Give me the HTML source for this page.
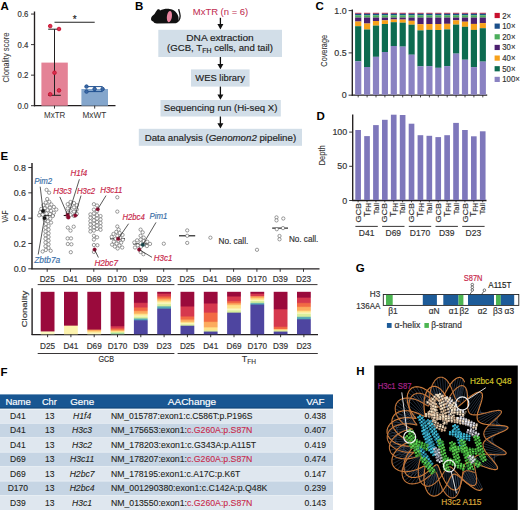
<!DOCTYPE html>
<html><head><meta charset="utf-8"><style>
html,body{margin:0;padding:0;background:#fff;}
svg{display:block;font-family:"Liberation Sans", sans-serif;}
</style></head><body>
<svg width="520" height="510" viewBox="0 0 520 510">
<defs><filter id="hblur" x="-10%" y="-10%" width="120%" height="120%"><feGaussianBlur stdDeviation="0.6"/></filter><clipPath id="hclip"><rect x="374.3" y="365.5" width="143.5" height="144.5"/></clipPath></defs>
<rect width="520" height="510" fill="#fff"/>
<text x="0.5" y="10.3" font-size="11.5" text-anchor="start" fill="#000" font-weight="bold" >A</text>
<line x1="31" y1="105.7" x2="34.5" y2="105.7" stroke="#231f20" stroke-width="0.9" />
<text x="28.4" y="108.9" font-size="8.9" text-anchor="end" fill="#333" stroke="#333" stroke-width="0.17" textLength="10.8" lengthAdjust="spacingAndGlyphs" >0.0</text>
<line x1="31" y1="75.15" x2="34.5" y2="75.15" stroke="#231f20" stroke-width="0.9" />
<text x="28.4" y="78.35" font-size="8.9" text-anchor="end" fill="#333" stroke="#333" stroke-width="0.17" textLength="10.8" lengthAdjust="spacingAndGlyphs" >0.2</text>
<line x1="31" y1="44.6" x2="34.5" y2="44.6" stroke="#231f20" stroke-width="0.9" />
<text x="28.4" y="47.8" font-size="8.9" text-anchor="end" fill="#333" stroke="#333" stroke-width="0.17" textLength="10.8" lengthAdjust="spacingAndGlyphs" >0.4</text>
<line x1="31" y1="14.05" x2="34.5" y2="14.05" stroke="#231f20" stroke-width="0.9" />
<text x="28.4" y="17.25" font-size="8.9" text-anchor="end" fill="#333" stroke="#333" stroke-width="0.17" textLength="10.8" lengthAdjust="spacingAndGlyphs" >0.6</text>
<line x1="34.5" y1="11.5" x2="34.5" y2="106.3" stroke="#231f20" stroke-width="1.35" />
<line x1="34" y1="105.7" x2="115.5" y2="105.7" stroke="#231f20" stroke-width="1.3" />
<rect x="41.4" y="62.6" width="26.4" height="43.1" fill="#e48296" />
<rect x="81.4" y="89" width="26.6" height="16.7" fill="#84a6cc" />
<line x1="54.5" y1="105.7" x2="54.5" y2="108.6" stroke="#231f20" stroke-width="0.9" />
<line x1="94.7" y1="105.7" x2="94.7" y2="108.6" stroke="#231f20" stroke-width="0.9" />
<line x1="54.5" y1="29.2" x2="54.5" y2="95.3" stroke="#231f20" stroke-width="1" />
<line x1="48.2" y1="29.2" x2="60.8" y2="29.2" stroke="#231f20" stroke-width="1" />
<line x1="48.2" y1="95.3" x2="60.8" y2="95.3" stroke="#231f20" stroke-width="1" />
<line x1="54.5" y1="22.2" x2="94.7" y2="22.2" stroke="#222" stroke-width="1.05" />
<text x="74.7" y="23.2" font-size="10" text-anchor="middle" fill="#222" stroke="#222" stroke-width="0.17" >*</text>
<line x1="86.5" y1="86.6" x2="102.6" y2="86.6" stroke="#1f4f8f" stroke-width="1" />
<line x1="86.5" y1="91.6" x2="102.6" y2="91.6" stroke="#1f4f8f" stroke-width="1" />
<line x1="94.6" y1="86.6" x2="94.6" y2="91.6" stroke="#1f4f8f" stroke-width="1" />
<circle cx="50.2" cy="26.1" r="1.8" fill="#d83050" stroke="#c8102e" stroke-width="0.9"/>
<circle cx="59" cy="29" r="1.8" fill="#d83050" stroke="#c8102e" stroke-width="0.9"/>
<circle cx="54.5" cy="72.7" r="1.8" fill="#d83050" stroke="#c8102e" stroke-width="0.9"/>
<circle cx="59" cy="90.4" r="1.8" fill="#d83050" stroke="#c8102e" stroke-width="0.9"/>
<circle cx="50.2" cy="94.3" r="1.8" fill="#d83050" stroke="#c8102e" stroke-width="0.9"/>
<circle cx="86.5" cy="86.6" r="1.75" fill="#3d69a5" stroke="#1f4f8f" stroke-width="0.9"/>
<circle cx="86.5" cy="91.6" r="1.75" fill="#3d69a5" stroke="#1f4f8f" stroke-width="0.9"/>
<circle cx="94.6" cy="89" r="1.75" fill="#3d69a5" stroke="#1f4f8f" stroke-width="0.9"/>
<circle cx="102.6" cy="89" r="1.75" fill="#3d69a5" stroke="#1f4f8f" stroke-width="0.9"/>
<text x="54.7" y="117.9" font-size="8.9" text-anchor="middle" fill="#333" stroke="#333" stroke-width="0.02" textLength="21.2" lengthAdjust="spacingAndGlyphs" >MxTR</text>
<text x="94.4" y="117.9" font-size="8.9" text-anchor="middle" fill="#333" stroke="#333" stroke-width="0.02" textLength="23.8" lengthAdjust="spacingAndGlyphs" >MxWT</text>
<text x="0" y="0" font-size="9.2" text-anchor="middle" fill="#333" stroke="#333" stroke-width="0.05" textLength="50" lengthAdjust="spacingAndGlyphs" transform="translate(8.6,57.5) rotate(-90)">Clonality score</text>
<text x="135" y="10.3" font-size="11.5" text-anchor="start" fill="#000" font-weight="bold" >B</text>
<path d="M151,19 C151,17 152.5,15.5 154.5,14 C155.5,12.5 156.5,10.8 157.5,9.6 C158.5,8.8 159.8,9.3 160,10.6 C162.5,9.2 166,8.6 169.5,8.9 C174,9.3 177.5,12.5 178.5,17 C179,20 178,22.5 176,23.3 L157,23.4 C155,23.4 153.8,22.8 153.5,21.8 C152.2,21.3 151,20.5 151,19 Z" fill="#111"/>
<path d="M177,21.8 C180,20.8 180.6,16.5 179.7,13.2 C179.2,11.5 178.9,10.4 178.7,9.2" fill="none" stroke="#111" stroke-width="1.3"/>
<ellipse cx="169.4" cy="16.6" rx="2.5" ry="5.7" fill="#e9849f" transform="rotate(8 169.4 16.6)"/>
<text x="192.8" y="14.6" font-size="9" text-anchor="start" fill="#c22e52" stroke="#c22e52" stroke-width="0.05" textLength="55.4" lengthAdjust="spacingAndGlyphs" >MxTR (n = 6)</text>
<line x1="220.4" y1="17.8" x2="220.4" y2="25.4" stroke="#111" stroke-width="1.3" />
<path d="M217.4,24.1 L223.4,24.1 L220.4,29.4 Z" fill="#111"/>
<rect x="158.3" y="29.8" width="123.7" height="27.2" fill="#d2dee8" />
<text x="220" y="40.6" font-size="9.9" text-anchor="middle" fill="#222" stroke="#222" stroke-width="0.17" textLength="67.4" lengthAdjust="spacingAndGlyphs" >DNA extraction</text>
<text x="220" y="51.2" font-size="9.9" stroke="#222" stroke-width="0.18" text-anchor="middle" fill="#222" textLength="105.8" lengthAdjust="spacingAndGlyphs">(GCB, T<tspan font-size="7.2" dy="1.9">FH</tspan><tspan dy="-1.9"> cells, and tail)</tspan></text>
<line x1="220.4" y1="57" x2="220.4" y2="65.2" stroke="#111" stroke-width="1.3" />
<path d="M217.4,63.9 L223.4,63.9 L220.4,69.2 Z" fill="#111"/>
<rect x="191" y="69.4" width="58.6" height="17.2" fill="#d2dee8" />
<text x="220.1" y="80.8" font-size="9.9" text-anchor="middle" fill="#222" stroke="#222" stroke-width="0.17" textLength="49.6" lengthAdjust="spacingAndGlyphs" >WES library</text>
<line x1="220.4" y1="86.6" x2="220.4" y2="95.8" stroke="#111" stroke-width="1.3" />
<path d="M217.4,94.5 L223.4,94.5 L220.4,99.8 Z" fill="#111"/>
<rect x="160.5" y="100" width="120.3" height="16.5" fill="#d2dee8" />
<text x="220.6" y="110.5" font-size="9.9" text-anchor="middle" fill="#222" stroke="#222" stroke-width="0.17" textLength="113.8" lengthAdjust="spacingAndGlyphs" >Sequencing run (Hi-seq X)</text>
<line x1="220.4" y1="116.5" x2="220.4" y2="124.6" stroke="#111" stroke-width="1.3" />
<path d="M217.4,123.3 L223.4,123.3 L220.4,128.6 Z" fill="#111"/>
<rect x="138.8" y="128.8" width="163.2" height="17" fill="#d2dee8" />
<text x="220.4" y="141" font-size="9.9" stroke="#222" stroke-width="0.18" text-anchor="middle" fill="#222" textLength="151.5" lengthAdjust="spacingAndGlyphs">Data analysis (<tspan font-style="italic">Genomon2</tspan> pipeline)</text>
<text x="315.5" y="10.3" font-size="11.5" text-anchor="start" fill="#000" font-weight="bold" >C</text>
<line x1="352.3" y1="9.5" x2="352.3" y2="95.7" stroke="#231f20" stroke-width="1.35" />
<line x1="351.8" y1="95.2" x2="487.2" y2="95.2" stroke="#231f20" stroke-width="1.3" />
<line x1="348.6" y1="95.2" x2="352.3" y2="95.2" stroke="#231f20" stroke-width="0.9" />
<text x="346.6" y="98.3" font-size="8.9" text-anchor="end" fill="#333" stroke="#333" stroke-width="0.17" >0</text>
<line x1="348.6" y1="52.9" x2="352.3" y2="52.9" stroke="#231f20" stroke-width="0.9" />
<text x="346.6" y="56" font-size="8.9" text-anchor="end" fill="#333" stroke="#333" stroke-width="0.17" >0.5</text>
<line x1="348.6" y1="10.6" x2="352.3" y2="10.6" stroke="#231f20" stroke-width="0.9" />
<text x="346.6" y="13.7" font-size="8.9" text-anchor="end" fill="#333" stroke="#333" stroke-width="0.17" >1.0</text>
<text x="0" y="0" font-size="9.2" text-anchor="middle" fill="#333" stroke="#333" stroke-width="0.08" textLength="31.7" lengthAdjust="spacingAndGlyphs" transform="translate(327.4,50.8) rotate(-90)">Coverage</text>
<rect x="355.1" y="12.8" width="6.2" height="0.95" fill="#c8102e" />
<rect x="355.1" y="13.7" width="6.2" height="1.65" fill="#1b4f8a" />
<rect x="355.1" y="15.3" width="6.2" height="2.35" fill="#4cae5c" />
<rect x="355.1" y="17.6" width="6.2" height="3.95" fill="#4b1f6f" />
<rect x="355.1" y="21.5" width="6.2" height="4.75" fill="#f7a11a" />
<rect x="355.1" y="26.2" width="6.2" height="35.15" fill="#0d6b50" />
<rect x="355.1" y="61.3" width="6.2" height="33.45" fill="#8a82c2" />
<line x1="358.2" y1="95.2" x2="358.2" y2="97.4" stroke="#231f20" stroke-width="0.8" />
<rect x="364" y="12.8" width="6.2" height="0.95" fill="#c8102e" />
<rect x="364" y="13.7" width="6.2" height="1.65" fill="#1b4f8a" />
<rect x="364" y="15.3" width="6.2" height="2.35" fill="#4cae5c" />
<rect x="364" y="17.6" width="6.2" height="5.95" fill="#4b1f6f" />
<rect x="364" y="23.5" width="6.2" height="6.05" fill="#f7a11a" />
<rect x="364" y="29.5" width="6.2" height="37.55" fill="#0d6b50" />
<rect x="364" y="67" width="6.2" height="27.75" fill="#8a82c2" />
<line x1="367.1" y1="95.2" x2="367.1" y2="97.4" stroke="#231f20" stroke-width="0.8" />
<rect x="372.9" y="12.8" width="6.2" height="0.95" fill="#c8102e" />
<rect x="372.9" y="13.7" width="6.2" height="1.65" fill="#1b4f8a" />
<rect x="372.9" y="15.3" width="6.2" height="2.35" fill="#4cae5c" />
<rect x="372.9" y="17.6" width="6.2" height="3.45" fill="#4b1f6f" />
<rect x="372.9" y="21" width="6.2" height="4.65" fill="#f7a11a" />
<rect x="372.9" y="25.6" width="6.2" height="31.25" fill="#0d6b50" />
<rect x="372.9" y="56.8" width="6.2" height="37.95" fill="#8a82c2" />
<line x1="376" y1="95.2" x2="376" y2="97.4" stroke="#231f20" stroke-width="0.8" />
<rect x="381.8" y="12.8" width="6.2" height="0.95" fill="#c8102e" />
<rect x="381.8" y="13.7" width="6.2" height="1.65" fill="#1b4f8a" />
<rect x="381.8" y="15.3" width="6.2" height="2.35" fill="#4cae5c" />
<rect x="381.8" y="17.6" width="6.2" height="2.75" fill="#4b1f6f" />
<rect x="381.8" y="20.3" width="6.2" height="3.75" fill="#f7a11a" />
<rect x="381.8" y="24" width="6.2" height="28.05" fill="#0d6b50" />
<rect x="381.8" y="52" width="6.2" height="42.75" fill="#8a82c2" />
<line x1="384.9" y1="95.2" x2="384.9" y2="97.4" stroke="#231f20" stroke-width="0.8" />
<rect x="390.7" y="12.8" width="6.2" height="0.95" fill="#c8102e" />
<rect x="390.7" y="13.7" width="6.2" height="1.65" fill="#1b4f8a" />
<rect x="390.7" y="15.3" width="6.2" height="2.35" fill="#4cae5c" />
<rect x="390.7" y="17.6" width="6.2" height="1.95" fill="#4b1f6f" />
<rect x="390.7" y="19.5" width="6.2" height="2.75" fill="#f7a11a" />
<rect x="390.7" y="22.2" width="6.2" height="23.85" fill="#0d6b50" />
<rect x="390.7" y="46" width="6.2" height="48.75" fill="#8a82c2" />
<line x1="393.8" y1="95.2" x2="393.8" y2="97.4" stroke="#231f20" stroke-width="0.8" />
<rect x="399.6" y="12.8" width="6.2" height="0.95" fill="#c8102e" />
<rect x="399.6" y="13.7" width="6.2" height="1.65" fill="#1b4f8a" />
<rect x="399.6" y="15.3" width="6.2" height="2.35" fill="#4cae5c" />
<rect x="399.6" y="17.6" width="6.2" height="2.05" fill="#4b1f6f" />
<rect x="399.6" y="19.6" width="6.2" height="3.15" fill="#f7a11a" />
<rect x="399.6" y="22.7" width="6.2" height="23.95" fill="#0d6b50" />
<rect x="399.6" y="46.6" width="6.2" height="48.15" fill="#8a82c2" />
<line x1="402.7" y1="95.2" x2="402.7" y2="97.4" stroke="#231f20" stroke-width="0.8" />
<rect x="408.5" y="12.8" width="6.2" height="0.95" fill="#c8102e" />
<rect x="408.5" y="13.7" width="6.2" height="1.65" fill="#1b4f8a" />
<rect x="408.5" y="15.3" width="6.2" height="2.35" fill="#4cae5c" />
<rect x="408.5" y="17.6" width="6.2" height="3.25" fill="#4b1f6f" />
<rect x="408.5" y="20.8" width="6.2" height="3.95" fill="#f7a11a" />
<rect x="408.5" y="24.7" width="6.2" height="30.05" fill="#0d6b50" />
<rect x="408.5" y="54.7" width="6.2" height="40.05" fill="#8a82c2" />
<line x1="411.6" y1="95.2" x2="411.6" y2="97.4" stroke="#231f20" stroke-width="0.8" />
<rect x="417.4" y="12.8" width="6.2" height="0.95" fill="#c8102e" />
<rect x="417.4" y="13.7" width="6.2" height="1.65" fill="#1b4f8a" />
<rect x="417.4" y="15.3" width="6.2" height="2.35" fill="#4cae5c" />
<rect x="417.4" y="17.6" width="6.2" height="6.65" fill="#4b1f6f" />
<rect x="417.4" y="24.2" width="6.2" height="6.25" fill="#f7a11a" />
<rect x="417.4" y="30.4" width="6.2" height="35.95" fill="#0d6b50" />
<rect x="417.4" y="66.3" width="6.2" height="28.45" fill="#8a82c2" />
<line x1="420.5" y1="95.2" x2="420.5" y2="97.4" stroke="#231f20" stroke-width="0.8" />
<rect x="426.3" y="12.8" width="6.2" height="0.95" fill="#c8102e" />
<rect x="426.3" y="13.7" width="6.2" height="1.65" fill="#1b4f8a" />
<rect x="426.3" y="15.3" width="6.2" height="2.35" fill="#4cae5c" />
<rect x="426.3" y="17.6" width="6.2" height="6.45" fill="#4b1f6f" />
<rect x="426.3" y="24" width="6.2" height="5.85" fill="#f7a11a" />
<rect x="426.3" y="29.8" width="6.2" height="36.35" fill="#0d6b50" />
<rect x="426.3" y="66.1" width="6.2" height="28.65" fill="#8a82c2" />
<line x1="429.4" y1="95.2" x2="429.4" y2="97.4" stroke="#231f20" stroke-width="0.8" />
<rect x="435.2" y="12.8" width="6.2" height="0.95" fill="#c8102e" />
<rect x="435.2" y="13.7" width="6.2" height="1.65" fill="#1b4f8a" />
<rect x="435.2" y="15.3" width="6.2" height="2.35" fill="#4cae5c" />
<rect x="435.2" y="17.6" width="6.2" height="6.45" fill="#4b1f6f" />
<rect x="435.2" y="24" width="6.2" height="6.05" fill="#f7a11a" />
<rect x="435.2" y="30" width="6.2" height="37.85" fill="#0d6b50" />
<rect x="435.2" y="67.8" width="6.2" height="26.95" fill="#8a82c2" />
<line x1="438.3" y1="95.2" x2="438.3" y2="97.4" stroke="#231f20" stroke-width="0.8" />
<rect x="444.1" y="12.8" width="6.2" height="0.95" fill="#c8102e" />
<rect x="444.1" y="13.7" width="6.2" height="1.65" fill="#1b4f8a" />
<rect x="444.1" y="15.3" width="6.2" height="2.35" fill="#4cae5c" />
<rect x="444.1" y="17.6" width="6.2" height="6.25" fill="#4b1f6f" />
<rect x="444.1" y="23.8" width="6.2" height="5.65" fill="#f7a11a" />
<rect x="444.1" y="29.4" width="6.2" height="36.75" fill="#0d6b50" />
<rect x="444.1" y="66.1" width="6.2" height="28.65" fill="#8a82c2" />
<line x1="447.2" y1="95.2" x2="447.2" y2="97.4" stroke="#231f20" stroke-width="0.8" />
<rect x="453" y="12.8" width="6.2" height="0.95" fill="#c8102e" />
<rect x="453" y="13.7" width="6.2" height="1.65" fill="#1b4f8a" />
<rect x="453" y="15.3" width="6.2" height="2.35" fill="#4cae5c" />
<rect x="453" y="17.6" width="6.2" height="2.75" fill="#4b1f6f" />
<rect x="453" y="20.3" width="6.2" height="4.35" fill="#f7a11a" />
<rect x="453" y="24.6" width="6.2" height="29.05" fill="#0d6b50" />
<rect x="453" y="53.6" width="6.2" height="41.15" fill="#8a82c2" />
<line x1="456.1" y1="95.2" x2="456.1" y2="97.4" stroke="#231f20" stroke-width="0.8" />
<rect x="461.9" y="12.8" width="6.2" height="0.95" fill="#c8102e" />
<rect x="461.9" y="13.7" width="6.2" height="1.65" fill="#1b4f8a" />
<rect x="461.9" y="15.3" width="6.2" height="2.35" fill="#4cae5c" />
<rect x="461.9" y="17.6" width="6.2" height="4.15" fill="#4b1f6f" />
<rect x="461.9" y="21.7" width="6.2" height="5.15" fill="#f7a11a" />
<rect x="461.9" y="26.8" width="6.2" height="32.95" fill="#0d6b50" />
<rect x="461.9" y="59.7" width="6.2" height="35.05" fill="#8a82c2" />
<line x1="465" y1="95.2" x2="465" y2="97.4" stroke="#231f20" stroke-width="0.8" />
<rect x="470.8" y="12.8" width="6.2" height="0.95" fill="#c8102e" />
<rect x="470.8" y="13.7" width="6.2" height="1.65" fill="#1b4f8a" />
<rect x="470.8" y="15.3" width="6.2" height="2.35" fill="#4cae5c" />
<rect x="470.8" y="17.6" width="6.2" height="6.35" fill="#4b1f6f" />
<rect x="470.8" y="23.9" width="6.2" height="6.05" fill="#f7a11a" />
<rect x="470.8" y="29.9" width="6.2" height="37.25" fill="#0d6b50" />
<rect x="470.8" y="67.1" width="6.2" height="27.65" fill="#8a82c2" />
<line x1="473.9" y1="95.2" x2="473.9" y2="97.4" stroke="#231f20" stroke-width="0.8" />
<rect x="479.7" y="12.8" width="6.2" height="0.95" fill="#c8102e" />
<rect x="479.7" y="13.7" width="6.2" height="1.65" fill="#1b4f8a" />
<rect x="479.7" y="15.3" width="6.2" height="2.35" fill="#4cae5c" />
<rect x="479.7" y="17.6" width="6.2" height="5.55" fill="#4b1f6f" />
<rect x="479.7" y="23.1" width="6.2" height="5.15" fill="#f7a11a" />
<rect x="479.7" y="28.2" width="6.2" height="33.45" fill="#0d6b50" />
<rect x="479.7" y="61.6" width="6.2" height="33.15" fill="#8a82c2" />
<line x1="482.8" y1="95.2" x2="482.8" y2="97.4" stroke="#231f20" stroke-width="0.8" />
<rect x="494.6" y="12.9" width="5.2" height="5.2" fill="#c8102e" />
<text x="502.3" y="18.5" font-size="8.7" text-anchor="start" fill="#333" stroke="#333" stroke-width="0.17" textLength="8.85" lengthAdjust="spacingAndGlyphs" >2&#215;</text>
<rect x="494.6" y="23.55" width="5.2" height="5.2" fill="#1b4f8a" />
<text x="502.3" y="29.15" font-size="8.7" text-anchor="start" fill="#333" stroke="#333" stroke-width="0.17" textLength="13.16" lengthAdjust="spacingAndGlyphs" >10&#215;</text>
<rect x="494.6" y="34.2" width="5.2" height="5.2" fill="#4cae5c" />
<text x="502.3" y="39.8" font-size="8.7" text-anchor="start" fill="#333" stroke="#333" stroke-width="0.17" textLength="13.16" lengthAdjust="spacingAndGlyphs" >20&#215;</text>
<rect x="494.6" y="44.85" width="5.2" height="5.2" fill="#4b1f6f" />
<text x="502.3" y="50.45" font-size="8.7" text-anchor="start" fill="#333" stroke="#333" stroke-width="0.17" textLength="13.16" lengthAdjust="spacingAndGlyphs" >30&#215;</text>
<rect x="494.6" y="55.5" width="5.2" height="5.2" fill="#f7a11a" />
<text x="502.3" y="61.1" font-size="8.7" text-anchor="start" fill="#333" stroke="#333" stroke-width="0.17" textLength="13.16" lengthAdjust="spacingAndGlyphs" >40&#215;</text>
<rect x="494.6" y="66.15" width="5.2" height="5.2" fill="#0d6b50" />
<text x="502.3" y="71.75" font-size="8.7" text-anchor="start" fill="#333" stroke="#333" stroke-width="0.17" textLength="13.16" lengthAdjust="spacingAndGlyphs" >50&#215;</text>
<rect x="494.6" y="76.8" width="5.2" height="5.2" fill="#8a82c2" />
<text x="502.3" y="82.4" font-size="8.7" text-anchor="start" fill="#333" stroke="#333" stroke-width="0.17" textLength="17.48" lengthAdjust="spacingAndGlyphs" >100&#215;</text>
<text x="316.5" y="120.3" font-size="11.5" text-anchor="start" fill="#000" font-weight="bold" >D</text>
<line x1="352.7" y1="114.5" x2="352.7" y2="201" stroke="#231f20" stroke-width="1.35" />
<line x1="352.2" y1="200.5" x2="486.5" y2="200.5" stroke="#231f20" stroke-width="1.3" />
<line x1="349.2" y1="200.5" x2="352.7" y2="200.5" stroke="#231f20" stroke-width="0.9" />
<text x="347.2" y="203.6" font-size="8.9" text-anchor="end" fill="#333" stroke="#333" stroke-width="0.17" >0</text>
<line x1="349.2" y1="166.3" x2="352.7" y2="166.3" stroke="#231f20" stroke-width="0.9" />
<text x="347.2" y="169.4" font-size="8.9" text-anchor="end" fill="#333" stroke="#333" stroke-width="0.17" >50</text>
<line x1="349.2" y1="132.1" x2="352.7" y2="132.1" stroke="#231f20" stroke-width="0.9" />
<text x="347.2" y="135.2" font-size="8.9" text-anchor="end" fill="#333" stroke="#333" stroke-width="0.17" >100</text>
<text x="0" y="0" font-size="9.2" text-anchor="middle" fill="#333" stroke="#333" stroke-width="0.08" textLength="20" lengthAdjust="spacingAndGlyphs" transform="translate(325.2,155.3) rotate(-90)">Depth</text>
<rect x="355.3" y="130" width="5.65" height="70" fill="#7e77bb" />
<line x1="358.12" y1="200.5" x2="358.12" y2="202.3" stroke="#231f20" stroke-width="0.8" />
<text x="0" y="0" font-size="7.6" text-anchor="end" fill="#333" stroke="#333" stroke-width="0.17" textLength="19.5" lengthAdjust="spacingAndGlyphs" transform="translate(360.73,203) rotate(-90)">GCB</text>
<rect x="364.2" y="136.1" width="5.65" height="63.9" fill="#7e77bb" />
<line x1="367.02" y1="200.5" x2="367.02" y2="202.3" stroke="#231f20" stroke-width="0.8" />
<text font-size="8.2" text-anchor="end" fill="#333" stroke="#333" stroke-width="0.15" transform="translate(369.62,203) rotate(-90)">T<tspan font-size="6.6" dy="1.2">FH</tspan></text>
<rect x="373.1" y="125.1" width="5.65" height="74.9" fill="#7e77bb" />
<line x1="375.93" y1="200.5" x2="375.93" y2="202.3" stroke="#231f20" stroke-width="0.8" />
<text x="0" y="0" font-size="7.6" text-anchor="end" fill="#333" stroke="#333" stroke-width="0.17" textLength="11.5" lengthAdjust="spacingAndGlyphs" transform="translate(378.53,203) rotate(-90)">Tail</text>
<rect x="382" y="119.8" width="5.65" height="80.2" fill="#7e77bb" />
<line x1="384.82" y1="200.5" x2="384.82" y2="202.3" stroke="#231f20" stroke-width="0.8" />
<text x="0" y="0" font-size="7.6" text-anchor="end" fill="#333" stroke="#333" stroke-width="0.17" textLength="19.5" lengthAdjust="spacingAndGlyphs" transform="translate(387.43,203) rotate(-90)">GCB</text>
<rect x="390.9" y="114.7" width="5.65" height="85.3" fill="#7e77bb" />
<line x1="393.73" y1="200.5" x2="393.73" y2="202.3" stroke="#231f20" stroke-width="0.8" />
<text font-size="8.2" text-anchor="end" fill="#333" stroke="#333" stroke-width="0.15" transform="translate(396.33,203) rotate(-90)">T<tspan font-size="6.6" dy="1.2">FH</tspan></text>
<rect x="399.8" y="115" width="5.65" height="85" fill="#7e77bb" />
<line x1="402.62" y1="200.5" x2="402.62" y2="202.3" stroke="#231f20" stroke-width="0.8" />
<text x="0" y="0" font-size="7.6" text-anchor="end" fill="#333" stroke="#333" stroke-width="0.17" textLength="11.5" lengthAdjust="spacingAndGlyphs" transform="translate(405.23,203) rotate(-90)">Tail</text>
<rect x="408.7" y="123.7" width="5.65" height="76.3" fill="#7e77bb" />
<line x1="411.53" y1="200.5" x2="411.53" y2="202.3" stroke="#231f20" stroke-width="0.8" />
<text x="0" y="0" font-size="7.6" text-anchor="end" fill="#333" stroke="#333" stroke-width="0.17" textLength="19.5" lengthAdjust="spacingAndGlyphs" transform="translate(414.13,203) rotate(-90)">GCB</text>
<rect x="417.6" y="135.2" width="5.65" height="64.8" fill="#7e77bb" />
<line x1="420.43" y1="200.5" x2="420.43" y2="202.3" stroke="#231f20" stroke-width="0.8" />
<text font-size="8.2" text-anchor="end" fill="#333" stroke="#333" stroke-width="0.15" transform="translate(423.03,203) rotate(-90)">T<tspan font-size="6.6" dy="1.2">FH</tspan></text>
<rect x="426.5" y="135.8" width="5.65" height="64.2" fill="#7e77bb" />
<line x1="429.32" y1="200.5" x2="429.32" y2="202.3" stroke="#231f20" stroke-width="0.8" />
<text x="0" y="0" font-size="7.6" text-anchor="end" fill="#333" stroke="#333" stroke-width="0.17" textLength="11.5" lengthAdjust="spacingAndGlyphs" transform="translate(431.93,203) rotate(-90)">Tail</text>
<rect x="435.4" y="137.1" width="5.65" height="62.9" fill="#7e77bb" />
<line x1="438.23" y1="200.5" x2="438.23" y2="202.3" stroke="#231f20" stroke-width="0.8" />
<text x="0" y="0" font-size="7.6" text-anchor="end" fill="#333" stroke="#333" stroke-width="0.17" textLength="19.5" lengthAdjust="spacingAndGlyphs" transform="translate(440.83,203) rotate(-90)">GCB</text>
<rect x="444.3" y="135.2" width="5.65" height="64.8" fill="#7e77bb" />
<line x1="447.12" y1="200.5" x2="447.12" y2="202.3" stroke="#231f20" stroke-width="0.8" />
<text font-size="8.2" text-anchor="end" fill="#333" stroke="#333" stroke-width="0.15" transform="translate(449.73,203) rotate(-90)">T<tspan font-size="6.6" dy="1.2">FH</tspan></text>
<rect x="453.2" y="122.9" width="5.65" height="77.1" fill="#7e77bb" />
<line x1="456.03" y1="200.5" x2="456.03" y2="202.3" stroke="#231f20" stroke-width="0.8" />
<text x="0" y="0" font-size="7.6" text-anchor="end" fill="#333" stroke="#333" stroke-width="0.17" textLength="11.5" lengthAdjust="spacingAndGlyphs" transform="translate(458.63,203) rotate(-90)">Tail</text>
<rect x="462.1" y="130" width="5.65" height="70" fill="#7e77bb" />
<line x1="464.93" y1="200.5" x2="464.93" y2="202.3" stroke="#231f20" stroke-width="0.8" />
<text x="0" y="0" font-size="7.6" text-anchor="end" fill="#333" stroke="#333" stroke-width="0.17" textLength="19.5" lengthAdjust="spacingAndGlyphs" transform="translate(467.53,203) rotate(-90)">GCB</text>
<rect x="471" y="136.3" width="5.65" height="63.7" fill="#7e77bb" />
<line x1="473.82" y1="200.5" x2="473.82" y2="202.3" stroke="#231f20" stroke-width="0.8" />
<text font-size="8.2" text-anchor="end" fill="#333" stroke="#333" stroke-width="0.15" transform="translate(476.43,203) rotate(-90)">T<tspan font-size="6.6" dy="1.2">FH</tspan></text>
<rect x="479.9" y="131.3" width="5.65" height="68.7" fill="#7e77bb" />
<line x1="482.73" y1="200.5" x2="482.73" y2="202.3" stroke="#231f20" stroke-width="0.8" />
<text x="0" y="0" font-size="7.6" text-anchor="end" fill="#333" stroke="#333" stroke-width="0.17" textLength="11.5" lengthAdjust="spacingAndGlyphs" transform="translate(485.33,203) rotate(-90)">Tail</text>
<line x1="355.4" y1="226.4" x2="377.8" y2="226.4" stroke="#231f20" stroke-width="0.9" />
<text x="366.6" y="235.8" font-size="8.5" text-anchor="middle" fill="#333" stroke="#333" stroke-width="0.17" >D41</text>
<line x1="382.1" y1="226.4" x2="404.5" y2="226.4" stroke="#231f20" stroke-width="0.9" />
<text x="393.3" y="235.8" font-size="8.5" text-anchor="middle" fill="#333" stroke="#333" stroke-width="0.17" >D69</text>
<line x1="408.8" y1="226.4" x2="431.2" y2="226.4" stroke="#231f20" stroke-width="0.9" />
<text x="420" y="235.8" font-size="8.5" text-anchor="middle" fill="#333" stroke="#333" stroke-width="0.17" >D170</text>
<line x1="435.5" y1="226.4" x2="457.9" y2="226.4" stroke="#231f20" stroke-width="0.9" />
<text x="446.7" y="235.8" font-size="8.5" text-anchor="middle" fill="#333" stroke="#333" stroke-width="0.17" >D39</text>
<line x1="462.2" y1="226.4" x2="484.6" y2="226.4" stroke="#231f20" stroke-width="0.9" />
<text x="473.4" y="235.8" font-size="8.5" text-anchor="middle" fill="#333" stroke="#333" stroke-width="0.17" >D23</text>
<text x="0.5" y="159.6" font-size="11.5" text-anchor="start" fill="#000" font-weight="bold" >E</text>
<line x1="32" y1="163" x2="32" y2="269.3" stroke="#231f20" stroke-width="1.45" />
<line x1="31.5" y1="268.8" x2="319.5" y2="268.8" stroke="#231f20" stroke-width="1.3" />
<line x1="28.3" y1="268.8" x2="32" y2="268.8" stroke="#231f20" stroke-width="0.9" />
<text x="26" y="271.9" font-size="8.9" text-anchor="end" fill="#333" stroke="#333" stroke-width="0.17" >0.0</text>
<line x1="28.3" y1="243.48" x2="32" y2="243.48" stroke="#231f20" stroke-width="0.9" />
<text x="26" y="246.58" font-size="8.9" text-anchor="end" fill="#333" stroke="#333" stroke-width="0.17" >0.2</text>
<line x1="28.3" y1="218.16" x2="32" y2="218.16" stroke="#231f20" stroke-width="0.9" />
<text x="26" y="221.26" font-size="8.9" text-anchor="end" fill="#333" stroke="#333" stroke-width="0.17" >0.4</text>
<line x1="28.3" y1="192.84" x2="32" y2="192.84" stroke="#231f20" stroke-width="0.9" />
<text x="26" y="195.94" font-size="8.9" text-anchor="end" fill="#333" stroke="#333" stroke-width="0.17" >0.6</text>
<line x1="28.3" y1="167.52" x2="32" y2="167.52" stroke="#231f20" stroke-width="0.9" />
<text x="26" y="170.62" font-size="8.9" text-anchor="end" fill="#333" stroke="#333" stroke-width="0.17" >0.8</text>
<text x="0" y="0" font-size="9.2" text-anchor="middle" fill="#333" stroke="#333" stroke-width="0.08" textLength="12.2" lengthAdjust="spacingAndGlyphs" transform="translate(8.4,216.5) rotate(-90)">VAF</text>
<line x1="47.2" y1="268.8" x2="47.2" y2="271.8" stroke="#231f20" stroke-width="0.9" />
<text x="47.2" y="281.8" font-size="8.2" text-anchor="middle" fill="#333" stroke="#333" stroke-width="0.17" >D25</text>
<line x1="70.5" y1="268.8" x2="70.5" y2="271.8" stroke="#231f20" stroke-width="0.9" />
<text x="70.5" y="281.8" font-size="8.2" text-anchor="middle" fill="#333" stroke="#333" stroke-width="0.17" >D41</text>
<line x1="93.8" y1="268.8" x2="93.8" y2="271.8" stroke="#231f20" stroke-width="0.9" />
<text x="93.8" y="281.8" font-size="8.2" text-anchor="middle" fill="#333" stroke="#333" stroke-width="0.17" >D69</text>
<line x1="117.1" y1="268.8" x2="117.1" y2="271.8" stroke="#231f20" stroke-width="0.9" />
<text x="117.1" y="281.8" font-size="8.2" text-anchor="middle" fill="#333" stroke="#333" stroke-width="0.17" >D170</text>
<line x1="140.4" y1="268.8" x2="140.4" y2="271.8" stroke="#231f20" stroke-width="0.9" />
<text x="140.4" y="281.8" font-size="8.2" text-anchor="middle" fill="#333" stroke="#333" stroke-width="0.17" >D39</text>
<line x1="163.7" y1="268.8" x2="163.7" y2="271.8" stroke="#231f20" stroke-width="0.9" />
<text x="163.7" y="281.8" font-size="8.2" text-anchor="middle" fill="#333" stroke="#333" stroke-width="0.17" >D23</text>
<line x1="187" y1="268.8" x2="187" y2="271.8" stroke="#231f20" stroke-width="0.9" />
<text x="187" y="281.8" font-size="8.2" text-anchor="middle" fill="#333" stroke="#333" stroke-width="0.17" >D25</text>
<line x1="210.3" y1="268.8" x2="210.3" y2="271.8" stroke="#231f20" stroke-width="0.9" />
<text x="210.3" y="281.8" font-size="8.2" text-anchor="middle" fill="#333" stroke="#333" stroke-width="0.17" >D41</text>
<line x1="233.6" y1="268.8" x2="233.6" y2="271.8" stroke="#231f20" stroke-width="0.9" />
<text x="233.6" y="281.8" font-size="8.2" text-anchor="middle" fill="#333" stroke="#333" stroke-width="0.17" >D69</text>
<line x1="256.9" y1="268.8" x2="256.9" y2="271.8" stroke="#231f20" stroke-width="0.9" />
<text x="256.9" y="281.8" font-size="8.2" text-anchor="middle" fill="#333" stroke="#333" stroke-width="0.17" >D170</text>
<line x1="280.2" y1="268.8" x2="280.2" y2="271.8" stroke="#231f20" stroke-width="0.9" />
<text x="280.2" y="281.8" font-size="8.2" text-anchor="middle" fill="#333" stroke="#333" stroke-width="0.17" >D39</text>
<line x1="303.5" y1="268.8" x2="303.5" y2="271.8" stroke="#231f20" stroke-width="0.9" />
<text x="303.5" y="281.8" font-size="8.2" text-anchor="middle" fill="#333" stroke="#333" stroke-width="0.17" >D23</text>
<line x1="37.7" y1="284.6" x2="174.4" y2="284.6" stroke="#231f20" stroke-width="0.9" />
<line x1="177.6" y1="284.6" x2="317.5" y2="284.6" stroke="#231f20" stroke-width="0.9" />
<line x1="39.9" y1="215.6" x2="54.7" y2="215.6" stroke="#111" stroke-width="1.1" />
<line x1="63.7" y1="215.5" x2="77.8" y2="215.5" stroke="#111" stroke-width="1.1" />
<line x1="110" y1="238.8" x2="125" y2="238.8" stroke="#111" stroke-width="1.1" />
<line x1="133.1" y1="243.9" x2="148" y2="243.9" stroke="#111" stroke-width="1.1" />
<line x1="179" y1="235.8" x2="195.2" y2="235.8" stroke="#111" stroke-width="1.1" />
<line x1="272.2" y1="228.1" x2="288" y2="228.1" stroke="#111" stroke-width="1.1" />
<circle cx="46.6" cy="189.9" r="1.65" fill="#fff" stroke="#5a5a5a" stroke-width="0.6"/>
<circle cx="49.1" cy="192.7" r="1.65" fill="#fff" stroke="#5a5a5a" stroke-width="0.6"/>
<circle cx="47.2" cy="199" r="1.65" fill="#fff" stroke="#5a5a5a" stroke-width="0.6"/>
<circle cx="49.3" cy="201.8" r="1.65" fill="#fff" stroke="#5a5a5a" stroke-width="0.6"/>
<circle cx="45.8" cy="202.6" r="1.65" fill="#fff" stroke="#5a5a5a" stroke-width="0.6"/>
<circle cx="51.4" cy="204.5" r="1.65" fill="#fff" stroke="#5a5a5a" stroke-width="0.6"/>
<circle cx="43.35" cy="205.2" r="1.65" fill="#fff" stroke="#5a5a5a" stroke-width="0.6"/>
<circle cx="47.2" cy="205.8" r="1.65" fill="#fff" stroke="#5a5a5a" stroke-width="0.6"/>
<circle cx="53.85" cy="207" r="1.65" fill="#fff" stroke="#5a5a5a" stroke-width="0.6"/>
<circle cx="50" cy="207.64" r="1.65" fill="#fff" stroke="#5a5a5a" stroke-width="0.6"/>
<circle cx="44.75" cy="208.29" r="1.65" fill="#fff" stroke="#5a5a5a" stroke-width="0.6"/>
<circle cx="41.25" cy="208.93" r="1.65" fill="#fff" stroke="#5a5a5a" stroke-width="0.6"/>
<circle cx="56.3" cy="209.57" r="1.65" fill="#fff" stroke="#5a5a5a" stroke-width="0.6"/>
<circle cx="47.55" cy="210.21" r="1.65" fill="#fff" stroke="#5a5a5a" stroke-width="0.6"/>
<circle cx="51.05" cy="210.86" r="1.65" fill="#fff" stroke="#5a5a5a" stroke-width="0.6"/>
<circle cx="43.7" cy="211.5" r="1.65" fill="#fff" stroke="#5a5a5a" stroke-width="0.6"/>
<circle cx="40.2" cy="212.14" r="1.65" fill="#fff" stroke="#5a5a5a" stroke-width="0.6"/>
<circle cx="53.85" cy="212.79" r="1.65" fill="#fff" stroke="#5a5a5a" stroke-width="0.6"/>
<circle cx="46.5" cy="213.43" r="1.65" fill="#fff" stroke="#5a5a5a" stroke-width="0.6"/>
<circle cx="50" cy="214.07" r="1.65" fill="#fff" stroke="#5a5a5a" stroke-width="0.6"/>
<circle cx="42.65" cy="214.71" r="1.65" fill="#fff" stroke="#5a5a5a" stroke-width="0.6"/>
<circle cx="39.15" cy="215.36" r="1.65" fill="#fff" stroke="#5a5a5a" stroke-width="0.6"/>
<circle cx="52.8" cy="216" r="1.65" fill="#fff" stroke="#5a5a5a" stroke-width="0.6"/>
<circle cx="47.2" cy="217.5" r="1.65" fill="#fff" stroke="#5a5a5a" stroke-width="0.6"/>
<circle cx="50.35" cy="218.7" r="1.65" fill="#fff" stroke="#5a5a5a" stroke-width="0.6"/>
<circle cx="44.75" cy="220" r="1.65" fill="#fff" stroke="#5a5a5a" stroke-width="0.6"/>
<circle cx="47.9" cy="221.3" r="1.65" fill="#fff" stroke="#5a5a5a" stroke-width="0.6"/>
<circle cx="51.05" cy="222.6" r="1.65" fill="#fff" stroke="#5a5a5a" stroke-width="0.6"/>
<circle cx="45.8" cy="224" r="1.65" fill="#fff" stroke="#5a5a5a" stroke-width="0.6"/>
<circle cx="48.6" cy="226" r="1.65" fill="#fff" stroke="#5a5a5a" stroke-width="0.6"/>
<circle cx="45.45" cy="227.83" r="1.65" fill="#fff" stroke="#5a5a5a" stroke-width="0.6"/>
<circle cx="48.6" cy="229.67" r="1.65" fill="#fff" stroke="#5a5a5a" stroke-width="0.6"/>
<circle cx="45.45" cy="231.5" r="1.65" fill="#fff" stroke="#5a5a5a" stroke-width="0.6"/>
<circle cx="48.6" cy="233.33" r="1.65" fill="#fff" stroke="#5a5a5a" stroke-width="0.6"/>
<circle cx="45.45" cy="235.17" r="1.65" fill="#fff" stroke="#5a5a5a" stroke-width="0.6"/>
<circle cx="48.6" cy="237" r="1.65" fill="#fff" stroke="#5a5a5a" stroke-width="0.6"/>
<circle cx="45.45" cy="238.83" r="1.65" fill="#fff" stroke="#5a5a5a" stroke-width="0.6"/>
<circle cx="48.6" cy="240.67" r="1.65" fill="#fff" stroke="#5a5a5a" stroke-width="0.6"/>
<circle cx="45.45" cy="242.5" r="1.65" fill="#fff" stroke="#5a5a5a" stroke-width="0.6"/>
<circle cx="48.6" cy="244.33" r="1.65" fill="#fff" stroke="#5a5a5a" stroke-width="0.6"/>
<circle cx="45.45" cy="246.17" r="1.65" fill="#fff" stroke="#5a5a5a" stroke-width="0.6"/>
<circle cx="48.6" cy="248" r="1.65" fill="#fff" stroke="#5a5a5a" stroke-width="0.6"/>
<circle cx="45.8" cy="250" r="1.65" fill="#fff" stroke="#5a5a5a" stroke-width="0.6"/>
<circle cx="50.7" cy="250.8" r="1.65" fill="#fff" stroke="#5a5a5a" stroke-width="0.6"/>
<circle cx="42.65" cy="251.5" r="1.65" fill="#fff" stroke="#5a5a5a" stroke-width="0.6"/>
<circle cx="70.5" cy="202" r="1.65" fill="#fff" stroke="#5a5a5a" stroke-width="0.6"/>
<circle cx="74" cy="203.07" r="1.65" fill="#fff" stroke="#5a5a5a" stroke-width="0.6"/>
<circle cx="67.7" cy="204.14" r="1.65" fill="#fff" stroke="#5a5a5a" stroke-width="0.6"/>
<circle cx="76.8" cy="205.21" r="1.65" fill="#fff" stroke="#5a5a5a" stroke-width="0.6"/>
<circle cx="70.5" cy="206.29" r="1.65" fill="#fff" stroke="#5a5a5a" stroke-width="0.6"/>
<circle cx="74" cy="207.36" r="1.65" fill="#fff" stroke="#5a5a5a" stroke-width="0.6"/>
<circle cx="67.7" cy="208.43" r="1.65" fill="#fff" stroke="#5a5a5a" stroke-width="0.6"/>
<circle cx="76.8" cy="209.5" r="1.65" fill="#fff" stroke="#5a5a5a" stroke-width="0.6"/>
<circle cx="70.5" cy="210.57" r="1.65" fill="#fff" stroke="#5a5a5a" stroke-width="0.6"/>
<circle cx="74" cy="211.64" r="1.65" fill="#fff" stroke="#5a5a5a" stroke-width="0.6"/>
<circle cx="67.7" cy="212.71" r="1.65" fill="#fff" stroke="#5a5a5a" stroke-width="0.6"/>
<circle cx="76.8" cy="213.79" r="1.65" fill="#fff" stroke="#5a5a5a" stroke-width="0.6"/>
<circle cx="70.5" cy="214.86" r="1.65" fill="#fff" stroke="#5a5a5a" stroke-width="0.6"/>
<circle cx="74" cy="215.93" r="1.65" fill="#fff" stroke="#5a5a5a" stroke-width="0.6"/>
<circle cx="67.7" cy="217" r="1.65" fill="#fff" stroke="#5a5a5a" stroke-width="0.6"/>
<circle cx="67.8" cy="227.6" r="1.65" fill="#fff" stroke="#5a5a5a" stroke-width="0.6"/>
<circle cx="73.7" cy="226.7" r="1.65" fill="#fff" stroke="#5a5a5a" stroke-width="0.6"/>
<circle cx="70.5" cy="230.6" r="1.65" fill="#fff" stroke="#5a5a5a" stroke-width="0.6"/>
<circle cx="67.6" cy="238.4" r="1.65" fill="#fff" stroke="#5a5a5a" stroke-width="0.6"/>
<circle cx="71" cy="238.4" r="1.65" fill="#fff" stroke="#5a5a5a" stroke-width="0.6"/>
<circle cx="67.8" cy="244" r="1.65" fill="#fff" stroke="#5a5a5a" stroke-width="0.6"/>
<circle cx="71.4" cy="244.3" r="1.65" fill="#fff" stroke="#5a5a5a" stroke-width="0.6"/>
<circle cx="70.8" cy="252.2" r="1.65" fill="#fff" stroke="#5a5a5a" stroke-width="0.6"/>
<circle cx="93.9" cy="204.2" r="1.65" fill="#fff" stroke="#5a5a5a" stroke-width="0.6"/>
<circle cx="97.05" cy="205.5" r="1.65" fill="#fff" stroke="#5a5a5a" stroke-width="0.6"/>
<circle cx="93.9" cy="209.6" r="1.65" fill="#fff" stroke="#5a5a5a" stroke-width="0.6"/>
<circle cx="97.05" cy="211.2" r="1.65" fill="#fff" stroke="#5a5a5a" stroke-width="0.6"/>
<circle cx="93.9" cy="213.5" r="1.65" fill="#fff" stroke="#5a5a5a" stroke-width="0.6"/>
<circle cx="90.4" cy="214.36" r="1.65" fill="#fff" stroke="#5a5a5a" stroke-width="0.6"/>
<circle cx="97.05" cy="215.21" r="1.65" fill="#fff" stroke="#5a5a5a" stroke-width="0.6"/>
<circle cx="100.55" cy="216.07" r="1.65" fill="#fff" stroke="#5a5a5a" stroke-width="0.6"/>
<circle cx="93.9" cy="216.93" r="1.65" fill="#fff" stroke="#5a5a5a" stroke-width="0.6"/>
<circle cx="90.4" cy="217.79" r="1.65" fill="#fff" stroke="#5a5a5a" stroke-width="0.6"/>
<circle cx="97.05" cy="218.64" r="1.65" fill="#fff" stroke="#5a5a5a" stroke-width="0.6"/>
<circle cx="100.55" cy="219.5" r="1.65" fill="#fff" stroke="#5a5a5a" stroke-width="0.6"/>
<circle cx="93.9" cy="220.36" r="1.65" fill="#fff" stroke="#5a5a5a" stroke-width="0.6"/>
<circle cx="90.4" cy="221.21" r="1.65" fill="#fff" stroke="#5a5a5a" stroke-width="0.6"/>
<circle cx="97.05" cy="222.07" r="1.65" fill="#fff" stroke="#5a5a5a" stroke-width="0.6"/>
<circle cx="100.55" cy="222.93" r="1.65" fill="#fff" stroke="#5a5a5a" stroke-width="0.6"/>
<circle cx="93.9" cy="223.79" r="1.65" fill="#fff" stroke="#5a5a5a" stroke-width="0.6"/>
<circle cx="90.4" cy="224.64" r="1.65" fill="#fff" stroke="#5a5a5a" stroke-width="0.6"/>
<circle cx="97.05" cy="225.5" r="1.65" fill="#fff" stroke="#5a5a5a" stroke-width="0.6"/>
<circle cx="100.55" cy="226.36" r="1.65" fill="#fff" stroke="#5a5a5a" stroke-width="0.6"/>
<circle cx="93.9" cy="227.21" r="1.65" fill="#fff" stroke="#5a5a5a" stroke-width="0.6"/>
<circle cx="90.4" cy="228.07" r="1.65" fill="#fff" stroke="#5a5a5a" stroke-width="0.6"/>
<circle cx="97.05" cy="228.93" r="1.65" fill="#fff" stroke="#5a5a5a" stroke-width="0.6"/>
<circle cx="100.55" cy="229.79" r="1.65" fill="#fff" stroke="#5a5a5a" stroke-width="0.6"/>
<circle cx="93.9" cy="230.64" r="1.65" fill="#fff" stroke="#5a5a5a" stroke-width="0.6"/>
<circle cx="90.4" cy="231.5" r="1.65" fill="#fff" stroke="#5a5a5a" stroke-width="0.6"/>
<circle cx="93.9" cy="235.8" r="1.65" fill="#fff" stroke="#5a5a5a" stroke-width="0.6"/>
<circle cx="97.05" cy="237.3" r="1.65" fill="#fff" stroke="#5a5a5a" stroke-width="0.6"/>
<circle cx="93.9" cy="239.6" r="1.65" fill="#fff" stroke="#5a5a5a" stroke-width="0.6"/>
<circle cx="93.9" cy="245" r="1.65" fill="#fff" stroke="#5a5a5a" stroke-width="0.6"/>
<circle cx="97.4" cy="245.2" r="1.65" fill="#fff" stroke="#5a5a5a" stroke-width="0.6"/>
<circle cx="93.9" cy="251.9" r="1.65" fill="#fff" stroke="#5a5a5a" stroke-width="0.6"/>
<circle cx="117.3" cy="197.3" r="1.65" fill="#fff" stroke="#5a5a5a" stroke-width="0.6"/>
<circle cx="117.3" cy="211.6" r="1.65" fill="#fff" stroke="#5a5a5a" stroke-width="0.6"/>
<circle cx="117.3" cy="226.5" r="1.65" fill="#fff" stroke="#5a5a5a" stroke-width="0.6"/>
<circle cx="118.7" cy="229.6" r="1.65" fill="#fff" stroke="#5a5a5a" stroke-width="0.6"/>
<circle cx="116.25" cy="231.9" r="1.65" fill="#fff" stroke="#5a5a5a" stroke-width="0.6"/>
<circle cx="119.75" cy="233" r="1.65" fill="#fff" stroke="#5a5a5a" stroke-width="0.6"/>
<circle cx="113.45" cy="233.97" r="1.65" fill="#fff" stroke="#5a5a5a" stroke-width="0.6"/>
<circle cx="122.55" cy="234.94" r="1.65" fill="#fff" stroke="#5a5a5a" stroke-width="0.6"/>
<circle cx="117.3" cy="235.91" r="1.65" fill="#fff" stroke="#5a5a5a" stroke-width="0.6"/>
<circle cx="111.7" cy="236.88" r="1.65" fill="#fff" stroke="#5a5a5a" stroke-width="0.6"/>
<circle cx="120.1" cy="237.84" r="1.65" fill="#fff" stroke="#5a5a5a" stroke-width="0.6"/>
<circle cx="115.55" cy="238.81" r="1.65" fill="#fff" stroke="#5a5a5a" stroke-width="0.6"/>
<circle cx="122.9" cy="239.78" r="1.65" fill="#fff" stroke="#5a5a5a" stroke-width="0.6"/>
<circle cx="118.35" cy="240.75" r="1.65" fill="#fff" stroke="#5a5a5a" stroke-width="0.6"/>
<circle cx="113.8" cy="241.72" r="1.65" fill="#fff" stroke="#5a5a5a" stroke-width="0.6"/>
<circle cx="121.15" cy="242.69" r="1.65" fill="#fff" stroke="#5a5a5a" stroke-width="0.6"/>
<circle cx="116.6" cy="243.66" r="1.65" fill="#fff" stroke="#5a5a5a" stroke-width="0.6"/>
<circle cx="112.05" cy="244.62" r="1.65" fill="#fff" stroke="#5a5a5a" stroke-width="0.6"/>
<circle cx="119.4" cy="245.59" r="1.65" fill="#fff" stroke="#5a5a5a" stroke-width="0.6"/>
<circle cx="114.85" cy="246.56" r="1.65" fill="#fff" stroke="#5a5a5a" stroke-width="0.6"/>
<circle cx="122.2" cy="247.53" r="1.65" fill="#fff" stroke="#5a5a5a" stroke-width="0.6"/>
<circle cx="117.65" cy="248.5" r="1.65" fill="#fff" stroke="#5a5a5a" stroke-width="0.6"/>
<circle cx="140.6" cy="229.6" r="1.65" fill="#fff" stroke="#5a5a5a" stroke-width="0.6"/>
<circle cx="142.7" cy="232.4" r="1.65" fill="#fff" stroke="#5a5a5a" stroke-width="0.6"/>
<circle cx="140.6" cy="235.8" r="1.65" fill="#fff" stroke="#5a5a5a" stroke-width="0.6"/>
<circle cx="143.75" cy="237.6" r="1.65" fill="#fff" stroke="#5a5a5a" stroke-width="0.6"/>
<circle cx="140.6" cy="239.6" r="1.65" fill="#fff" stroke="#5a5a5a" stroke-width="0.6"/>
<circle cx="137.1" cy="240.32" r="1.65" fill="#fff" stroke="#5a5a5a" stroke-width="0.6"/>
<circle cx="143.75" cy="241.04" r="1.65" fill="#fff" stroke="#5a5a5a" stroke-width="0.6"/>
<circle cx="147.25" cy="241.75" r="1.65" fill="#fff" stroke="#5a5a5a" stroke-width="0.6"/>
<circle cx="134.3" cy="242.47" r="1.65" fill="#fff" stroke="#5a5a5a" stroke-width="0.6"/>
<circle cx="140.6" cy="243.19" r="1.65" fill="#fff" stroke="#5a5a5a" stroke-width="0.6"/>
<circle cx="150.05" cy="243.91" r="1.65" fill="#fff" stroke="#5a5a5a" stroke-width="0.6"/>
<circle cx="143.75" cy="244.63" r="1.65" fill="#fff" stroke="#5a5a5a" stroke-width="0.6"/>
<circle cx="137.8" cy="245.35" r="1.65" fill="#fff" stroke="#5a5a5a" stroke-width="0.6"/>
<circle cx="146.9" cy="246.06" r="1.65" fill="#fff" stroke="#5a5a5a" stroke-width="0.6"/>
<circle cx="140.95" cy="246.78" r="1.65" fill="#fff" stroke="#5a5a5a" stroke-width="0.6"/>
<circle cx="135" cy="247.5" r="1.65" fill="#fff" stroke="#5a5a5a" stroke-width="0.6"/>
<circle cx="140.6" cy="252" r="1.65" fill="#fff" stroke="#5a5a5a" stroke-width="0.6"/>
<circle cx="143.4" cy="254.2" r="1.65" fill="#fff" stroke="#5a5a5a" stroke-width="0.6"/>
<circle cx="163.8" cy="243.7" r="1.65" fill="#fff" stroke="#5a5a5a" stroke-width="0.6"/>
<circle cx="187.2" cy="230.4" r="1.65" fill="#fff" stroke="#5a5a5a" stroke-width="0.6"/>
<circle cx="187.2" cy="235.8" r="1.65" fill="#fff" stroke="#5a5a5a" stroke-width="0.6"/>
<circle cx="187.2" cy="242.9" r="1.65" fill="#fff" stroke="#5a5a5a" stroke-width="0.6"/>
<circle cx="210.4" cy="237.7" r="1.65" fill="#fff" stroke="#5a5a5a" stroke-width="0.6"/>
<circle cx="257" cy="249.8" r="1.65" fill="#fff" stroke="#5a5a5a" stroke-width="0.6"/>
<circle cx="276.5" cy="217.4" r="1.65" fill="#fff" stroke="#5a5a5a" stroke-width="0.6"/>
<circle cx="276.5" cy="220.4" r="1.65" fill="#fff" stroke="#5a5a5a" stroke-width="0.6"/>
<circle cx="283.3" cy="218.5" r="1.65" fill="#fff" stroke="#5a5a5a" stroke-width="0.6"/>
<circle cx="276.8" cy="229.2" r="1.65" fill="#fff" stroke="#5a5a5a" stroke-width="0.6"/>
<circle cx="283" cy="228.1" r="1.65" fill="#fff" stroke="#5a5a5a" stroke-width="0.6"/>
<circle cx="279.5" cy="236" r="1.65" fill="#fff" stroke="#5a5a5a" stroke-width="0.6"/>
<circle cx="279.5" cy="239.3" r="1.65" fill="#fff" stroke="#5a5a5a" stroke-width="0.6"/>
<circle cx="67.6" cy="214.9" r="1.8" fill="#8c0b2e" stroke="#8c0b2e" stroke-width="0.4"/>
<circle cx="68.4" cy="217.4" r="1.8" fill="#8c0b2e" stroke="#8c0b2e" stroke-width="0.4"/>
<circle cx="75.3" cy="215.5" r="1.8" fill="#8c0b2e" stroke="#8c0b2e" stroke-width="0.4"/>
<circle cx="97.7" cy="209.2" r="1.8" fill="#8c0b2e" stroke="#8c0b2e" stroke-width="0.4"/>
<circle cx="94.6" cy="249.6" r="1.8" fill="#8c0b2e" stroke="#8c0b2e" stroke-width="0.4"/>
<circle cx="118.2" cy="238.8" r="1.8" fill="#8c0b2e" stroke="#8c0b2e" stroke-width="0.4"/>
<circle cx="139.2" cy="249.6" r="1.8" fill="#8c0b2e" stroke="#8c0b2e" stroke-width="0.4"/>
<circle cx="43.1" cy="211" r="1.8" fill="#111" stroke="#111" stroke-width="0.4"/>
<circle cx="44.5" cy="218.1" r="1.8" fill="#111" stroke="#111" stroke-width="0.4"/>
<circle cx="142.8" cy="244.7" r="1.8" fill="#17484f" stroke="#17484f" stroke-width="0.4"/>
<line x1="40.2" y1="186.7" x2="43.1" y2="211" stroke="#222" stroke-width="0.75" />
<line x1="38.2" y1="254.5" x2="44.5" y2="218.1" stroke="#222" stroke-width="0.75" />
<line x1="59.8" y1="196.9" x2="67.6" y2="214.9" stroke="#222" stroke-width="0.75" />
<line x1="79.4" y1="179.3" x2="68.6" y2="214" stroke="#222" stroke-width="0.75" />
<line x1="81" y1="195.6" x2="75.5" y2="214.1" stroke="#222" stroke-width="0.75" />
<line x1="106" y1="195.6" x2="97.7" y2="209.2" stroke="#222" stroke-width="0.75" />
<line x1="98.4" y1="257.5" x2="94.6" y2="249.6" stroke="#222" stroke-width="0.75" />
<line x1="128.6" y1="223.7" x2="118.2" y2="238.8" stroke="#222" stroke-width="0.75" />
<line x1="156" y1="222.4" x2="142.8" y2="244.7" stroke="#222" stroke-width="0.75" />
<line x1="152" y1="257.3" x2="139.2" y2="249.6" stroke="#222" stroke-width="0.75" />
<text x="34.3" y="183.8" font-size="8.2" text-anchor="start" fill="#3a6fa8" stroke="#3a6fa8" stroke-width="0.17" font-style="italic" textLength="17.9" lengthAdjust="spacingAndGlyphs" >Pim2</text>
<text x="34.2" y="263.1" font-size="8.2" text-anchor="start" fill="#3a6fa8" stroke="#3a6fa8" stroke-width="0.17" font-style="italic" textLength="26.1" lengthAdjust="spacingAndGlyphs" >Zbtb7a</text>
<text x="70.5" y="175.7" font-size="8.2" text-anchor="start" fill="#c8284a" stroke="#c8284a" stroke-width="0.17" font-style="italic" textLength="16.8" lengthAdjust="spacingAndGlyphs" >H1f4</text>
<text x="53.2" y="193.7" font-size="8.2" text-anchor="start" fill="#c8284a" stroke="#c8284a" stroke-width="0.17" font-style="italic" textLength="18.4" lengthAdjust="spacingAndGlyphs" >H3c3</text>
<text x="77" y="193.7" font-size="8.2" text-anchor="start" fill="#c8284a" stroke="#c8284a" stroke-width="0.17" font-style="italic" textLength="18.1" lengthAdjust="spacingAndGlyphs" >H3c2</text>
<text x="100.2" y="193.4" font-size="8.2" text-anchor="start" fill="#c8284a" stroke="#c8284a" stroke-width="0.17" font-style="italic" textLength="22.2" lengthAdjust="spacingAndGlyphs" >H3c11</text>
<text x="122.4" y="219.8" font-size="8.2" text-anchor="start" fill="#c8284a" stroke="#c8284a" stroke-width="0.17" font-style="italic" textLength="22.3" lengthAdjust="spacingAndGlyphs" >H2bc4</text>
<text x="149.4" y="218.6" font-size="8.2" text-anchor="start" fill="#3a6fa8" stroke="#3a6fa8" stroke-width="0.17" font-style="italic" textLength="18" lengthAdjust="spacingAndGlyphs" >Pim1</text>
<text x="94.4" y="266" font-size="8.2" text-anchor="start" fill="#c8284a" stroke="#c8284a" stroke-width="0.17" font-style="italic" textLength="23.6" lengthAdjust="spacingAndGlyphs" >H2bc7</text>
<text x="153.8" y="260.6" font-size="8.2" text-anchor="start" fill="#c8284a" stroke="#c8284a" stroke-width="0.17" font-style="italic" textLength="18.5" lengthAdjust="spacingAndGlyphs" >H3c1</text>
<text x="218.5" y="243.8" font-size="8.4" text-anchor="start" fill="#333" stroke="#333" stroke-width="0.17" textLength="29.8" lengthAdjust="spacingAndGlyphs" >No. call.</text>
<text x="288.9" y="242.2" font-size="8.4" text-anchor="start" fill="#333" stroke="#333" stroke-width="0.17" textLength="29.4" lengthAdjust="spacingAndGlyphs" >No. call.</text>
<line x1="32.1" y1="288.2" x2="32.1" y2="335.1" stroke="#231f20" stroke-width="1.4" />
<line x1="31.6" y1="334.6" x2="318" y2="334.6" stroke="#231f20" stroke-width="1.3" />
<text x="0" y="0" font-size="8" text-anchor="middle" fill="#333" stroke="#333" stroke-width="0.17" textLength="36.5" lengthAdjust="spacingAndGlyphs" transform="translate(26.6,309) rotate(-90)">Clonality</text>
<linearGradient id="cg0" gradientUnits="userSpaceOnUse" x1="0" y1="291.8" x2="0" y2="334.3"><stop offset="0.0165" stop-color="#9a0a3c"/><stop offset="0.9153" stop-color="#9a0a3c"/><stop offset="0.9482" stop-color="#fbf8c0"/><stop offset="0.9835" stop-color="#fbf8c0"/></linearGradient>
<rect x="40.7" y="291.8" width="13.8" height="42.5" fill="url(#cg0)" />
<line x1="47.6" y1="334.6" x2="47.6" y2="337.2" stroke="#231f20" stroke-width="0.9" />
<text x="47.6" y="349.1" font-size="8.2" text-anchor="middle" fill="#333" stroke="#333" stroke-width="0.17" >D25</text>
<linearGradient id="cg1" gradientUnits="userSpaceOnUse" x1="0" y1="291.8" x2="0" y2="334.3"><stop offset="0.0165" stop-color="#9a0a3c"/><stop offset="0.7812" stop-color="#9a0a3c"/><stop offset="0.8141" stop-color="#fdf3ae"/><stop offset="0.9835" stop-color="#fdf3ae"/></linearGradient>
<rect x="64" y="291.8" width="13.8" height="42.5" fill="url(#cg1)" />
<line x1="70.9" y1="334.6" x2="70.9" y2="337.2" stroke="#231f20" stroke-width="0.9" />
<text x="70.9" y="349.1" font-size="8.2" text-anchor="middle" fill="#333" stroke="#333" stroke-width="0.17" >D41</text>
<linearGradient id="cg2" gradientUnits="userSpaceOnUse" x1="0" y1="291.8" x2="0" y2="334.3"><stop offset="0.0165" stop-color="#9a0a3c"/><stop offset="0.8753" stop-color="#9a0a3c"/><stop offset="0.9082" stop-color="#fcab5e"/><stop offset="0.9106" stop-color="#fcab5e"/><stop offset="0.9424" stop-color="#fee28a"/><stop offset="0.9424" stop-color="#fee28a"/><stop offset="0.9741" stop-color="#fbf8c0"/><stop offset="0.9835" stop-color="#fbf8c0"/></linearGradient>
<rect x="87.3" y="291.8" width="13.8" height="42.5" fill="url(#cg2)" />
<line x1="94.2" y1="334.6" x2="94.2" y2="337.2" stroke="#231f20" stroke-width="0.9" />
<text x="94.2" y="349.1" font-size="8.2" text-anchor="middle" fill="#333" stroke="#333" stroke-width="0.17" >D69</text>
<linearGradient id="cg3" gradientUnits="userSpaceOnUse" x1="0" y1="291.8" x2="0" y2="334.3"><stop offset="0.0165" stop-color="#9a0a3c"/><stop offset="0.7929" stop-color="#9a0a3c"/><stop offset="0.8259" stop-color="#d6384e"/><stop offset="0.8471" stop-color="#d6384e"/><stop offset="0.8800" stop-color="#f26a44"/><stop offset="0.8824" stop-color="#f26a44"/><stop offset="0.9106" stop-color="#fcab5e"/><stop offset="0.9106" stop-color="#fcab5e"/><stop offset="0.9341" stop-color="#fee28a"/><stop offset="0.9341" stop-color="#fee28a"/><stop offset="0.9576" stop-color="#d8ef9c"/><stop offset="0.9576" stop-color="#d8ef9c"/><stop offset="0.9847" stop-color="#9fd8a4"/><stop offset="0.9847" stop-color="#9fd8a4"/></linearGradient>
<rect x="110.6" y="291.8" width="13.8" height="42.5" fill="url(#cg3)" />
<line x1="117.5" y1="334.6" x2="117.5" y2="337.2" stroke="#231f20" stroke-width="0.9" />
<text x="117.5" y="349.1" font-size="8.2" text-anchor="middle" fill="#333" stroke="#333" stroke-width="0.17" >D170</text>
<linearGradient id="cg4" gradientUnits="userSpaceOnUse" x1="0" y1="291.8" x2="0" y2="334.3"><stop offset="0.0165" stop-color="#9a0a3c"/><stop offset="0.2447" stop-color="#9a0a3c"/><stop offset="0.2776" stop-color="#d6384e"/><stop offset="0.3529" stop-color="#d6384e"/><stop offset="0.3859" stop-color="#f26a44"/><stop offset="0.4353" stop-color="#f26a44"/><stop offset="0.4682" stop-color="#fcab5e"/><stop offset="0.5012" stop-color="#fcab5e"/><stop offset="0.5341" stop-color="#fee28a"/><stop offset="0.5412" stop-color="#fee28a"/><stop offset="0.5718" stop-color="#fbf8c0"/><stop offset="0.5718" stop-color="#fbf8c0"/><stop offset="0.6024" stop-color="#d8ef9c"/><stop offset="0.6118" stop-color="#d8ef9c"/><stop offset="0.6447" stop-color="#54a9b6"/><stop offset="0.6518" stop-color="#54a9b6"/><stop offset="0.6847" stop-color="#4e45a0"/><stop offset="0.9835" stop-color="#4e45a0"/></linearGradient>
<rect x="133.9" y="291.8" width="13.8" height="42.5" fill="url(#cg4)" />
<line x1="140.8" y1="334.6" x2="140.8" y2="337.2" stroke="#231f20" stroke-width="0.9" />
<text x="140.8" y="349.1" font-size="8.2" text-anchor="middle" fill="#333" stroke="#333" stroke-width="0.17" >D39</text>
<linearGradient id="cg5" gradientUnits="userSpaceOnUse" x1="0" y1="291.8" x2="0" y2="334.3"><stop offset="0.0165" stop-color="#9a0a3c"/><stop offset="0.0282" stop-color="#9a0a3c"/><stop offset="0.0612" stop-color="#d6384e"/><stop offset="0.0941" stop-color="#d6384e"/><stop offset="0.1271" stop-color="#f26a44"/><stop offset="0.1435" stop-color="#f26a44"/><stop offset="0.1765" stop-color="#fcab5e"/><stop offset="0.1906" stop-color="#fcab5e"/><stop offset="0.2235" stop-color="#fee28a"/><stop offset="0.2306" stop-color="#fee28a"/><stop offset="0.2635" stop-color="#fbf8c0"/><stop offset="0.2706" stop-color="#fbf8c0"/><stop offset="0.3035" stop-color="#d8ef9c"/><stop offset="0.3247" stop-color="#d8ef9c"/><stop offset="0.3576" stop-color="#54a9b6"/><stop offset="0.3812" stop-color="#54a9b6"/><stop offset="0.4141" stop-color="#4e45a0"/><stop offset="0.9835" stop-color="#4e45a0"/></linearGradient>
<rect x="157.2" y="291.8" width="13.8" height="42.5" fill="url(#cg5)" />
<line x1="164.1" y1="334.6" x2="164.1" y2="337.2" stroke="#231f20" stroke-width="0.9" />
<text x="164.1" y="349.1" font-size="8.2" text-anchor="middle" fill="#333" stroke="#333" stroke-width="0.17" >D23</text>
<linearGradient id="cg6" gradientUnits="userSpaceOnUse" x1="0" y1="291.8" x2="0" y2="334.3"><stop offset="0.0165" stop-color="#9a0a3c"/><stop offset="0.3294" stop-color="#9a0a3c"/><stop offset="0.3624" stop-color="#d6384e"/><stop offset="0.5647" stop-color="#d6384e"/><stop offset="0.5976" stop-color="#f26a44"/><stop offset="0.6376" stop-color="#f26a44"/><stop offset="0.6706" stop-color="#fcab5e"/><stop offset="0.6918" stop-color="#fcab5e"/><stop offset="0.7235" stop-color="#fee28a"/><stop offset="0.7235" stop-color="#fee28a"/><stop offset="0.7506" stop-color="#fbf8c0"/><stop offset="0.7506" stop-color="#fbf8c0"/><stop offset="0.7788" stop-color="#d8ef9c"/><stop offset="0.7835" stop-color="#d8ef9c"/><stop offset="0.8165" stop-color="#4e45a0"/><stop offset="0.9835" stop-color="#4e45a0"/></linearGradient>
<rect x="180.5" y="291.8" width="13.8" height="42.5" fill="url(#cg6)" />
<line x1="187.4" y1="334.6" x2="187.4" y2="337.2" stroke="#231f20" stroke-width="0.9" />
<text x="187.4" y="349.1" font-size="8.2" text-anchor="middle" fill="#333" stroke="#333" stroke-width="0.17" >D25</text>
<linearGradient id="cg7" gradientUnits="userSpaceOnUse" x1="0" y1="291.8" x2="0" y2="334.3"><stop offset="0.0165" stop-color="#9a0a3c"/><stop offset="0.2588" stop-color="#9a0a3c"/><stop offset="0.2918" stop-color="#d6384e"/><stop offset="0.4753" stop-color="#d6384e"/><stop offset="0.5082" stop-color="#f26a44"/><stop offset="0.6918" stop-color="#f26a44"/><stop offset="0.7247" stop-color="#fcab5e"/><stop offset="0.8188" stop-color="#fcab5e"/><stop offset="0.8518" stop-color="#fee28a"/><stop offset="0.8918" stop-color="#fee28a"/><stop offset="0.9212" stop-color="#d8ef9c"/><stop offset="0.9212" stop-color="#d8ef9c"/><stop offset="0.9506" stop-color="#4e45a0"/><stop offset="0.9835" stop-color="#4e45a0"/></linearGradient>
<rect x="203.8" y="291.8" width="13.8" height="42.5" fill="url(#cg7)" />
<line x1="210.7" y1="334.6" x2="210.7" y2="337.2" stroke="#231f20" stroke-width="0.9" />
<text x="210.7" y="349.1" font-size="8.2" text-anchor="middle" fill="#333" stroke="#333" stroke-width="0.17" >D41</text>
<linearGradient id="cg8" gradientUnits="userSpaceOnUse" x1="0" y1="291.8" x2="0" y2="334.3"><stop offset="0.0165" stop-color="#9a0a3c"/><stop offset="0.0941" stop-color="#9a0a3c"/><stop offset="0.1271" stop-color="#d6384e"/><stop offset="0.2047" stop-color="#d6384e"/><stop offset="0.2376" stop-color="#f26a44"/><stop offset="0.2518" stop-color="#f26a44"/><stop offset="0.2847" stop-color="#fcab5e"/><stop offset="0.2941" stop-color="#fcab5e"/><stop offset="0.3271" stop-color="#fee28a"/><stop offset="0.3765" stop-color="#fee28a"/><stop offset="0.4094" stop-color="#fbf8c0"/><stop offset="0.4212" stop-color="#fbf8c0"/><stop offset="0.4541" stop-color="#d8ef9c"/><stop offset="0.4753" stop-color="#d8ef9c"/><stop offset="0.5082" stop-color="#4e45a0"/><stop offset="0.9835" stop-color="#4e45a0"/></linearGradient>
<rect x="227.1" y="291.8" width="13.8" height="42.5" fill="url(#cg8)" />
<line x1="234" y1="334.6" x2="234" y2="337.2" stroke="#231f20" stroke-width="0.9" />
<text x="234" y="349.1" font-size="8.2" text-anchor="middle" fill="#333" stroke="#333" stroke-width="0.17" >D69</text>
<linearGradient id="cg9" gradientUnits="userSpaceOnUse" x1="0" y1="291.8" x2="0" y2="334.3"><stop offset="0.0165" stop-color="#9a0a3c"/><stop offset="0.0306" stop-color="#9a0a3c"/><stop offset="0.0635" stop-color="#d6384e"/><stop offset="0.0871" stop-color="#d6384e"/><stop offset="0.1200" stop-color="#fcab5e"/><stop offset="0.1341" stop-color="#fcab5e"/><stop offset="0.1671" stop-color="#fee28a"/><stop offset="0.1765" stop-color="#fee28a"/><stop offset="0.2024" stop-color="#fbf8c0"/><stop offset="0.2024" stop-color="#fbf8c0"/><stop offset="0.2282" stop-color="#d8ef9c"/><stop offset="0.2471" stop-color="#d8ef9c"/><stop offset="0.2800" stop-color="#54a9b6"/><stop offset="0.2847" stop-color="#54a9b6"/><stop offset="0.3176" stop-color="#4e45a0"/><stop offset="0.9835" stop-color="#4e45a0"/></linearGradient>
<rect x="250.4" y="291.8" width="13.8" height="42.5" fill="url(#cg9)" />
<line x1="257.3" y1="334.6" x2="257.3" y2="337.2" stroke="#231f20" stroke-width="0.9" />
<text x="257.3" y="349.1" font-size="8.2" text-anchor="middle" fill="#333" stroke="#333" stroke-width="0.17" >D170</text>
<linearGradient id="cg10" gradientUnits="userSpaceOnUse" x1="0" y1="291.8" x2="0" y2="334.3"><stop offset="0.0165" stop-color="#9a0a3c"/><stop offset="0.3929" stop-color="#9a0a3c"/><stop offset="0.4259" stop-color="#d6384e"/><stop offset="0.8094" stop-color="#d6384e"/><stop offset="0.8424" stop-color="#f26a44"/><stop offset="0.8635" stop-color="#f26a44"/><stop offset="0.8953" stop-color="#fee28a"/><stop offset="0.8953" stop-color="#fee28a"/><stop offset="0.9224" stop-color="#d8ef9c"/><stop offset="0.9224" stop-color="#d8ef9c"/><stop offset="0.9506" stop-color="#4e45a0"/><stop offset="0.9835" stop-color="#4e45a0"/></linearGradient>
<rect x="273.7" y="291.8" width="13.8" height="42.5" fill="url(#cg10)" />
<line x1="280.6" y1="334.6" x2="280.6" y2="337.2" stroke="#231f20" stroke-width="0.9" />
<text x="280.6" y="349.1" font-size="8.2" text-anchor="middle" fill="#333" stroke="#333" stroke-width="0.17" >D39</text>
<linearGradient id="cg11" gradientUnits="userSpaceOnUse" x1="0" y1="291.8" x2="0" y2="334.3"><stop offset="0.0165" stop-color="#9a0a3c"/><stop offset="0.1224" stop-color="#9a0a3c"/><stop offset="0.1553" stop-color="#d6384e"/><stop offset="0.2471" stop-color="#d6384e"/><stop offset="0.2800" stop-color="#f26a44"/><stop offset="0.3388" stop-color="#f26a44"/><stop offset="0.3718" stop-color="#fcab5e"/><stop offset="0.4306" stop-color="#fcab5e"/><stop offset="0.4635" stop-color="#fee28a"/><stop offset="0.4706" stop-color="#fee28a"/><stop offset="0.5024" stop-color="#fbf8c0"/><stop offset="0.5024" stop-color="#fbf8c0"/><stop offset="0.5341" stop-color="#d8ef9c"/><stop offset="0.5741" stop-color="#d8ef9c"/><stop offset="0.6071" stop-color="#54a9b6"/><stop offset="0.6282" stop-color="#54a9b6"/><stop offset="0.6612" stop-color="#4e45a0"/><stop offset="0.9835" stop-color="#4e45a0"/></linearGradient>
<rect x="297" y="291.8" width="13.8" height="42.5" fill="url(#cg11)" />
<line x1="303.9" y1="334.6" x2="303.9" y2="337.2" stroke="#231f20" stroke-width="0.9" />
<text x="303.9" y="349.1" font-size="8.2" text-anchor="middle" fill="#333" stroke="#333" stroke-width="0.17" >D23</text>
<line x1="37.7" y1="353.5" x2="174.4" y2="353.5" stroke="#231f20" stroke-width="0.9" />
<line x1="177.6" y1="353.5" x2="317.8" y2="353.5" stroke="#231f20" stroke-width="0.9" />
<text x="106.3" y="362.4" font-size="9" text-anchor="middle" fill="#333" stroke="#333" stroke-width="0.17" textLength="15.6" lengthAdjust="spacingAndGlyphs" >GCB</text>
<text x="241.8" y="362.3" font-size="9.0" fill="#333" stroke="#333" stroke-width="0.12">T<tspan font-size="6.6" dy="2.0">FH</tspan></text>
<text x="0.5" y="375.6" font-size="11.5" text-anchor="start" fill="#000" font-weight="bold" >F</text>
<rect x="0" y="394.4" width="333" height="14.4" fill="#185692" />
<rect x="0" y="407.6" width="333" height="1" fill="#10406f" />
<rect x="0" y="408.8" width="333" height="14.51" fill="#dfe7ef" />
<rect x="0" y="423.26" width="333" height="14.51" fill="#c6d5e4" />
<rect x="0" y="437.72" width="333" height="14.51" fill="#dfe7ef" />
<rect x="0" y="452.18" width="333" height="14.51" fill="#c6d5e4" />
<rect x="0" y="466.64" width="333" height="14.51" fill="#dfe7ef" />
<rect x="0" y="481.1" width="333" height="14.51" fill="#c6d5e4" />
<rect x="0" y="495.56" width="333" height="14.51" fill="#dfe7ef" />
<rect x="0" y="422.96" width="333" height="0.6" fill="#eef3f7" />
<rect x="0" y="437.42" width="333" height="0.6" fill="#eef3f7" />
<rect x="0" y="451.88" width="333" height="0.6" fill="#eef3f7" />
<rect x="0" y="466.34" width="333" height="0.6" fill="#eef3f7" />
<rect x="0" y="480.8" width="333" height="0.6" fill="#eef3f7" />
<rect x="0" y="495.26" width="333" height="0.6" fill="#eef3f7" />
<rect x="0" y="408.8" width="333" height="1.2" fill="#edf2f6" />
<text x="18.1" y="404.6" font-size="9.2" text-anchor="middle" fill="#fff" stroke="#fff" stroke-width="0.17" textLength="25.4" lengthAdjust="spacingAndGlyphs" >Name</text>
<text x="49.3" y="404.6" font-size="9.2" text-anchor="middle" fill="#fff" stroke="#fff" stroke-width="0.17" textLength="14.8" lengthAdjust="spacingAndGlyphs" >Chr</text>
<text x="82.2" y="404.6" font-size="9.2" text-anchor="middle" fill="#fff" stroke="#fff" stroke-width="0.17" textLength="24" lengthAdjust="spacingAndGlyphs" >Gene</text>
<text x="192" y="404.6" font-size="9.2" text-anchor="middle" fill="#fff" stroke="#fff" stroke-width="0.17" textLength="48.4" lengthAdjust="spacingAndGlyphs" >AAChange</text>
<text x="315.4" y="404.6" font-size="9.2" text-anchor="middle" fill="#fff" stroke="#fff" stroke-width="0.17" textLength="18.3" lengthAdjust="spacingAndGlyphs" >VAF</text>
<text x="17.9" y="418.9" font-size="8.9" text-anchor="middle" fill="#231f20" stroke="#231f20" stroke-width="0.1" textLength="15.65" lengthAdjust="spacingAndGlyphs" >D41</text>
<text x="49.7" y="418.9" font-size="8.9" text-anchor="middle" fill="#231f20" stroke="#231f20" stroke-width="0.1" textLength="9.49" lengthAdjust="spacingAndGlyphs" >13</text>
<text x="82.1" y="418.9" font-size="8.9" text-anchor="middle" fill="#231f20" stroke="#231f20" stroke-width="0.1" font-style="italic" textLength="18.19" lengthAdjust="spacingAndGlyphs" >H1f4</text>
<text x="110.9" y="418.9" font-size="8.8" text-anchor="start" fill="#231f20" stroke="#231f20" stroke-width="0.1" textLength="74.8" lengthAdjust="spacingAndGlyphs" >NM_015787:exon1:</text>
<text x="185.7" y="418.9" font-size="8.8" text-anchor="start" fill="#231f20" stroke="#231f20" stroke-width="0.1" textLength="66.7" lengthAdjust="spacingAndGlyphs" >c.C586T:p.P196S</text>
<text x="315.3" y="418.9" font-size="8.9" text-anchor="middle" fill="#231f20" stroke="#231f20" stroke-width="0.1" textLength="21.6" lengthAdjust="spacingAndGlyphs" >0.438</text>
<text x="17.9" y="433.36" font-size="8.9" text-anchor="middle" fill="#231f20" stroke="#231f20" stroke-width="0.1" textLength="15.65" lengthAdjust="spacingAndGlyphs" >D41</text>
<text x="49.7" y="433.36" font-size="8.9" text-anchor="middle" fill="#231f20" stroke="#231f20" stroke-width="0.1" textLength="9.49" lengthAdjust="spacingAndGlyphs" >13</text>
<text x="82.1" y="433.36" font-size="8.9" text-anchor="middle" fill="#231f20" stroke="#231f20" stroke-width="0.1" font-style="italic" textLength="20.1" lengthAdjust="spacingAndGlyphs" >H3c3</text>
<text x="110.9" y="433.36" font-size="8.8" text-anchor="start" fill="#231f20" stroke="#231f20" stroke-width="0.1" textLength="76.09" lengthAdjust="spacingAndGlyphs" >NM_175653:exon1:</text>
<text x="186.99" y="433.36" font-size="8.8" text-anchor="start" fill="#c8284a" stroke="#c8284a" stroke-width="0.1" textLength="65.41" lengthAdjust="spacingAndGlyphs" >c.G260A:p.S87N</text>
<text x="315.3" y="433.36" font-size="8.9" text-anchor="middle" fill="#231f20" stroke="#231f20" stroke-width="0.1" textLength="21.6" lengthAdjust="spacingAndGlyphs" >0.407</text>
<text x="17.9" y="447.82" font-size="8.9" text-anchor="middle" fill="#231f20" stroke="#231f20" stroke-width="0.1" textLength="15.65" lengthAdjust="spacingAndGlyphs" >D41</text>
<text x="49.7" y="447.82" font-size="8.9" text-anchor="middle" fill="#231f20" stroke="#231f20" stroke-width="0.1" textLength="9.49" lengthAdjust="spacingAndGlyphs" >13</text>
<text x="82.1" y="447.82" font-size="8.9" text-anchor="middle" fill="#231f20" stroke="#231f20" stroke-width="0.1" font-style="italic" textLength="20.1" lengthAdjust="spacingAndGlyphs" >H3c2</text>
<text x="110.9" y="447.82" font-size="8.8" text-anchor="start" fill="#231f20" stroke="#231f20" stroke-width="0.1" textLength="76.33" lengthAdjust="spacingAndGlyphs" >NM_178203:exon1:</text>
<text x="187.23" y="447.82" font-size="8.8" text-anchor="start" fill="#231f20" stroke="#231f20" stroke-width="0.1" textLength="68.87" lengthAdjust="spacingAndGlyphs" >c.G343A:p.A115T</text>
<text x="315.3" y="447.82" font-size="8.9" text-anchor="middle" fill="#231f20" stroke="#231f20" stroke-width="0.1" textLength="21.6" lengthAdjust="spacingAndGlyphs" >0.419</text>
<text x="17.9" y="462.28" font-size="8.9" text-anchor="middle" fill="#231f20" stroke="#231f20" stroke-width="0.1" textLength="15.65" lengthAdjust="spacingAndGlyphs" >D69</text>
<text x="49.7" y="462.28" font-size="8.9" text-anchor="middle" fill="#231f20" stroke="#231f20" stroke-width="0.1" textLength="9.49" lengthAdjust="spacingAndGlyphs" >13</text>
<text x="82.1" y="462.28" font-size="8.9" text-anchor="middle" fill="#231f20" stroke="#231f20" stroke-width="0.1" font-style="italic" textLength="24.25" lengthAdjust="spacingAndGlyphs" >H3c11</text>
<text x="110.9" y="462.28" font-size="8.8" text-anchor="start" fill="#231f20" stroke="#231f20" stroke-width="0.1" textLength="76.09" lengthAdjust="spacingAndGlyphs" >NM_178207:exon1:</text>
<text x="186.99" y="462.28" font-size="8.8" text-anchor="start" fill="#c8284a" stroke="#c8284a" stroke-width="0.1" textLength="65.41" lengthAdjust="spacingAndGlyphs" >c.G260A:p.S87N</text>
<text x="315.3" y="462.28" font-size="8.9" text-anchor="middle" fill="#231f20" stroke="#231f20" stroke-width="0.1" textLength="21.6" lengthAdjust="spacingAndGlyphs" >0.474</text>
<text x="17.9" y="476.74" font-size="8.9" text-anchor="middle" fill="#231f20" stroke="#231f20" stroke-width="0.1" textLength="15.65" lengthAdjust="spacingAndGlyphs" >D69</text>
<text x="49.7" y="476.74" font-size="8.9" text-anchor="middle" fill="#231f20" stroke="#231f20" stroke-width="0.1" textLength="9.49" lengthAdjust="spacingAndGlyphs" >13</text>
<text x="82.1" y="476.74" font-size="8.9" text-anchor="middle" fill="#231f20" stroke="#231f20" stroke-width="0.1" font-style="italic" textLength="24.89" lengthAdjust="spacingAndGlyphs" >H2bc7</text>
<text x="110.9" y="476.74" font-size="8.8" text-anchor="start" fill="#231f20" stroke="#231f20" stroke-width="0.1" textLength="75.53" lengthAdjust="spacingAndGlyphs" >NM_178195:exon1:</text>
<text x="186.43" y="476.74" font-size="8.8" text-anchor="start" fill="#231f20" stroke="#231f20" stroke-width="0.1" textLength="53.87" lengthAdjust="spacingAndGlyphs" >c.A17C:p.K6T</text>
<text x="315.3" y="476.74" font-size="8.9" text-anchor="middle" fill="#231f20" stroke="#231f20" stroke-width="0.1" textLength="21.6" lengthAdjust="spacingAndGlyphs" >0.147</text>
<text x="17.9" y="491.2" font-size="8.9" text-anchor="middle" fill="#231f20" stroke="#231f20" stroke-width="0.1" textLength="20.39" lengthAdjust="spacingAndGlyphs" >D170</text>
<text x="49.7" y="491.2" font-size="8.9" text-anchor="middle" fill="#231f20" stroke="#231f20" stroke-width="0.1" textLength="9.49" lengthAdjust="spacingAndGlyphs" >13</text>
<text x="82.1" y="491.2" font-size="8.9" text-anchor="middle" fill="#231f20" stroke="#231f20" stroke-width="0.1" font-style="italic" textLength="24.89" lengthAdjust="spacingAndGlyphs" >H2bc4</text>
<text x="110.9" y="491.2" font-size="8.8" text-anchor="start" fill="#231f20" stroke="#231f20" stroke-width="0.1" textLength="90.89" lengthAdjust="spacingAndGlyphs" >NM_001290380:exon1:</text>
<text x="201.79" y="491.2" font-size="8.8" text-anchor="start" fill="#231f20" stroke="#231f20" stroke-width="0.1" textLength="65.61" lengthAdjust="spacingAndGlyphs" >c.C142A:p.Q48K</text>
<text x="315.3" y="491.2" font-size="8.9" text-anchor="middle" fill="#231f20" stroke="#231f20" stroke-width="0.1" textLength="21.6" lengthAdjust="spacingAndGlyphs" >0.239</text>
<text x="17.9" y="505.66" font-size="8.9" text-anchor="middle" fill="#231f20" stroke="#231f20" stroke-width="0.1" textLength="15.65" lengthAdjust="spacingAndGlyphs" >D39</text>
<text x="49.7" y="505.66" font-size="8.9" text-anchor="middle" fill="#231f20" stroke="#231f20" stroke-width="0.1" textLength="9.49" lengthAdjust="spacingAndGlyphs" >13</text>
<text x="82.1" y="505.66" font-size="8.9" text-anchor="middle" fill="#231f20" stroke="#231f20" stroke-width="0.1" font-style="italic" textLength="20.1" lengthAdjust="spacingAndGlyphs" >H3c1</text>
<text x="110.9" y="505.66" font-size="8.8" text-anchor="start" fill="#231f20" stroke="#231f20" stroke-width="0.1" textLength="76.09" lengthAdjust="spacingAndGlyphs" >NM_013550:exon1:</text>
<text x="186.99" y="505.66" font-size="8.8" text-anchor="start" fill="#c8284a" stroke="#c8284a" stroke-width="0.1" textLength="65.41" lengthAdjust="spacingAndGlyphs" >c.G260A:p.S87N</text>
<text x="315.3" y="505.66" font-size="8.9" text-anchor="middle" fill="#231f20" stroke="#231f20" stroke-width="0.1" textLength="21.6" lengthAdjust="spacingAndGlyphs" >0.143</text>
<text x="355.8" y="272.2" font-size="11.5" text-anchor="start" fill="#000" font-weight="bold" >G</text>
<text x="380.3" y="297" font-size="8.2" text-anchor="end" fill="#333" stroke="#333" stroke-width="0.17" >H3</text>
<text x="380.3" y="308.6" font-size="8.2" text-anchor="end" fill="#333" stroke="#333" stroke-width="0.17" textLength="24" lengthAdjust="spacingAndGlyphs" >136AA</text>
<rect x="383.3" y="294.5" width="135.5" height="10.9" fill="#fff" stroke="#222" stroke-width="0.9"/>
<rect x="386" y="294.9" width="6.7" height="10.1" fill="#4cb552" />
<rect x="422.8" y="294.9" width="14.1" height="10.1" fill="#1d5b98" />
<rect x="443.3" y="294.9" width="15.2" height="10.1" fill="#1d5b98" />
<rect x="458.5" y="294.9" width="4.9" height="10.1" fill="#4cb552" />
<rect x="468" y="294.9" width="26" height="10.1" fill="#1d5b98" />
<rect x="496" y="294.9" width="4.8" height="10.1" fill="#4cb552" />
<rect x="500.8" y="294.9" width="13.4" height="10.1" fill="#1d5b98" />
<text x="388.3" y="314.3" font-size="8.4" text-anchor="start" fill="#333" stroke="#333" stroke-width="0.17" >&#946;1</text>
<text x="428.7" y="314.3" font-size="8.4" text-anchor="start" fill="#333" stroke="#333" stroke-width="0.17" >&#945;N</text>
<text x="448.8" y="314.3" font-size="8.4" text-anchor="start" fill="#333" stroke="#333" stroke-width="0.17" >&#945;1</text>
<text x="459.4" y="314.3" font-size="8.4" text-anchor="start" fill="#333" stroke="#333" stroke-width="0.17" >&#946;2</text>
<text x="477.7" y="314.3" font-size="8.4" text-anchor="start" fill="#333" stroke="#333" stroke-width="0.17" >&#945;2</text>
<text x="493" y="314.3" font-size="8.4" text-anchor="start" fill="#333" stroke="#333" stroke-width="0.17" >&#946;3</text>
<text x="504.6" y="314.3" font-size="8.4" text-anchor="start" fill="#333" stroke="#333" stroke-width="0.17" >&#945;3</text>
<text x="463.8" y="280.9" font-size="8.2" text-anchor="start" fill="#c8284a" stroke="#c8284a" stroke-width="0.17" textLength="18.7" lengthAdjust="spacingAndGlyphs" >S87N</text>
<text x="488.3" y="288" font-size="8.2" text-anchor="start" fill="#231f20" stroke="#231f20" stroke-width="0.17" textLength="23" lengthAdjust="spacingAndGlyphs" >A115T</text>
<circle cx="472.3" cy="284.6" r="1.3" fill="#fff" stroke="#222" stroke-width="0.6"/>
<circle cx="472.3" cy="287.3" r="1.3" fill="#fff" stroke="#222" stroke-width="0.6"/>
<circle cx="472.3" cy="290" r="1.3" fill="#fff" stroke="#222" stroke-width="0.6"/>
<line x1="472" y1="291.3" x2="469.8" y2="294.5" stroke="#222" stroke-width="0.7" />
<circle cx="484.4" cy="290.2" r="1.3" fill="#fff" stroke="#222" stroke-width="0.6"/>
<line x1="483.7" y1="291.4" x2="481.6" y2="294.5" stroke="#222" stroke-width="0.7" />
<rect x="386.9" y="323" width="4.7" height="4.9" fill="#1d5b98" />
<text x="394.6" y="328" font-size="8.4" text-anchor="start" fill="#333" stroke="#333" stroke-width="0.17" textLength="25.8" lengthAdjust="spacingAndGlyphs" >&#945;-helix</text>
<rect x="424.4" y="323" width="4.5" height="4.9" fill="#4cb552" />
<text x="431.2" y="328" font-size="8.4" text-anchor="start" fill="#333" stroke="#333" stroke-width="0.17" textLength="30.7" lengthAdjust="spacingAndGlyphs" >&#946;-strand</text>
<text x="356.3" y="374.8" font-size="11.5" text-anchor="start" fill="#000" font-weight="bold" >H</text>
<rect x="374.3" y="365.5" width="143.5" height="144.5" fill="#000"/>
<g clip-path="url(#hclip)">
<line x1="482.3" y1="488.2" x2="474.7" y2="472.6" stroke="#4a6282" stroke-width="0.5" opacity="0.85"/>
<line x1="481.3" y1="489.8" x2="471.0" y2="471.3" stroke="#4a6282" stroke-width="0.5" opacity="0.85"/>
<line x1="479.4" y1="490.3" x2="467.9" y2="470.7" stroke="#4a6282" stroke-width="0.5" opacity="0.85"/>
<line x1="476.7" y1="489.7" x2="465.4" y2="471.1" stroke="#4a6282" stroke-width="0.5" opacity="0.85"/>
<line x1="473.5" y1="488.0" x2="463.7" y2="472.5" stroke="#4a6282" stroke-width="0.5" opacity="0.85"/>
<line x1="470.0" y1="485.6" x2="462.5" y2="474.9" stroke="#4a6282" stroke-width="0.5" opacity="0.85"/>
<line x1="466.4" y1="482.7" x2="461.7" y2="478.2" stroke="#4a6282" stroke-width="0.5" opacity="0.85"/>
<line x1="462.9" y1="479.7" x2="461.0" y2="482.1" stroke="#4a6282" stroke-width="0.5" opacity="0.85"/>
<line x1="459.8" y1="477.1" x2="460.3" y2="486.3" stroke="#4a6282" stroke-width="0.5" opacity="0.85"/>
<line x1="457.1" y1="475.1" x2="459.3" y2="490.3" stroke="#4a6282" stroke-width="0.5" opacity="0.85"/>
<line x1="454.9" y1="474.2" x2="457.8" y2="493.8" stroke="#4a6282" stroke-width="0.5" opacity="0.85"/>
<line x1="453.1" y1="474.4" x2="456.0" y2="496.4" stroke="#4a6282" stroke-width="0.5" opacity="0.85"/>
<line x1="451.5" y1="475.8" x2="453.7" y2="497.8" stroke="#4a6282" stroke-width="0.5" opacity="0.85"/>
<line x1="449.9" y1="478.3" x2="451.1" y2="497.8" stroke="#4a6282" stroke-width="0.5" opacity="0.85"/>
<line x1="448.3" y1="481.5" x2="448.4" y2="496.4" stroke="#4a6282" stroke-width="0.5" opacity="0.85"/>
<line x1="446.4" y1="485.2" x2="445.8" y2="493.9" stroke="#4a6282" stroke-width="0.5" opacity="0.85"/>
<line x1="444.1" y1="488.9" x2="443.3" y2="490.4" stroke="#4a6282" stroke-width="0.5" opacity="0.85"/>
<line x1="441.5" y1="492.2" x2="441.3" y2="486.3" stroke="#4a6282" stroke-width="0.5" opacity="0.85"/>
<line x1="438.6" y1="494.6" x2="439.6" y2="482.1" stroke="#4a6282" stroke-width="0.5" opacity="0.85"/>
<line x1="435.5" y1="495.9" x2="438.3" y2="478.3" stroke="#4a6282" stroke-width="0.5" opacity="0.85"/>
<line x1="432.5" y1="495.9" x2="437.3" y2="475.1" stroke="#4a6282" stroke-width="0.5" opacity="0.85"/>
<line x1="429.7" y1="494.5" x2="436.4" y2="473.0" stroke="#4a6282" stroke-width="0.5" opacity="0.85"/>
<line x1="427.4" y1="491.8" x2="435.5" y2="472.0" stroke="#4a6282" stroke-width="0.5" opacity="0.85"/>
<line x1="425.6" y1="488.1" x2="434.2" y2="472.2" stroke="#4a6282" stroke-width="0.5" opacity="0.85"/>
<line x1="424.5" y1="483.8" x2="432.4" y2="473.5" stroke="#4a6282" stroke-width="0.5" opacity="0.85"/>
<line x1="424.0" y1="479.3" x2="430.0" y2="475.5" stroke="#4a6282" stroke-width="0.5" opacity="0.85"/>
<line x1="424.1" y1="474.9" x2="427.0" y2="478.0" stroke="#4a6282" stroke-width="0.5" opacity="0.85"/>
<line x1="424.5" y1="471.2" x2="423.3" y2="480.4" stroke="#4a6282" stroke-width="0.5" opacity="0.85"/>
<line x1="424.9" y1="468.4" x2="419.3" y2="482.4" stroke="#4a6282" stroke-width="0.5" opacity="0.85"/>
<line x1="425.0" y1="466.7" x2="415.1" y2="483.6" stroke="#4a6282" stroke-width="0.5" opacity="0.85"/>
<line x1="424.6" y1="466.0" x2="411.0" y2="483.8" stroke="#4a6282" stroke-width="0.5" opacity="0.85"/>
<line x1="423.4" y1="466.4" x2="407.4" y2="482.8" stroke="#4a6282" stroke-width="0.5" opacity="0.85"/>
<line x1="421.3" y1="467.4" x2="404.6" y2="480.6" stroke="#4a6282" stroke-width="0.5" opacity="0.85"/>
<line x1="418.3" y1="468.8" x2="402.8" y2="477.5" stroke="#4a6282" stroke-width="0.5" opacity="0.85"/>
<line x1="414.4" y1="470.2" x2="402.1" y2="473.5" stroke="#4a6282" stroke-width="0.5" opacity="0.85"/>
<line x1="410.0" y1="471.3" x2="402.6" y2="469.2" stroke="#4a6282" stroke-width="0.5" opacity="0.85"/>
<line x1="405.4" y1="471.7" x2="404.0" y2="464.9" stroke="#4a6282" stroke-width="0.5" opacity="0.85"/>
<line x1="401.0" y1="471.1" x2="406.1" y2="460.9" stroke="#4a6282" stroke-width="0.5" opacity="0.85"/>
<line x1="397.1" y1="469.6" x2="408.6" y2="457.5" stroke="#4a6282" stroke-width="0.5" opacity="0.85"/>
<line x1="394.1" y1="467.1" x2="411.0" y2="455.0" stroke="#4a6282" stroke-width="0.5" opacity="0.85"/>
<line x1="392.3" y1="463.9" x2="412.9" y2="453.3" stroke="#4a6282" stroke-width="0.5" opacity="0.85"/>
<line x1="391.9" y1="460.0" x2="414.0" y2="452.4" stroke="#4a6282" stroke-width="0.5" opacity="0.85"/>
<line x1="392.9" y1="456.0" x2="414.0" y2="452.1" stroke="#4a6282" stroke-width="0.5" opacity="0.85"/>
<line x1="395.0" y1="452.1" x2="412.7" y2="452.2" stroke="#4a6282" stroke-width="0.5" opacity="0.85"/>
<line x1="398.0" y1="448.6" x2="410.3" y2="452.4" stroke="#4a6282" stroke-width="0.5" opacity="0.85"/>
<line x1="401.5" y1="445.7" x2="406.9" y2="452.2" stroke="#4a6282" stroke-width="0.5" opacity="0.85"/>
<line x1="405.1" y1="443.6" x2="402.8" y2="451.6" stroke="#4a6282" stroke-width="0.5" opacity="0.85"/>
<line x1="408.3" y1="442.3" x2="398.5" y2="450.2" stroke="#4a6282" stroke-width="0.5" opacity="0.85"/>
<line x1="410.6" y1="441.6" x2="394.3" y2="448.1" stroke="#4a6282" stroke-width="0.5" opacity="0.85"/>
<line x1="411.9" y1="441.3" x2="390.8" y2="445.2" stroke="#4a6282" stroke-width="0.5" opacity="0.85"/>
<line x1="411.8" y1="441.1" x2="388.4" y2="441.8" stroke="#4a6282" stroke-width="0.5" opacity="0.85"/>
<line x1="410.5" y1="440.8" x2="387.3" y2="438.0" stroke="#4a6282" stroke-width="0.5" opacity="0.85"/>
<line x1="408.1" y1="440.1" x2="387.6" y2="434.2" stroke="#4a6282" stroke-width="0.5" opacity="0.85"/>
<line x1="405.0" y1="438.7" x2="389.4" y2="430.8" stroke="#4a6282" stroke-width="0.5" opacity="0.85"/>
<line x1="401.4" y1="436.5" x2="392.4" y2="427.8" stroke="#4a6282" stroke-width="0.5" opacity="0.85"/>
<line x1="397.9" y1="433.6" x2="396.4" y2="425.7" stroke="#4a6282" stroke-width="0.5" opacity="0.85"/>
<line x1="394.9" y1="430.1" x2="400.9" y2="424.3" stroke="#4a6282" stroke-width="0.5" opacity="0.85"/>
<line x1="392.8" y1="426.2" x2="405.4" y2="423.8" stroke="#4a6282" stroke-width="0.5" opacity="0.85"/>
<line x1="391.9" y1="422.2" x2="409.6" y2="423.8" stroke="#4a6282" stroke-width="0.5" opacity="0.85"/>
<line x1="392.4" y1="418.4" x2="413.0" y2="424.3" stroke="#4a6282" stroke-width="0.5" opacity="0.85"/>
<line x1="394.2" y1="415.1" x2="415.4" y2="424.8" stroke="#4a6282" stroke-width="0.5" opacity="0.85"/>
<line x1="397.2" y1="412.7" x2="416.6" y2="425.0" stroke="#4a6282" stroke-width="0.5" opacity="0.85"/>
<line x1="401.1" y1="411.2" x2="416.7" y2="424.7" stroke="#4a6282" stroke-width="0.5" opacity="0.85"/>
<line x1="405.6" y1="410.7" x2="415.9" y2="423.5" stroke="#4a6282" stroke-width="0.5" opacity="0.85"/>
<line x1="410.2" y1="411.1" x2="414.4" y2="421.4" stroke="#4a6282" stroke-width="0.5" opacity="0.85"/>
<line x1="414.6" y1="412.2" x2="412.6" y2="418.4" stroke="#4a6282" stroke-width="0.5" opacity="0.85"/>
<line x1="418.4" y1="413.6" x2="410.9" y2="414.5" stroke="#4a6282" stroke-width="0.5" opacity="0.85"/>
<line x1="421.4" y1="415.0" x2="409.6" y2="410.2" stroke="#4a6282" stroke-width="0.5" opacity="0.85"/>
<line x1="423.4" y1="416.0" x2="409.1" y2="405.7" stroke="#4a6282" stroke-width="0.5" opacity="0.85"/>
<line x1="424.6" y1="416.3" x2="409.4" y2="401.4" stroke="#4a6282" stroke-width="0.5" opacity="0.85"/>
<line x1="425.0" y1="415.6" x2="410.7" y2="397.8" stroke="#4a6282" stroke-width="0.5" opacity="0.85"/>
<line x1="424.8" y1="413.8" x2="413.0" y2="395.1" stroke="#4a6282" stroke-width="0.5" opacity="0.85"/>
<line x1="424.4" y1="411.0" x2="416.1" y2="393.6" stroke="#4a6282" stroke-width="0.5" opacity="0.85"/>
<line x1="424.1" y1="407.3" x2="419.6" y2="393.3" stroke="#4a6282" stroke-width="0.5" opacity="0.85"/>
<line x1="424.0" y1="402.9" x2="423.5" y2="394.3" stroke="#4a6282" stroke-width="0.5" opacity="0.85"/>
<line x1="424.5" y1="398.4" x2="427.3" y2="396.3" stroke="#4a6282" stroke-width="0.5" opacity="0.85"/>
<line x1="425.7" y1="394.1" x2="430.8" y2="399.0" stroke="#4a6282" stroke-width="0.5" opacity="0.85"/>
<line x1="427.4" y1="390.5" x2="434.0" y2="402.0" stroke="#4a6282" stroke-width="0.5" opacity="0.85"/>
<line x1="429.8" y1="387.8" x2="436.6" y2="404.8" stroke="#4a6282" stroke-width="0.5" opacity="0.85"/>
<line x1="432.6" y1="386.5" x2="438.7" y2="407.1" stroke="#4a6282" stroke-width="0.5" opacity="0.85"/>
<line x1="435.7" y1="386.5" x2="440.4" y2="408.4" stroke="#4a6282" stroke-width="0.5" opacity="0.85"/>
<line x1="438.7" y1="387.8" x2="441.8" y2="408.7" stroke="#4a6282" stroke-width="0.5" opacity="0.85"/>
<line x1="441.6" y1="390.3" x2="443.1" y2="407.7" stroke="#4a6282" stroke-width="0.5" opacity="0.85"/>
<line x1="444.2" y1="393.6" x2="444.6" y2="405.5" stroke="#4a6282" stroke-width="0.5" opacity="0.85"/>
<line x1="446.4" y1="397.3" x2="446.3" y2="402.4" stroke="#4a6282" stroke-width="0.5" opacity="0.85"/>
<line x1="448.3" y1="401.0" x2="448.4" y2="398.7" stroke="#4a6282" stroke-width="0.5" opacity="0.85"/>
<line x1="450.0" y1="404.2" x2="450.9" y2="394.9" stroke="#4a6282" stroke-width="0.5" opacity="0.85"/>
<line x1="451.5" y1="406.6" x2="453.6" y2="391.2" stroke="#4a6282" stroke-width="0.5" opacity="0.85"/>
<line x1="453.1" y1="408.0" x2="456.5" y2="388.3" stroke="#4a6282" stroke-width="0.5" opacity="0.85"/>
<line x1="455.0" y1="408.2" x2="459.3" y2="386.3" stroke="#4a6282" stroke-width="0.5" opacity="0.85"/>
<line x1="457.2" y1="407.2" x2="461.9" y2="385.6" stroke="#4a6282" stroke-width="0.5" opacity="0.85"/>
<line x1="459.9" y1="405.2" x2="464.1" y2="386.2" stroke="#4a6282" stroke-width="0.5" opacity="0.85"/>
<line x1="463.0" y1="402.6" x2="465.8" y2="388.1" stroke="#4a6282" stroke-width="0.5" opacity="0.85"/>
<line x1="466.5" y1="399.6" x2="466.9" y2="391.1" stroke="#4a6282" stroke-width="0.5" opacity="0.85"/>
<line x1="470.1" y1="396.7" x2="467.4" y2="394.9" stroke="#4a6282" stroke-width="0.5" opacity="0.85"/>
<line x1="473.7" y1="394.3" x2="467.6" y2="399.1" stroke="#4a6282" stroke-width="0.5" opacity="0.85"/>
<line x1="476.9" y1="392.6" x2="467.6" y2="403.3" stroke="#4a6282" stroke-width="0.5" opacity="0.85"/>
<line x1="479.5" y1="392.0" x2="467.7" y2="407.2" stroke="#4a6282" stroke-width="0.5" opacity="0.85"/>
<line x1="481.3" y1="392.6" x2="468.2" y2="410.4" stroke="#4a6282" stroke-width="0.5" opacity="0.85"/>
<line x1="482.3" y1="394.2" x2="469.2" y2="412.9" stroke="#4a6282" stroke-width="0.5" opacity="0.85"/>
<line x1="482.4" y1="396.9" x2="471.1" y2="414.3" stroke="#4a6282" stroke-width="0.5" opacity="0.85"/>
<line x1="481.7" y1="400.3" x2="473.8" y2="414.9" stroke="#4a6282" stroke-width="0.5" opacity="0.85"/>
<line x1="480.5" y1="404.2" x2="477.2" y2="414.7" stroke="#4a6282" stroke-width="0.5" opacity="0.85"/>
<line x1="479.2" y1="408.2" x2="481.4" y2="413.9" stroke="#4a6282" stroke-width="0.5" opacity="0.85"/>
<line x1="477.9" y1="412.1" x2="485.9" y2="412.9" stroke="#4a6282" stroke-width="0.5" opacity="0.85"/>
<line x1="477.2" y1="415.7" x2="490.4" y2="411.8" stroke="#4a6282" stroke-width="0.5" opacity="0.85"/>
<line x1="477.2" y1="418.7" x2="494.5" y2="410.9" stroke="#4a6282" stroke-width="0.5" opacity="0.85"/>
<line x1="478.2" y1="421.1" x2="497.9" y2="410.4" stroke="#4a6282" stroke-width="0.5" opacity="0.85"/>
<line x1="480.4" y1="422.8" x2="500.3" y2="410.6" stroke="#4a6282" stroke-width="0.5" opacity="0.85"/>
<line x1="483.6" y1="423.9" x2="501.4" y2="411.4" stroke="#4a6282" stroke-width="0.5" opacity="0.85"/>
<line x1="487.6" y1="424.6" x2="501.2" y2="412.9" stroke="#4a6282" stroke-width="0.5" opacity="0.85"/>
<line x1="492.1" y1="425.0" x2="499.8" y2="414.9" stroke="#4a6282" stroke-width="0.5" opacity="0.85"/>
<line x1="496.7" y1="425.3" x2="497.4" y2="417.4" stroke="#4a6282" stroke-width="0.5" opacity="0.85"/>
<line x1="501.0" y1="425.5" x2="494.3" y2="420.1" stroke="#4a6282" stroke-width="0.5" opacity="0.85"/>
<line x1="504.5" y1="425.9" x2="491.0" y2="423.1" stroke="#4a6282" stroke-width="0.5" opacity="0.85"/>
<line x1="506.9" y1="426.6" x2="488.0" y2="426.1" stroke="#4a6282" stroke-width="0.5" opacity="0.85"/>
<line x1="508.0" y1="427.5" x2="485.5" y2="429.1" stroke="#4a6282" stroke-width="0.5" opacity="0.85"/>
<line x1="507.5" y1="428.6" x2="484.1" y2="431.9" stroke="#4a6282" stroke-width="0.5" opacity="0.85"/>
<line x1="505.7" y1="429.9" x2="483.9" y2="434.6" stroke="#4a6282" stroke-width="0.5" opacity="0.85"/>
<line x1="502.8" y1="431.4" x2="484.9" y2="437.3" stroke="#4a6282" stroke-width="0.5" opacity="0.85"/>
<line x1="499.0" y1="433.1" x2="487.2" y2="439.8" stroke="#4a6282" stroke-width="0.5" opacity="0.85"/>
<line x1="494.9" y1="434.9" x2="490.3" y2="442.2" stroke="#4a6282" stroke-width="0.5" opacity="0.85"/>
<line x1="490.8" y1="436.7" x2="494.1" y2="444.6" stroke="#4a6282" stroke-width="0.5" opacity="0.85"/>
<line x1="487.3" y1="438.8" x2="498.0" y2="446.8" stroke="#4a6282" stroke-width="0.5" opacity="0.85"/>
<line x1="484.7" y1="441.0" x2="501.5" y2="448.9" stroke="#4a6282" stroke-width="0.5" opacity="0.85"/>
<line x1="483.2" y1="443.4" x2="504.2" y2="450.8" stroke="#4a6282" stroke-width="0.5" opacity="0.85"/>
<line x1="483.1" y1="446.1" x2="505.9" y2="452.4" stroke="#4a6282" stroke-width="0.5" opacity="0.85"/>
<line x1="484.1" y1="449.1" x2="506.1" y2="453.6" stroke="#4a6282" stroke-width="0.5" opacity="0.85"/>
<line x1="486.1" y1="452.3" x2="505.0" y2="454.4" stroke="#4a6282" stroke-width="0.5" opacity="0.85"/>
<line x1="488.7" y1="455.6" x2="502.5" y2="454.8" stroke="#4a6282" stroke-width="0.5" opacity="0.85"/>
<line x1="491.6" y1="458.9" x2="499.0" y2="454.8" stroke="#4a6282" stroke-width="0.5" opacity="0.85"/>
<line x1="494.2" y1="462.1" x2="494.7" y2="454.6" stroke="#4a6282" stroke-width="0.5" opacity="0.85"/>
<line x1="496.3" y1="464.9" x2="490.0" y2="454.4" stroke="#4a6282" stroke-width="0.5" opacity="0.85"/>
<line x1="497.4" y1="467.2" x2="485.5" y2="454.2" stroke="#4a6282" stroke-width="0.5" opacity="0.85"/>
<line x1="497.4" y1="468.7" x2="481.4" y2="454.3" stroke="#4a6282" stroke-width="0.5" opacity="0.85"/>
<line x1="496.1" y1="469.5" x2="478.1" y2="455.0" stroke="#4a6282" stroke-width="0.5" opacity="0.85"/>
<line x1="493.7" y1="469.5" x2="475.7" y2="456.4" stroke="#4a6282" stroke-width="0.5" opacity="0.85"/>
<line x1="490.4" y1="468.8" x2="474.4" y2="458.5" stroke="#4a6282" stroke-width="0.5" opacity="0.85"/>
<line x1="486.4" y1="467.5" x2="473.9" y2="461.4" stroke="#4a6282" stroke-width="0.5" opacity="0.85"/>
<line x1="482.0" y1="465.9" x2="474.2" y2="464.9" stroke="#4a6282" stroke-width="0.5" opacity="0.85"/>
<line x1="477.7" y1="464.3" x2="475.0" y2="468.9" stroke="#4a6282" stroke-width="0.5" opacity="0.85"/>
<line x1="473.7" y1="463.0" x2="475.8" y2="473.1" stroke="#4a6282" stroke-width="0.5" opacity="0.85"/>
<line x1="470.3" y1="462.3" x2="476.5" y2="477.1" stroke="#4a6282" stroke-width="0.5" opacity="0.85"/>
<line x1="467.6" y1="462.4" x2="476.6" y2="480.7" stroke="#4a6282" stroke-width="0.5" opacity="0.85"/>
<line x1="465.6" y1="463.5" x2="476.1" y2="483.4" stroke="#4a6282" stroke-width="0.5" opacity="0.85"/>
<line x1="464.3" y1="465.7" x2="474.9" y2="485.1" stroke="#4a6282" stroke-width="0.5" opacity="0.85"/>
<line x1="463.5" y1="468.7" x2="472.9" y2="485.6" stroke="#4a6282" stroke-width="0.5" opacity="0.85"/>
<line x1="462.9" y1="472.5" x2="470.3" y2="484.9" stroke="#4a6282" stroke-width="0.5" opacity="0.85"/>
<line x1="462.4" y1="476.7" x2="467.2" y2="483.1" stroke="#4a6282" stroke-width="0.5" opacity="0.85"/>
<line x1="461.7" y1="480.8" x2="463.9" y2="480.4" stroke="#4a6282" stroke-width="0.5" opacity="0.85"/>
<line x1="460.6" y1="484.6" x2="460.6" y2="477.2" stroke="#4a6282" stroke-width="0.5" opacity="0.85"/>
<line x1="459.0" y1="487.6" x2="457.6" y2="473.8" stroke="#4a6282" stroke-width="0.5" opacity="0.85"/>
<line x1="457.0" y1="489.5" x2="454.8" y2="470.7" stroke="#4a6282" stroke-width="0.5" opacity="0.85"/>
<line x1="454.6" y1="490.0" x2="452.5" y2="468.3" stroke="#4a6282" stroke-width="0.5" opacity="0.85"/>
<line x1="452.0" y1="489.2" x2="450.5" y2="466.9" stroke="#4a6282" stroke-width="0.5" opacity="0.85"/>
<line x1="449.2" y1="487.1" x2="448.8" y2="466.7" stroke="#4a6282" stroke-width="0.5" opacity="0.85"/>
<line x1="446.6" y1="484.0" x2="447.1" y2="467.7" stroke="#4a6282" stroke-width="0.5" opacity="0.85"/>
<line x1="444.3" y1="480.2" x2="445.5" y2="469.8" stroke="#4a6282" stroke-width="0.5" opacity="0.85"/>
<line x1="442.3" y1="476.0" x2="443.6" y2="472.7" stroke="#4a6282" stroke-width="0.5" opacity="0.85"/>
<line x1="440.7" y1="472.1" x2="441.3" y2="476.1" stroke="#4a6282" stroke-width="0.5" opacity="0.85"/>
<line x1="439.4" y1="468.7" x2="438.7" y2="479.6" stroke="#4a6282" stroke-width="0.5" opacity="0.85"/>
<line x1="438.4" y1="466.2" x2="435.7" y2="482.6" stroke="#4a6282" stroke-width="0.5" opacity="0.85"/>
<line x1="437.4" y1="464.9" x2="432.4" y2="484.9" stroke="#4a6282" stroke-width="0.5" opacity="0.85"/>
<line x1="436.1" y1="464.8" x2="429.0" y2="486.1" stroke="#4a6282" stroke-width="0.5" opacity="0.85"/>
<line x1="434.5" y1="465.8" x2="425.8" y2="486.0" stroke="#4a6282" stroke-width="0.5" opacity="0.85"/>
<line x1="432.4" y1="467.7" x2="422.9" y2="484.5" stroke="#4a6282" stroke-width="0.5" opacity="0.85"/>
<line x1="429.6" y1="470.2" x2="420.6" y2="481.8" stroke="#4a6282" stroke-width="0.5" opacity="0.85"/>
<line x1="426.3" y1="472.8" x2="419.1" y2="478.1" stroke="#4a6282" stroke-width="0.5" opacity="0.85"/>
<line x1="422.4" y1="475.2" x2="418.3" y2="473.7" stroke="#4a6282" stroke-width="0.5" opacity="0.85"/>
<line x1="418.3" y1="476.8" x2="418.3" y2="469.2" stroke="#4a6282" stroke-width="0.5" opacity="0.85"/>
<line x1="414.2" y1="477.5" x2="418.9" y2="464.8" stroke="#4a6282" stroke-width="0.5" opacity="0.85"/>
<line x1="410.5" y1="477.1" x2="419.8" y2="461.0" stroke="#4a6282" stroke-width="0.5" opacity="0.85"/>
<line x1="407.4" y1="475.4" x2="420.7" y2="458.1" stroke="#4a6282" stroke-width="0.5" opacity="0.85"/>
<line x1="405.1" y1="472.6" x2="421.3" y2="456.2" stroke="#4a6282" stroke-width="0.5" opacity="0.85"/>
<line x1="404.0" y1="468.9" x2="421.3" y2="455.3" stroke="#4a6282" stroke-width="0.5" opacity="0.85"/>
<line x1="403.9" y1="464.7" x2="420.5" y2="455.4" stroke="#4a6282" stroke-width="0.5" opacity="0.85"/>
<line x1="404.9" y1="460.3" x2="418.6" y2="456.1" stroke="#4a6282" stroke-width="0.5" opacity="0.85"/>
<line x1="406.6" y1="456.1" x2="415.8" y2="457.1" stroke="#4a6282" stroke-width="0.5" opacity="0.85"/>
<line x1="408.8" y1="452.4" x2="412.0" y2="458.1" stroke="#4a6282" stroke-width="0.5" opacity="0.85"/>
<line x1="411.1" y1="449.4" x2="407.6" y2="458.8" stroke="#4a6282" stroke-width="0.5" opacity="0.85"/>
<line x1="413.1" y1="447.4" x2="403.0" y2="458.8" stroke="#4a6282" stroke-width="0.5" opacity="0.85"/>
<line x1="414.4" y1="446.2" x2="398.5" y2="457.9" stroke="#4a6282" stroke-width="0.5" opacity="0.85"/>
<line x1="414.7" y1="445.8" x2="394.5" y2="456.2" stroke="#4a6282" stroke-width="0.5" opacity="0.85"/>
<line x1="413.8" y1="445.8" x2="391.5" y2="453.5" stroke="#4a6282" stroke-width="0.5" opacity="0.85"/>
<line x1="411.7" y1="446.0" x2="389.8" y2="450.2" stroke="#4a6282" stroke-width="0.5" opacity="0.85"/>
<line x1="408.5" y1="446.2" x2="389.4" y2="446.4" stroke="#4a6282" stroke-width="0.5" opacity="0.85"/>
<line x1="404.6" y1="445.9" x2="390.5" y2="442.5" stroke="#4a6282" stroke-width="0.5" opacity="0.85"/>
<line x1="400.2" y1="444.9" x2="392.8" y2="438.7" stroke="#4a6282" stroke-width="0.5" opacity="0.85"/>
<line x1="395.8" y1="443.2" x2="396.1" y2="435.5" stroke="#4a6282" stroke-width="0.5" opacity="0.85"/>
<line x1="392.0" y1="440.7" x2="399.9" y2="432.9" stroke="#4a6282" stroke-width="0.5" opacity="0.85"/>
<line x1="389.1" y1="437.5" x2="403.8" y2="431.1" stroke="#4a6282" stroke-width="0.5" opacity="0.85"/>
<line x1="387.4" y1="433.9" x2="407.4" y2="430.0" stroke="#4a6282" stroke-width="0.5" opacity="0.85"/>
<line x1="387.1" y1="430.1" x2="410.2" y2="429.4" stroke="#4a6282" stroke-width="0.5" opacity="0.85"/>
<line x1="388.4" y1="426.5" x2="411.9" y2="429.2" stroke="#4a6282" stroke-width="0.5" opacity="0.85"/>
<line x1="390.9" y1="423.2" x2="412.3" y2="429.1" stroke="#4a6282" stroke-width="0.5" opacity="0.85"/>
<line x1="394.6" y1="420.6" x2="411.5" y2="428.8" stroke="#4a6282" stroke-width="0.5" opacity="0.85"/>
<line x1="398.9" y1="418.9" x2="409.5" y2="427.9" stroke="#4a6282" stroke-width="0.5" opacity="0.85"/>
<line x1="403.4" y1="417.9" x2="406.8" y2="426.3" stroke="#4a6282" stroke-width="0.5" opacity="0.85"/>
<line x1="407.7" y1="417.6" x2="403.6" y2="424.0" stroke="#4a6282" stroke-width="0.5" opacity="0.85"/>
<line x1="411.3" y1="417.8" x2="400.5" y2="420.8" stroke="#4a6282" stroke-width="0.5" opacity="0.85"/>
<line x1="414.0" y1="418.2" x2="397.8" y2="417.1" stroke="#4a6282" stroke-width="0.5" opacity="0.85"/>
<line x1="415.6" y1="418.5" x2="395.9" y2="413.0" stroke="#4a6282" stroke-width="0.5" opacity="0.85"/>
<line x1="416.0" y1="418.4" x2="395.2" y2="408.8" stroke="#4a6282" stroke-width="0.5" opacity="0.85"/>
<line x1="415.4" y1="417.5" x2="395.8" y2="405.0" stroke="#4a6282" stroke-width="0.5" opacity="0.85"/>
<line x1="413.9" y1="415.8" x2="397.6" y2="401.8" stroke="#4a6282" stroke-width="0.5" opacity="0.85"/>
<line x1="412.0" y1="413.1" x2="400.6" y2="399.5" stroke="#4a6282" stroke-width="0.5" opacity="0.85"/>
<line x1="410.1" y1="409.6" x2="404.4" y2="398.3" stroke="#4a6282" stroke-width="0.5" opacity="0.85"/>
<line x1="408.4" y1="405.5" x2="408.8" y2="398.1" stroke="#4a6282" stroke-width="0.5" opacity="0.85"/>
<line x1="407.4" y1="401.0" x2="413.3" y2="398.9" stroke="#4a6282" stroke-width="0.5" opacity="0.85"/>
<line x1="407.3" y1="396.6" x2="417.6" y2="400.3" stroke="#4a6282" stroke-width="0.5" opacity="0.85"/>
<line x1="408.2" y1="392.7" x2="421.4" y2="402.2" stroke="#4a6282" stroke-width="0.5" opacity="0.85"/>
<line x1="410.0" y1="389.6" x2="424.5" y2="404.0" stroke="#4a6282" stroke-width="0.5" opacity="0.85"/>
<line x1="412.8" y1="387.6" x2="426.7" y2="405.3" stroke="#4a6282" stroke-width="0.5" opacity="0.85"/>
<line x1="416.3" y1="386.8" x2="428.1" y2="405.9" stroke="#4a6282" stroke-width="0.5" opacity="0.85"/>
<line x1="420.1" y1="387.2" x2="428.9" y2="405.5" stroke="#4a6282" stroke-width="0.5" opacity="0.85"/>
<line x1="424.1" y1="388.7" x2="429.2" y2="404.0" stroke="#4a6282" stroke-width="0.5" opacity="0.85"/>
<line x1="427.9" y1="391.1" x2="429.3" y2="401.3" stroke="#4a6282" stroke-width="0.5" opacity="0.85"/>
<line x1="431.3" y1="393.9" x2="429.5" y2="397.7" stroke="#4a6282" stroke-width="0.5" opacity="0.85"/>
<line x1="434.2" y1="396.7" x2="430.0" y2="393.5" stroke="#4a6282" stroke-width="0.5" opacity="0.85"/>
<line x1="436.5" y1="399.1" x2="430.9" y2="389.1" stroke="#4a6282" stroke-width="0.5" opacity="0.85"/>
<line x1="438.3" y1="400.8" x2="432.4" y2="384.8" stroke="#4a6282" stroke-width="0.5" opacity="0.85"/>
<line x1="439.8" y1="401.3" x2="434.4" y2="381.2" stroke="#4a6282" stroke-width="0.5" opacity="0.85"/>
<line x1="441.0" y1="400.7" x2="436.9" y2="378.6" stroke="#4a6282" stroke-width="0.5" opacity="0.85"/>
<line x1="442.3" y1="398.8" x2="439.6" y2="377.3" stroke="#4a6282" stroke-width="0.5" opacity="0.85"/>
<line x1="443.8" y1="395.9" x2="442.5" y2="377.4" stroke="#4a6282" stroke-width="0.5" opacity="0.85"/>
<line x1="445.6" y1="392.3" x2="445.2" y2="378.8" stroke="#4a6282" stroke-width="0.5" opacity="0.85"/>
<line x1="447.7" y1="388.4" x2="447.7" y2="381.4" stroke="#4a6282" stroke-width="0.5" opacity="0.85"/>
<line x1="450.2" y1="384.5" x2="449.9" y2="384.8" stroke="#4a6282" stroke-width="0.5" opacity="0.85"/>
<line x1="452.9" y1="381.2" x2="451.7" y2="388.7" stroke="#4a6282" stroke-width="0.5" opacity="0.85"/>
<line x1="455.7" y1="378.8" x2="453.2" y2="392.7" stroke="#4a6282" stroke-width="0.5" opacity="0.85"/>
<line x1="458.5" y1="377.5" x2="454.5" y2="396.2" stroke="#4a6282" stroke-width="0.5" opacity="0.85"/>
<line x1="460.9" y1="377.6" x2="455.8" y2="399.0" stroke="#4a6282" stroke-width="0.5" opacity="0.85"/>
<line x1="462.9" y1="379.0" x2="457.3" y2="400.7" stroke="#4a6282" stroke-width="0.5" opacity="0.85"/>
<line x1="464.3" y1="381.6" x2="459.2" y2="401.3" stroke="#4a6282" stroke-width="0.5" opacity="0.85"/>
<path d="M482.3,488.2 L482.1,488.6 L482.0,488.9 L481.9,489.2 L481.7,489.4 L481.5,489.6 L481.3,489.8 L481.0,490.0 L480.7,490.1 L480.4,490.2 L480.1,490.3 L479.7,490.3 L479.4,490.3 L479.0,490.3 L478.6,490.2 L478.1,490.1 L477.7,490.0 L477.2,489.9 L476.7,489.7 L476.2,489.5 L475.7,489.2 L475.2,489.0 L474.6,488.7 L474.1,488.3 L473.5,488.0 L472.9,487.6 L472.4,487.3 L471.8,486.9 L471.2,486.4 L470.6,486.0 L470.0,485.6 L469.4,485.1 L468.8,484.6 L468.2,484.1 L467.6,483.7 L467.0,483.2 L466.4,482.7 L465.8,482.2 L465.2,481.7 L464.6,481.2 L464.0,480.7 L463.5,480.2 L462.9,479.7 L462.4,479.2 L461.8,478.8 L461.3,478.3 L460.8,477.9 L460.3,477.5 L459.8,477.1 L459.3,476.7 L458.9,476.3 L458.4,476.0 L458.0,475.7 L457.5,475.4 L457.1,475.1 L456.7,474.9 L456.3,474.7 L456.0,474.5 L455.6,474.4 L455.2,474.3 L454.9,474.2 L454.6,474.1 L454.2,474.1 L453.9,474.2 L453.6,474.2 L453.3,474.3 L453.1,474.4 L452.8,474.6 L452.5,474.7 L452.2,475.0 L452.0,475.2 L451.7,475.5 L451.5,475.8 L451.2,476.1 L450.9,476.5 L450.7,476.9 L450.4,477.3 L450.2,477.8 L449.9,478.3 L449.7,478.7 L449.4,479.3 L449.1,479.8 L448.8,480.4 L448.6,480.9 L448.3,481.5 L448.0,482.1 L447.7,482.7 L447.4,483.3 L447.0,484.0 L446.7,484.6 L446.4,485.2 L446.0,485.8 L445.7,486.5 L445.3,487.1 L444.9,487.7 L444.5,488.3 L444.1,488.9 L443.7,489.5 L443.3,490.1 L442.9,490.6 L442.4,491.2 L442.0,491.7 L441.5,492.2 L441.0,492.7 L440.6,493.1 L440.1,493.5 L439.6,493.9 L439.1,494.3 L438.6,494.6 L438.1,494.9 L437.6,495.2 L437.1,495.4 L436.6,495.6 L436.0,495.8 L435.5,495.9 L435.0,496.0 L434.5,496.1 L434.0,496.1 L433.5,496.1 L433.0,496.0 L432.5,495.9 L432.0,495.7 L431.5,495.6 L431.1,495.3 L430.6,495.1 L430.1,494.8 L429.7,494.5 L429.3,494.1 L428.9,493.7 L428.5,493.3 L428.1,492.8 L427.7,492.3 L427.4,491.8 L427.0,491.2 L426.7,490.6 L426.4,490.0 L426.1,489.4 L425.9,488.8 L425.6,488.1 L425.4,487.4 L425.2,486.7 L425.0,486.0 L424.8,485.3 L424.6,484.5 L424.5,483.8 L424.4,483.0 L424.3,482.3 L424.2,481.5 L424.1,480.8 L424.1,480.0 L424.0,479.3 L424.0,478.5 L424.0,477.8 L424.0,477.0 L424.0,476.3 L424.1,475.6 L424.1,474.9 L424.1,474.3 L424.2,473.6 L424.3,473.0 L424.3,472.4 L424.4,471.8 L424.5,471.2 L424.5,470.7 L424.6,470.2 L424.7,469.7 L424.7,469.3 L424.8,468.8 L424.9,468.4 L424.9,468.1 L424.9,467.7 L425.0,467.4 L425.0,467.2 L425.0,466.9 L425.0,466.7 L425.0,466.5 L424.9,466.4 L424.9,466.2 L424.8,466.1 L424.7,466.1 L424.6,466.0 L424.4,466.0 L424.3,466.1 L424.1,466.1 L423.9,466.2 L423.6,466.3 L423.4,466.4 L423.1,466.5 L422.8,466.6 L422.4,466.8 L422.1,467.0 L421.7,467.2 L421.3,467.4 L420.8,467.6 L420.4,467.9 L419.9,468.1 L419.4,468.3 L418.8,468.6 L418.3,468.8 L417.7,469.1 L417.1,469.3 L416.4,469.6 L415.8,469.8 L415.1,470.0 L414.4,470.2 L413.7,470.5 L413.0,470.7 L412.3,470.8 L411.6,471.0 L410.8,471.2 L410.0,471.3 L409.3,471.4 L408.5,471.5 L407.7,471.6 L407.0,471.6 L406.2,471.7 L405.4,471.7 L404.7,471.6 L403.9,471.6 L403.2,471.5 L402.4,471.4 L401.7,471.3 L401.0,471.1 L400.3,471.0 L399.6,470.7 L398.9,470.5 L398.3,470.2 L397.7,469.9 L397.1,469.6 L396.5,469.3 L396.0,468.9 L395.5,468.5 L395.0,468.1 L394.5,467.6 L394.1,467.1 L393.7,466.6 L393.4,466.1 L393.1,465.6 L392.8,465.0 L392.5,464.5 L392.3,463.9 L392.2,463.3 L392.0,462.6 L392.0,462.0 L391.9,461.4 L391.9,460.7 L391.9,460.0 L392.0,459.4 L392.1,458.7 L392.2,458.0 L392.4,457.4 L392.6,456.7 L392.9,456.0 L393.1,455.3 L393.4,454.7 L393.8,454.0 L394.2,453.4 L394.6,452.7 L395.0,452.1 L395.4,451.5 L395.9,450.9 L396.4,450.3 L396.9,449.7 L397.4,449.1 L398.0,448.6 L398.6,448.1 L399.1,447.6 L399.7,447.1 L400.3,446.6 L400.9,446.2 L401.5,445.7 L402.1,445.3 L402.7,444.9 L403.3,444.6 L403.9,444.2 L404.5,443.9 L405.1,443.6 L405.7,443.3 L406.2,443.1 L406.8,442.9 L407.3,442.6 L407.8,442.4 L408.3,442.3 L408.7,442.1 L409.1,442.0 L409.6,441.8 L409.9,441.7 L410.3,441.6 L410.6,441.6 L410.9,441.5 L411.2,441.4 L411.4,441.4 L411.6,441.3 L411.7,441.3 L411.9,441.3 L411.9,441.2 L412.0,441.2 L412.0,441.2 L412.0,441.2 L411.9,441.1 L411.8,441.1 L411.7,441.1 L411.5,441.0 L411.3,441.0 L411.1,440.9 L410.8,440.9 L410.5,440.8 L410.2,440.7 L409.8,440.6 L409.5,440.5 L409.0,440.4 L408.6,440.2 L408.1,440.1 L407.7,439.9 L407.1,439.7 L406.6,439.5 L406.1,439.2 L405.5,439.0 L405.0,438.7 L404.4,438.4 L403.8,438.0 L403.2,437.7 L402.6,437.3 L402.0,436.9 L401.4,436.5 L400.8,436.1 L400.2,435.6 L399.6,435.2 L399.0,434.7 L398.4,434.2 L397.9,433.6 L397.3,433.1 L396.8,432.5 L396.3,431.9 L395.8,431.3 L395.3,430.7 L394.9,430.1 L394.4,429.5 L394.1,428.8 L393.7,428.2 L393.4,427.5 L393.1,426.9 L392.8,426.2 L392.6,425.5 L392.4,424.8 L392.2,424.2 L392.1,423.5 L392.0,422.8 L391.9,422.2 L391.9,421.5 L391.9,420.8 L392.0,420.2 L392.1,419.6 L392.2,419.0 L392.4,418.4 L392.6,417.8 L392.8,417.2 L393.1,416.7 L393.5,416.1 L393.8,415.6 L394.2,415.1 L394.6,414.6 L395.1,414.2 L395.6,413.8 L396.1,413.4 L396.6,413.0 L397.2,412.7 L397.8,412.4 L398.4,412.1 L399.1,411.8 L399.8,411.6 L400.4,411.4 L401.1,411.2 L401.9,411.0 L402.6,410.9 L403.3,410.8 L404.1,410.8 L404.8,410.7 L405.6,410.7 L406.4,410.7 L407.2,410.7 L407.9,410.8 L408.7,410.9 L409.5,411.0 L410.2,411.1 L411.0,411.2 L411.7,411.4 L412.5,411.6 L413.2,411.8 L413.9,412.0 L414.6,412.2 L415.3,412.4 L415.9,412.6 L416.6,412.9 L417.2,413.1 L417.8,413.4 L418.4,413.6 L419.0,413.9 L419.5,414.1 L420.0,414.3 L420.5,414.6 L420.9,414.8 L421.4,415.0 L421.8,415.2 L422.2,415.4 L422.5,415.6 L422.9,415.8 L423.2,415.9 L423.4,416.0 L423.7,416.1 L423.9,416.2 L424.1,416.3 L424.3,416.3 L424.5,416.3 L424.6,416.3 L424.7,416.3 L424.8,416.2 L424.9,416.1 L424.9,416.0 L425.0,415.8 L425.0,415.6 L425.0,415.4 L425.0,415.2 L425.0,414.9 L424.9,414.6 L424.9,414.2 L424.8,413.8 L424.8,413.4 L424.7,413.0 L424.6,412.5 L424.6,412.1 L424.5,411.5 L424.4,411.0 L424.4,410.4 L424.3,409.8 L424.2,409.2 L424.2,408.6 L424.1,407.9 L424.1,407.3 L424.0,406.6 L424.0,405.9 L424.0,405.1 L424.0,404.4 L424.0,403.7 L424.0,402.9 L424.1,402.2 L424.1,401.4 L424.2,400.7 L424.3,399.9 L424.4,399.2 L424.5,398.4 L424.7,397.7 L424.8,396.9 L425.0,396.2 L425.2,395.5 L425.4,394.8 L425.7,394.1 L425.9,393.4 L426.2,392.8 L426.5,392.2 L426.8,391.6 L427.1,391.0 L427.4,390.5 L427.8,389.9 L428.2,389.5 L428.6,389.0 L429.0,388.6 L429.4,388.2 L429.8,387.8 L430.3,387.5 L430.7,387.2 L431.2,387.0 L431.6,386.8 L432.1,386.6 L432.6,386.5 L433.1,386.4 L433.6,386.3 L434.1,386.3 L434.6,386.3 L435.1,386.4 L435.7,386.5 L436.2,386.6 L436.7,386.8 L437.2,387.0 L437.7,387.2 L438.2,387.5 L438.7,387.8 L439.2,388.1 L439.7,388.5 L440.2,388.9 L440.7,389.4 L441.2,389.8 L441.6,390.3 L442.1,390.8 L442.5,391.3 L443.0,391.9 L443.4,392.4 L443.8,393.0 L444.2,393.6 L444.6,394.2 L445.0,394.8 L445.4,395.4 L445.7,396.1 L446.1,396.7 L446.4,397.3 L446.8,397.9 L447.1,398.6 L447.4,399.2 L447.7,399.8 L448.0,400.4 L448.3,401.0 L448.6,401.6 L448.9,402.1 L449.2,402.7 L449.5,403.2 L449.7,403.7 L450.0,404.2 L450.2,404.7 L450.5,405.1 L450.7,405.6 L451.0,406.0 L451.3,406.3 L451.5,406.6 L451.8,407.0 L452.0,407.2 L452.3,407.5 L452.6,407.7 L452.8,407.9 L453.1,408.0 L453.4,408.1 L453.7,408.2 L454.0,408.2 L454.3,408.2 L454.7,408.2 L455.0,408.2 L455.3,408.1 L455.7,407.9 L456.0,407.8 L456.4,407.6 L456.8,407.4 L457.2,407.2 L457.6,406.9 L458.1,406.6 L458.5,406.3 L459.0,405.9 L459.4,405.6 L459.9,405.2 L460.4,404.8 L460.9,404.4 L461.4,403.9 L462.0,403.5 L462.5,403.0 L463.0,402.6 L463.6,402.1 L464.2,401.6 L464.7,401.1 L465.3,400.6 L465.9,400.1 L466.5,399.6 L467.1,399.1 L467.7,398.6 L468.3,398.1 L468.9,397.6 L469.5,397.2 L470.1,396.7 L470.7,396.2 L471.3,395.8 L471.9,395.4 L472.5,395.0 L473.1,394.6 L473.7,394.3 L474.2,393.9 L474.8,393.6 L475.3,393.3 L475.8,393.1 L476.4,392.9 L476.9,392.6 L477.3,392.5 L477.8,392.3 L478.2,392.2 L478.7,392.1 L479.1,392.1 L479.5,392.0 L479.8,392.1 L480.2,392.1 L480.5,392.2 L480.8,392.3 L481.1,392.4 L481.3,392.6 L481.5,392.8 L481.7,393.0 L481.9,393.3 L482.1,393.6 L482.2,393.9 L482.3,394.2 L482.3,394.6 L482.4,395.0 L482.4,395.4 L482.4,395.9 L482.4,396.4 L482.4,396.9 L482.3,397.4 L482.2,397.9 L482.1,398.5 L482.0,399.1 L481.9,399.7 L481.7,400.3 L481.6,400.9 L481.4,401.5 L481.2,402.2 L481.0,402.8 L480.8,403.5 L480.5,404.2 L480.3,404.8 L480.1,405.5 L479.9,406.2 L479.6,406.9 L479.4,407.5 L479.2,408.2 L478.9,408.9 L478.7,409.5 L478.5,410.2 L478.3,410.9 L478.1,411.5 L477.9,412.1 L477.7,412.8 L477.6,413.4 L477.5,414.0 L477.3,414.6 L477.2,415.1 L477.2,415.7 L477.1,416.3 L477.1,416.8 L477.1,417.3 L477.1,417.8 L477.1,418.3 L477.2,418.7 L477.3,419.2 L477.4,419.6 L477.6,420.0 L477.8,420.4 L478.0,420.7 L478.2,421.1 L478.5,421.4 L478.8,421.7 L479.2,422.0 L479.6,422.3 L480.0,422.6 L480.4,422.8 L480.8,423.0 L481.3,423.2 L481.8,423.4 L482.4,423.6 L483.0,423.8 L483.6,423.9 L484.2,424.1 L484.8,424.2 L485.5,424.3 L486.1,424.4 L486.8,424.5 L487.6,424.6 L488.3,424.7 L489.0,424.8 L489.8,424.8 L490.5,424.9 L491.3,425.0 L492.1,425.0 L492.8,425.1 L493.6,425.1 L494.4,425.1 L495.2,425.2 L495.9,425.2 L496.7,425.3 L497.4,425.3 L498.2,425.3 L498.9,425.4 L499.6,425.4 L500.3,425.5 L501.0,425.5 L501.6,425.6 L502.3,425.6 L502.9,425.7 L503.4,425.8 L504.0,425.9 L504.5,425.9 L505.0,426.0 L505.5,426.1 L505.9,426.2 L506.3,426.3 L506.6,426.5 L506.9,426.6 L507.2,426.7 L507.4,426.8 L507.6,427.0 L507.8,427.1 L507.9,427.3 L508.0,427.5 L508.0,427.6 L508.0,427.8 L507.9,428.0 L507.8,428.2 L507.7,428.4 L507.5,428.6 L507.3,428.8 L507.1,429.0 L506.8,429.2 L506.5,429.4 L506.1,429.7 L505.7,429.9 L505.3,430.2 L504.9,430.4 L504.4,430.7 L503.9,430.9 L503.3,431.2 L502.8,431.4 L502.2,431.7 L501.6,432.0 L501.0,432.2 L500.3,432.5 L499.7,432.8 L499.0,433.1 L498.3,433.4 L497.6,433.7 L497.0,434.0 L496.3,434.2 L495.6,434.5 L494.9,434.9 L494.2,435.2 L493.5,435.5 L492.8,435.8 L492.1,436.1 L491.4,436.4 L490.8,436.7 L490.2,437.1 L489.5,437.4 L488.9,437.7 L488.4,438.1 L487.8,438.4 L487.3,438.8 L486.8,439.1 L486.3,439.5 L485.9,439.9 L485.4,440.2 L485.0,440.6 L484.7,441.0 L484.4,441.4 L484.1,441.8 L483.8,442.2 L483.6,442.6 L483.4,443.0 L483.2,443.4 L483.1,443.9 L483.0,444.3 L483.0,444.8 L483.0,445.2 L483.0,445.7 L483.1,446.1 L483.1,446.6 L483.3,447.1 L483.4,447.6 L483.6,448.1 L483.8,448.6 L484.1,449.1 L484.3,449.6 L484.6,450.2 L485.0,450.7 L485.3,451.2 L485.7,451.8 L486.1,452.3 L486.5,452.8 L486.9,453.4 L487.3,454.0 L487.8,454.5 L488.2,455.1 L488.7,455.6 L489.2,456.2 L489.6,456.7 L490.1,457.3 L490.6,457.8 L491.1,458.4 L491.6,458.9 L492.0,459.5 L492.5,460.0 L492.9,460.6 L493.4,461.1 L493.8,461.6 L494.2,462.1 L494.6,462.6 L495.0,463.1 L495.4,463.6 L495.7,464.0 L496.0,464.5 L496.3,464.9 L496.5,465.3 L496.8,465.7 L497.0,466.1 L497.2,466.5 L497.3,466.8 L497.4,467.2 L497.5,467.5 L497.5,467.8 L497.5,468.0 L497.5,468.3 L497.5,468.5 L497.4,468.7 L497.3,468.9 L497.1,469.1 L496.9,469.2 L496.7,469.3 L496.4,469.4 L496.1,469.5 L495.8,469.6 L495.5,469.6 L495.1,469.6 L494.7,469.6 L494.2,469.6 L493.7,469.5 L493.2,469.4 L492.7,469.3 L492.2,469.2 L491.6,469.1 L491.0,468.9 L490.4,468.8 L489.8,468.6 L489.1,468.4 L488.4,468.2 L487.8,468.0 L487.1,467.7 L486.4,467.5 L485.7,467.3 L484.9,467.0 L484.2,466.7 L483.5,466.5 L482.7,466.2 L482.0,465.9 L481.3,465.6 L480.5,465.4 L479.8,465.1 L479.1,464.8 L478.4,464.6 L477.7,464.3 L477.0,464.1 L476.3,463.8 L475.6,463.6 L475.0,463.4 L474.3,463.2 L473.7,463.0 L473.1,462.8 L472.5,462.7 L471.9,462.5 L471.3,462.4 L470.8,462.3 L470.3,462.3 L469.8,462.2 L469.3,462.2 L468.8,462.2 L468.4,462.3 L468.0,462.3 L467.6,462.4 L467.2,462.5 L466.8,462.7 L466.5,462.8 L466.2,463.0 L465.9,463.3 L465.6,463.5 L465.3,463.8 L465.1,464.1 L464.9,464.5 L464.7,464.8 L464.5,465.2 L464.3,465.7 L464.1,466.1 L464.0,466.6 L463.8,467.1 L463.7,467.6 L463.6,468.2 L463.5,468.7 L463.4,469.3 L463.3,469.9 L463.2,470.5 L463.1,471.2 L463.0,471.8 L462.9,472.5 L462.8,473.2 L462.8,473.9 L462.7,474.6 L462.6,475.3 L462.5,476.0 L462.4,476.7 L462.3,477.4 L462.2,478.1 L462.1,478.8 L462.0,479.5 L461.8,480.2 L461.7,480.8 L461.5,481.5 L461.4,482.2 L461.2,482.8 L461.0,483.4 L460.8,484.0 L460.6,484.6 L460.4,485.2 L460.1,485.7 L459.9,486.2 L459.6,486.7 L459.3,487.2 L459.0,487.6 L458.7,488.0 L458.4,488.3 L458.1,488.7 L457.7,489.0 L457.4,489.2 L457.0,489.5 L456.6,489.6 L456.3,489.8 L455.9,489.9 L455.5,490.0 L455.0,490.0 L454.6,490.0 L454.2,490.0 L453.8,489.9 L453.3,489.8 L452.9,489.6 L452.4,489.4 L452.0,489.2 L451.5,489.0 L451.1,488.7 L450.6,488.3 L450.1,488.0 L449.7,487.6 L449.2,487.1 L448.8,486.7 L448.3,486.2 L447.9,485.7 L447.5,485.1 L447.0,484.6 L446.6,484.0 L446.2,483.4 L445.8,482.8 L445.4,482.1 L445.0,481.5 L444.6,480.8 L444.3,480.2 L443.9,479.5 L443.6,478.8 L443.2,478.1 L442.9,477.4 L442.6,476.7 L442.3,476.0 L442.0,475.4 L441.7,474.7 L441.4,474.0 L441.2,473.3 L440.9,472.7 L440.7,472.1 L440.5,471.5 L440.2,470.9 L440.0,470.3 L439.8,469.7 L439.6,469.2 L439.4,468.7 L439.3,468.2 L439.1,467.8 L438.9,467.3 L438.7,466.9 L438.6,466.6 L438.4,466.2 L438.2,465.9 L438.1,465.7 L437.9,465.4 L437.7,465.2 L437.5,465.1 L437.4,464.9 L437.2,464.8 L437.0,464.7 L436.8,464.7 L436.6,464.7 L436.4,464.7 L436.1,464.8 L435.9,464.9 L435.7,465.0 L435.4,465.2 L435.1,465.4 L434.8,465.6 L434.5,465.8 L434.2,466.1 L433.9,466.4 L433.5,466.7 L433.2,467.0 L432.8,467.4 L432.4,467.7 L432.0,468.1 L431.5,468.5 L431.1,468.9 L430.6,469.3 L430.1,469.8 L429.6,470.2 L429.1,470.6 L428.6,471.1 L428.0,471.5 L427.4,472.0 L426.9,472.4 L426.3,472.8 L425.6,473.2 L425.0,473.7 L424.4,474.1 L423.7,474.4 L423.1,474.8 L422.4,475.2 L421.7,475.5 L421.1,475.8 L420.4,476.1 L419.7,476.4 L419.0,476.6 L418.3,476.8 L417.6,477.0 L416.9,477.2 L416.2,477.3 L415.6,477.4 L414.9,477.5 L414.2,477.5 L413.6,477.5 L412.9,477.5 L412.3,477.5 L411.7,477.4 L411.1,477.2 L410.5,477.1 L409.9,476.9 L409.3,476.6 L408.8,476.4 L408.3,476.1 L407.8,475.8 L407.4,475.4 L406.9,475.0 L406.5,474.6 L406.1,474.1 L405.8,473.6 L405.4,473.1 L405.1,472.6 L404.9,472.0 L404.6,471.5 L404.4,470.9 L404.2,470.2 L404.1,469.6 L404.0,468.9 L403.9,468.3 L403.8,467.6 L403.8,466.9 L403.8,466.1 L403.8,465.4 L403.9,464.7 L404.0,464.0 L404.1,463.2 L404.3,462.5 L404.4,461.8 L404.6,461.0 L404.9,460.3 L405.1,459.6 L405.4,458.8 L405.6,458.1 L406.0,457.4 L406.3,456.7 L406.6,456.1 L406.9,455.4 L407.3,454.8 L407.7,454.1 L408.1,453.5 L408.4,452.9 L408.8,452.4 L409.2,451.8 L409.6,451.3 L410.0,450.8 L410.4,450.3 L410.8,449.9 L411.1,449.4 L411.5,449.0 L411.8,448.7 L412.2,448.3 L412.5,448.0 L412.8,447.7 L413.1,447.4 L413.4,447.1 L413.6,446.9 L413.9,446.7 L414.1,446.5 L414.2,446.4 L414.4,446.2 L414.5,446.1 L414.6,446.0 L414.7,445.9 L414.7,445.8 L414.7,445.8 L414.7,445.8 L414.6,445.7 L414.5,445.7 L414.4,445.7 L414.2,445.8 L414.0,445.8 L413.8,445.8 L413.5,445.8 L413.2,445.9 L412.9,445.9 L412.5,446.0 L412.1,446.0 L411.7,446.0 L411.2,446.1 L410.7,446.1 L410.2,446.1 L409.7,446.2 L409.1,446.2 L408.5,446.2 L407.9,446.1 L407.3,446.1 L406.6,446.1 L406.0,446.0 L405.3,445.9 L404.6,445.9 L403.9,445.7 L403.1,445.6 L402.4,445.5 L401.7,445.3 L400.9,445.1 L400.2,444.9 L399.4,444.7 L398.7,444.4 L398.0,444.1 L397.3,443.8 L396.5,443.5 L395.8,443.2 L395.1,442.8 L394.5,442.4 L393.8,442.0 L393.2,441.6 L392.6,441.1 L392.0,440.7 L391.4,440.2 L390.9,439.7 L390.4,439.2 L389.9,438.6 L389.5,438.1 L389.1,437.5 L388.7,436.9 L388.3,436.4 L388.0,435.7 L387.8,435.1 L387.6,434.5 L387.4,433.9 L387.2,433.3 L387.1,432.6 L387.1,432.0 L387.0,431.4 L387.1,430.7 L387.1,430.1 L387.2,429.5 L387.4,428.9 L387.6,428.2 L387.8,427.6 L388.1,427.0 L388.4,426.5 L388.7,425.9 L389.1,425.3 L389.5,424.8 L389.9,424.2 L390.4,423.7 L390.9,423.2 L391.5,422.7 L392.0,422.3 L392.6,421.8 L393.2,421.4 L393.9,421.0 L394.6,420.6 L395.2,420.3 L395.9,420.0 L396.6,419.7 L397.4,419.4 L398.1,419.1 L398.9,418.9 L399.6,418.6 L400.4,418.4 L401.1,418.3 L401.9,418.1 L402.6,418.0 L403.4,417.9 L404.1,417.8 L404.9,417.7 L405.6,417.7 L406.3,417.6 L407.0,417.6 L407.7,417.6 L408.3,417.6 L409.0,417.6 L409.6,417.7 L410.2,417.7 L410.8,417.8 L411.3,417.8 L411.9,417.9 L412.4,418.0 L412.8,418.0 L413.3,418.1 L413.7,418.2 L414.0,418.2 L414.4,418.3 L414.7,418.4 L415.0,418.4 L415.2,418.5 L415.4,418.5 L415.6,418.5 L415.8,418.5 L415.9,418.5 L416.0,418.5 L416.0,418.5 L416.0,418.5 L416.0,418.4 L416.0,418.3 L415.9,418.2 L415.8,418.1 L415.7,417.9 L415.5,417.7 L415.4,417.5 L415.2,417.3 L415.0,417.0 L414.7,416.8 L414.5,416.5 L414.2,416.1 L413.9,415.8 L413.6,415.4 L413.3,415.0 L413.0,414.6 L412.7,414.1 L412.4,413.6 L412.0,413.1 L411.7,412.6 L411.4,412.0 L411.0,411.5 L410.7,410.9 L410.4,410.2 L410.1,409.6 L409.8,409.0 L409.5,408.3 L409.2,407.6 L408.9,406.9 L408.6,406.2 L408.4,405.5 L408.2,404.7 L408.0,404.0 L407.8,403.3 L407.6,402.5 L407.5,401.8 L407.4,401.0 L407.3,400.3 L407.2,399.5 L407.2,398.8 L407.2,398.1 L407.2,397.3 L407.3,396.6 L407.3,395.9 L407.4,395.3 L407.6,394.6 L407.7,393.9 L407.9,393.3 L408.2,392.7 L408.4,392.1 L408.7,391.6 L409.0,391.0 L409.3,390.5 L409.7,390.0 L410.0,389.6 L410.5,389.2 L410.9,388.8 L411.3,388.4 L411.8,388.1 L412.3,387.8 L412.8,387.6 L413.4,387.3 L413.9,387.2 L414.5,387.0 L415.1,386.9 L415.7,386.8 L416.3,386.8 L416.9,386.7 L417.5,386.8 L418.2,386.8 L418.8,386.9 L419.5,387.0 L420.1,387.2 L420.8,387.4 L421.5,387.6 L422.1,387.8 L422.8,388.1 L423.4,388.4 L424.1,388.7 L424.7,389.1 L425.4,389.4 L426.0,389.8 L426.7,390.2 L427.3,390.7 L427.9,391.1 L428.5,391.5 L429.1,392.0 L429.6,392.5 L430.2,392.9 L430.8,393.4 L431.3,393.9 L431.8,394.4 L432.3,394.9 L432.8,395.3 L433.3,395.8 L433.7,396.3 L434.2,396.7 L434.6,397.2 L435.0,397.6 L435.4,398.0 L435.8,398.4 L436.1,398.8 L436.5,399.1 L436.8,399.5 L437.1,399.8 L437.5,400.1 L437.8,400.3 L438.0,400.5 L438.3,400.8 L438.6,400.9 L438.8,401.1 L439.1,401.2 L439.3,401.3 L439.5,401.3 L439.8,401.3 L440.0,401.3 L440.2,401.2 L440.4,401.1 L440.6,401.0 L440.8,400.9 L441.0,400.7 L441.3,400.4 L441.5,400.2 L441.7,399.9 L441.9,399.6 L442.1,399.2 L442.3,398.8 L442.6,398.4 L442.8,398.0 L443.0,397.5 L443.3,397.0 L443.5,396.5 L443.8,395.9 L444.1,395.4 L444.3,394.8 L444.6,394.2 L444.9,393.6 L445.2,393.0 L445.6,392.3 L445.9,391.7 L446.2,391.0 L446.6,390.4 L447.0,389.7 L447.3,389.0 L447.7,388.4 L448.1,387.7 L448.5,387.1 L448.9,386.4 L449.3,385.8 L449.8,385.1 L450.2,384.5 L450.6,383.9 L451.1,383.3 L451.5,382.8 L452.0,382.2 L452.5,381.7 L452.9,381.2 L453.4,380.7 L453.9,380.3 L454.3,379.9 L454.8,379.5 L455.3,379.1 L455.7,378.8 L456.2,378.5 L456.7,378.2 L457.1,378.0 L457.6,377.8 L458.0,377.7 L458.5,377.5 L458.9,377.5 L459.3,377.4 L459.7,377.4 L460.1,377.5 L460.5,377.5 L460.9,377.6 L461.2,377.8 L461.6,378.0 L461.9,378.2 L462.3,378.4 L462.6,378.7 L462.9,379.0 L463.1,379.4 L463.4,379.8 L463.6,380.2 L463.9,380.7 L464.1,381.1 L464.3,381.6 L464.5,382.2" fill="none" stroke="#cc7b3a" stroke-width="1.15"/>
<path d="M474.7,472.6 L474.1,472.4 L473.4,472.1 L472.8,471.9 L472.2,471.7 L471.6,471.5 L471.0,471.3 L470.4,471.2 L469.9,471.0 L469.4,470.9 L468.8,470.8 L468.3,470.8 L467.9,470.7 L467.4,470.7 L467.0,470.7 L466.6,470.8 L466.2,470.8 L465.8,470.9 L465.4,471.1 L465.1,471.2 L464.8,471.4 L464.5,471.6 L464.2,471.9 L464.0,472.1 L463.7,472.5 L463.5,472.8 L463.3,473.1 L463.1,473.5 L462.9,474.0 L462.7,474.4 L462.5,474.9 L462.4,475.4 L462.2,475.9 L462.1,476.4 L461.9,477.0 L461.8,477.6 L461.7,478.2 L461.6,478.8 L461.5,479.4 L461.4,480.1 L461.3,480.7 L461.1,481.4 L461.0,482.1 L460.9,482.8 L460.8,483.5 L460.7,484.2 L460.6,484.9 L460.4,485.6 L460.3,486.3 L460.1,487.0 L460.0,487.6 L459.8,488.3 L459.6,489.0 L459.5,489.7 L459.3,490.3 L459.1,490.9 L458.8,491.6 L458.6,492.2 L458.4,492.7 L458.1,493.3 L457.8,493.8 L457.6,494.3 L457.3,494.8 L457.0,495.2 L456.6,495.6 L456.3,496.0 L456.0,496.4 L455.6,496.7 L455.2,497.0 L454.9,497.2 L454.5,497.4 L454.1,497.6 L453.7,497.8 L453.3,497.9 L452.9,497.9 L452.4,497.9 L452.0,497.9 L451.6,497.9 L451.1,497.8 L450.7,497.7 L450.2,497.5 L449.8,497.3 L449.3,497.0 L448.9,496.8 L448.4,496.4 L448.0,496.1 L447.5,495.7 L447.1,495.3 L446.6,494.9 L446.2,494.4 L445.8,493.9 L445.3,493.4 L444.9,492.8 L444.5,492.2 L444.1,491.6 L443.7,491.0 L443.3,490.4 L443.0,489.7 L442.6,489.1 L442.2,488.4 L441.9,487.7 L441.6,487.0 L441.3,486.3 L440.9,485.6 L440.6,484.9 L440.4,484.2 L440.1,483.5 L439.8,482.8 L439.6,482.1 L439.3,481.4 L439.1,480.8 L438.9,480.1 L438.7,479.5 L438.5,478.9 L438.3,478.3 L438.1,477.7 L438.0,477.1 L437.8,476.6 L437.6,476.1 L437.5,475.6 L437.3,475.1 L437.2,474.7 L437.0,474.3 L436.9,473.9 L436.7,473.5 L436.6,473.2 L436.4,473.0 L436.3,472.7 L436.1,472.5 L436.0,472.3 L435.8,472.2 L435.7,472.1 L435.5,472.0 L435.3,471.9 L435.1,471.9 L434.9,472.0 L434.7,472.0 L434.4,472.1 L434.2,472.2 L433.9,472.4 L433.7,472.5 L433.4,472.7 L433.1,473.0 L432.8,473.2 L432.4,473.5 L432.1,473.8 L431.7,474.1 L431.3,474.4 L430.9,474.8 L430.5,475.1 L430.0,475.5 L429.6,475.9 L429.1,476.3 L428.6,476.7 L428.1,477.1 L427.5,477.6 L427.0,478.0 L426.4,478.4 L425.8,478.8 L425.2,479.2 L424.6,479.6 L424.0,480.0 L423.3,480.4 L422.7,480.8 L422.0,481.1 L421.4,481.5 L420.7,481.8 L420.0,482.1 L419.3,482.4 L418.6,482.7 L417.9,482.9 L417.2,483.2 L416.5,483.3 L415.8,483.5 L415.1,483.6 L414.4,483.8 L413.7,483.8 L413.0,483.9 L412.3,483.9 L411.7,483.9 L411.0,483.8 L410.4,483.7 L409.7,483.6 L409.1,483.5 L408.5,483.3 L408.0,483.1 L407.4,482.8 L406.9,482.5 L406.4,482.2 L405.9,481.9 L405.4,481.5 L405.0,481.1 L404.6,480.6 L404.2,480.2 L403.9,479.7 L403.6,479.2 L403.3,478.6 L403.0,478.1 L402.8,477.5 L402.6,476.9 L402.5,476.2 L402.3,475.6 L402.2,474.9 L402.2,474.2 L402.1,473.5 L402.1,472.8 L402.2,472.1 L402.2,471.4 L402.3,470.7 L402.4,470.0 L402.6,469.2 L402.7,468.5 L402.9,467.8 L403.2,467.0 L403.4,466.3 L403.7,465.6 L404.0,464.9 L404.3,464.2 L404.6,463.5 L405.0,462.8 L405.3,462.2 L405.7,461.5 L406.1,460.9 L406.5,460.3 L406.9,459.7 L407.3,459.1 L407.7,458.6 L408.2,458.0 L408.6,457.5 L409.0,457.0 L409.4,456.6 L409.8,456.1 L410.2,455.7 L410.6,455.3 L411.0,455.0 L411.3,454.6 L411.7,454.3 L412.0,454.0 L412.3,453.7 L412.6,453.5 L412.9,453.3 L413.1,453.1 L413.4,452.9 L413.6,452.7 L413.7,452.6 L413.9,452.5 L414.0,452.4 L414.1,452.3 L414.1,452.2 L414.1,452.2 L414.1,452.2 L414.1,452.1 L414.0,452.1 L413.9,452.1 L413.7,452.1 L413.5,452.1 L413.3,452.2 L413.0,452.2 L412.7,452.2 L412.4,452.2 L412.1,452.3 L411.7,452.3 L411.3,452.3 L410.8,452.3 L410.3,452.4 L409.8,452.4 L409.3,452.4 L408.7,452.3 L408.1,452.3 L407.5,452.3 L406.9,452.2 L406.3,452.2 L405.6,452.1 L404.9,452.0 L404.2,451.9 L403.5,451.7 L402.8,451.6 L402.1,451.4 L401.4,451.2 L400.6,451.0 L399.9,450.7 L399.2,450.5 L398.5,450.2 L397.7,449.9 L397.0,449.6 L396.3,449.2 L395.6,448.9 L395.0,448.5 L394.3,448.1 L393.7,447.6 L393.0,447.2 L392.4,446.7 L391.9,446.2 L391.3,445.7 L390.8,445.2 L390.3,444.7 L389.9,444.1 L389.4,443.5 L389.0,443.0 L388.7,442.4 L388.4,441.8 L388.1,441.1 L387.8,440.5 L387.6,439.9 L387.5,439.3 L387.3,438.6 L387.3,438.0 L387.2,437.4 L387.2,436.7 L387.3,436.1 L387.3,435.5 L387.5,434.9 L387.6,434.2 L387.8,433.6 L388.1,433.0 L388.3,432.4 L388.7,431.9 L389.0,431.3 L389.4,430.8 L389.8,430.2 L390.3,429.7 L390.8,429.2 L391.3,428.7 L391.9,428.3 L392.4,427.8 L393.1,427.4 L393.7,427.0 L394.3,426.6 L395.0,426.3 L395.7,426.0 L396.4,425.7 L397.1,425.4 L397.9,425.1 L398.6,424.9 L399.4,424.7 L400.1,424.5 L400.9,424.3 L401.7,424.2 L402.4,424.0 L403.2,423.9 L403.9,423.9 L404.7,423.8 L405.4,423.8 L406.2,423.7 L406.9,423.7 L407.6,423.7 L408.3,423.7 L408.9,423.8 L409.6,423.8 L410.2,423.9 L410.8,424.0 L411.4,424.0 L412.0,424.1 L412.5,424.2 L413.0,424.3 L413.5,424.4 L413.9,424.5 L414.3,424.5 L414.7,424.6 L415.1,424.7 L415.4,424.8 L415.7,424.8 L415.9,424.9 L416.1,425.0 L416.3,425.0 L416.5,425.0 L416.6,425.0 L416.7,425.0 L416.8,425.0 L416.8,424.9 L416.8,424.9 L416.8,424.8 L416.7,424.7 L416.7,424.5 L416.6,424.4 L416.4,424.2 L416.3,424.0 L416.1,423.7 L415.9,423.5 L415.7,423.2 L415.5,422.9 L415.2,422.6 L415.0,422.2 L414.7,421.8 L414.4,421.4 L414.1,420.9 L413.8,420.5 L413.5,420.0 L413.2,419.5 L412.9,418.9 L412.6,418.4 L412.3,417.8 L412.0,417.2 L411.7,416.5 L411.5,415.9 L411.2,415.2 L410.9,414.5 L410.7,413.8 L410.4,413.1 L410.2,412.4 L410.0,411.7 L409.8,411.0 L409.6,410.2 L409.5,409.5 L409.3,408.7 L409.2,408.0 L409.1,407.2 L409.1,406.5 L409.1,405.7 L409.0,405.0 L409.1,404.2 L409.1,403.5 L409.2,402.8 L409.3,402.1 L409.4,401.4 L409.6,400.8 L409.7,400.1 L409.9,399.5 L410.2,398.9 L410.4,398.3 L410.7,397.8 L411.1,397.3 L411.4,396.8 L411.8,396.3 L412.2,395.9 L412.6,395.5 L413.0,395.1 L413.5,394.8 L413.9,394.4 L414.4,394.2 L415.0,393.9 L415.5,393.7 L416.1,393.6 L416.6,393.4 L417.2,393.3 L417.8,393.3 L418.4,393.3 L419.0,393.3 L419.6,393.3 L420.3,393.4 L420.9,393.5 L421.5,393.7 L422.2,393.8 L422.8,394.1 L423.5,394.3 L424.1,394.6 L424.8,394.9 L425.4,395.2 L426.0,395.5 L426.7,395.9 L427.3,396.3 L427.9,396.7 L428.5,397.1 L429.1,397.6 L429.7,398.0 L430.3,398.5 L430.8,399.0 L431.4,399.5 L431.9,400.0 L432.5,400.5 L433.0,401.0 L433.5,401.5 L434.0,402.0 L434.4,402.5 L434.9,402.9 L435.3,403.4 L435.8,403.9 L436.2,404.3 L436.6,404.8 L437.0,405.2 L437.3,405.6 L437.7,406.0 L438.0,406.4 L438.4,406.7 L438.7,407.1 L439.0,407.4 L439.3,407.6 L439.6,407.9 L439.8,408.1 L440.1,408.3 L440.4,408.4 L440.6,408.6 L440.9,408.6 L441.1,408.7 L441.3,408.7 L441.6,408.7 L441.8,408.7 L442.0,408.6 L442.2,408.5 L442.5,408.3 L442.7,408.1 L442.9,407.9 L443.1,407.7 L443.4,407.4 L443.6,407.1 L443.9,406.7 L444.1,406.4 L444.4,406.0 L444.6,405.5 L444.9,405.1 L445.2,404.6 L445.4,404.1 L445.7,403.5 L446.0,403.0 L446.3,402.4 L446.7,401.9 L447.0,401.3 L447.3,400.6 L447.7,400.0 L448.1,399.4 L448.4,398.7 L448.8,398.1 L449.2,397.5 L449.6,396.8 L450.0,396.2 L450.4,395.5 L450.9,394.9 L451.3,394.2 L451.7,393.6 L452.2,393.0 L452.7,392.4 L453.1,391.8 L453.6,391.2 L454.1,390.7 L454.5,390.2 L455.0,389.7 L455.5,389.2 L456.0,388.7 L456.5,388.3 L456.9,387.9 L457.4,387.5 L457.9,387.2 L458.4,386.9 L458.8,386.6 L459.3,386.3 L459.7,386.1 L460.2,385.9 L460.6,385.8 L461.1,385.7 L461.5,385.6 L461.9,385.6 L462.3,385.6 L462.7,385.7 L463.1,385.8 L463.4,385.9 L463.8,386.0 L464.1,386.2 L464.4,386.5 L464.7,386.7 L465.0,387.0 L465.3,387.4 L465.5,387.7 L465.8,388.1 L466.0,388.5 L466.2,389.0 L466.4,389.5 L466.6,390.0 L466.7,390.5 L466.9,391.1 L467.0,391.7 L467.1,392.3 L467.2,392.9 L467.3,393.5 L467.4,394.2 L467.4,394.9 L467.5,395.5 L467.5,396.2 L467.6,396.9 L467.6,397.6 L467.6,398.3 L467.6,399.1 L467.6,399.8 L467.6,400.5 L467.6,401.2 L467.6,401.9 L467.6,402.6 L467.6,403.3 L467.6,404.0 L467.6,404.6 L467.7,405.3 L467.7,405.9 L467.7,406.6 L467.7,407.2 L467.8,407.8 L467.8,408.3 L467.9,408.9 L468.0,409.4 L468.1,409.9 L468.2,410.4 L468.3,410.9 L468.5,411.3 L468.6,411.8 L468.8,412.2 L469.0,412.5 L469.2,412.9 L469.5,413.2 L469.8,413.5 L470.1,413.7 L470.4,414.0 L470.7,414.2 L471.1,414.3 L471.5,414.5 L471.9,414.6 L472.3,414.7 L472.8,414.8 L473.3,414.9 L473.8,414.9 L474.3,414.9 L474.8,414.9 L475.4,414.9 L476.0,414.9 L476.6,414.8 L477.2,414.7 L477.9,414.6 L478.6,414.5 L479.2,414.4 L479.9,414.2 L480.6,414.1 L481.4,413.9 L482.1,413.8 L482.8,413.6 L483.6,413.4 L484.3,413.2 L485.1,413.1 L485.9,412.9 L486.6,412.7 L487.4,412.5 L488.1,412.3 L488.9,412.1 L489.6,411.9 L490.4,411.8 L491.1,411.6 L491.8,411.4 L492.5,411.3 L493.2,411.1 L493.8,411.0 L494.5,410.9 L495.1,410.8 L495.7,410.7 L496.3,410.6 L496.9,410.5 L497.4,410.5 L497.9,410.4 L498.4,410.4 L498.8,410.4 L499.2,410.4 L499.6,410.5 L500.0,410.5 L500.3,410.6 L500.5,410.7 L500.8,410.8 L501.0,410.9 L501.2,411.1 L501.3,411.2 L501.4,411.4 L501.5,411.6 L501.5,411.8 L501.5,412.1 L501.4,412.3 L501.3,412.6 L501.2,412.9 L501.1,413.2 L500.9,413.5 L500.7,413.8 L500.4,414.2 L500.1,414.5 L499.8,414.9 L499.5,415.3 L499.1,415.7 L498.7,416.1 L498.3,416.5 L497.9,416.9 L497.4,417.4 L496.9,417.8 L496.4,418.3 L495.9,418.7 L495.4,419.2 L494.9,419.7 L494.3,420.1 L493.8,420.6 L493.2,421.1 L492.7,421.6 L492.1,422.1 L491.6,422.6 L491.0,423.1 L490.5,423.6 L490.0,424.1 L489.4,424.6 L488.9,425.1 L488.4,425.6 L488.0,426.1 L487.5,426.6 L487.1,427.1 L486.6,427.6 L486.2,428.1 L485.9,428.6 L485.5,429.1 L485.2,429.5 L484.9,430.0 L484.7,430.5 L484.4,431.0 L484.2,431.4 L484.1,431.9 L484.0,432.4 L483.9,432.8 L483.8,433.3 L483.8,433.8 L483.8,434.2 L483.9,434.6 L484.0,435.1 L484.1,435.5 L484.2,436.0 L484.4,436.4 L484.7,436.8 L484.9,437.3 L485.2,437.7 L485.5,438.1 L485.9,438.5 L486.3,439.0 L486.7,439.4 L487.2,439.8 L487.6,440.2 L488.1,440.6 L488.7,441.0 L489.2,441.4 L489.8,441.8 L490.3,442.2 L490.9,442.6 L491.5,443.0 L492.2,443.4 L492.8,443.8 L493.4,444.2 L494.1,444.6 L494.7,445.0 L495.4,445.3 L496.0,445.7 L496.7,446.1 L497.3,446.5 L498.0,446.8 L498.6,447.2 L499.2,447.5 L499.8,447.9 L500.4,448.2 L500.9,448.6 L501.5,448.9 L502.0,449.2 L502.5,449.6 L503.0,449.9 L503.4,450.2 L503.8,450.5 L504.2,450.8 L504.6,451.1 L504.9,451.3 L505.2,451.6 L505.5,451.9 L505.7,452.1 L505.9,452.4 L506.0,452.6 L506.1,452.8 L506.2,453.0 L506.2,453.2 L506.2,453.4 L506.1,453.6 L506.0,453.7 L505.9,453.9 L505.7,454.0 L505.5,454.2 L505.3,454.3 L505.0,454.4 L504.7,454.5 L504.3,454.6 L503.9,454.6 L503.5,454.7 L503.0,454.7 L502.5,454.8 L502.0,454.8 L501.4,454.8 L500.9,454.8 L500.3,454.8 L499.6,454.8 L499.0,454.8 L498.3,454.8 L497.6,454.8 L496.9,454.8 L496.2,454.7 L495.4,454.7 L494.7,454.6 L493.9,454.6 L493.1,454.5 L492.4,454.5 L491.6,454.4 L490.8,454.4 L490.0,454.4 L489.2,454.3 L488.5,454.3 L487.7,454.2 L486.9,454.2 L486.2,454.2 L485.5,454.2 L484.7,454.2 L484.0,454.2 L483.3,454.2 L482.7,454.2 L482.0,454.3 L481.4,454.3 L480.8,454.4 L480.2,454.5 L479.6,454.6 L479.1,454.7 L478.6,454.9 L478.1,455.0 L477.6,455.2 L477.2,455.4 L476.8,455.6 L476.4,455.8 L476.0,456.1 L475.7,456.4 L475.4,456.7 L475.2,457.0 L474.9,457.3 L474.7,457.7 L474.5,458.1 L474.4,458.5 L474.2,458.9 L474.1,459.4 L474.1,459.8 L474.0,460.3 L474.0,460.8 L473.9,461.4 L473.9,461.9 L474.0,462.5 L474.0,463.1 L474.1,463.7 L474.1,464.3 L474.2,464.9 L474.3,465.6 L474.4,466.2 L474.6,466.9 L474.7,467.5 L474.8,468.2 L475.0,468.9 L475.1,469.6 L475.3,470.3 L475.4,471.0 L475.5,471.7 L475.7,472.4 L475.8,473.1 L475.9,473.8 L476.1,474.5 L476.2,475.2 L476.3,475.8 L476.4,476.5 L476.5,477.1 L476.5,477.8 L476.6,478.4 L476.6,479.0 L476.6,479.6 L476.6,480.1 L476.6,480.7 L476.6,481.2 L476.5,481.7 L476.5,482.2 L476.4,482.6 L476.3,483.0 L476.1,483.4 L476.0,483.8 L475.8,484.1 L475.6,484.4 L475.4,484.7 L475.2,484.9 L474.9,485.1 L474.6,485.3 L474.3,485.4 L474.0,485.5 L473.6,485.6 L473.3,485.6 L472.9,485.6 L472.5,485.6 L472.1,485.5 L471.7,485.4 L471.2,485.3 L470.8,485.1 L470.3,484.9 L469.8,484.7 L469.3,484.4 L468.8,484.1 L468.3,483.8 L467.7,483.5 L467.2,483.1 L466.7,482.7 L466.1,482.3 L465.6,481.8 L465.0,481.4 L464.5,480.9 L463.9,480.4 L463.4,479.9 L462.8,479.3 L462.3,478.8 L461.7,478.3 L461.2,477.7 L460.6,477.2 L460.1,476.6 L459.6,476.0 L459.1,475.5 L458.6,474.9 L458.1,474.3 L457.6,473.8 L457.1,473.2 L456.6,472.7 L456.1,472.2 L455.7,471.7 L455.2,471.2 L454.8,470.7 L454.4,470.3 L454.0,469.8 L453.6,469.4 L453.2,469.0 L452.8,468.7 L452.5,468.3 L452.1,468.0 L451.8,467.7 L451.4,467.5 L451.1,467.3 L450.8,467.1 L450.5,466.9 L450.2,466.8 L449.9,466.7 L449.6,466.7 L449.3,466.6 L449.0,466.7 L448.8,466.7 L448.5,466.8 L448.2,466.9 L447.9,467.0 L447.7,467.2 L447.4,467.4 L447.1,467.7 L446.9,468.0 L446.6,468.3 L446.3,468.6 L446.0,469.0 L445.8,469.3 L445.5,469.8 L445.2,470.2 L444.9,470.7 L444.6,471.1 L444.2,471.6 L443.9,472.2 L443.6,472.7 L443.2,473.2 L442.9,473.8 L442.5,474.4 L442.1,474.9 L441.7,475.5 L441.3,476.1 L440.9,476.7 L440.5,477.3 L440.1,477.9 L439.6,478.4 L439.2,479.0 L438.7,479.6 L438.2,480.1 L437.7,480.7 L437.2,481.2 L436.7,481.7 L436.2,482.2 L435.7,482.6 L435.1,483.1 L434.6,483.5 L434.0,483.9 L433.5,484.3 L432.9,484.6 L432.4,484.9 L431.8,485.2 L431.3,485.5 L430.7,485.7 L430.1,485.9 L429.6,486.0 L429.0,486.1 L428.5,486.2 L427.9,486.2 L427.4,486.2 L426.8,486.2 L426.3,486.1 L425.8,486.0 L425.3,485.8 L424.8,485.6 L424.3,485.4 L423.8,485.1 L423.4,484.8 L422.9,484.5 L422.5,484.1 L422.1,483.7 L421.7,483.3 L421.3,482.8 L421.0,482.3 L420.6,481.8 L420.3,481.2 L420.0,480.6 L419.8,480.0 L419.5,479.4 L419.3,478.7 L419.1,478.1 L418.9,477.4 L418.8,476.7 L418.6,476.0 L418.5,475.2 L418.4,474.5 L418.3,473.7 L418.3,473.0 L418.3,472.2 L418.2,471.5 L418.2,470.7 L418.3,469.9 L418.3,469.2 L418.4,468.4 L418.4,467.7 L418.5,466.9 L418.6,466.2 L418.7,465.5 L418.9,464.8 L419.0,464.1 L419.1,463.5 L419.3,462.8 L419.5,462.2 L419.6,461.6 L419.8,461.0 L419.9,460.5 L420.1,460.0 L420.3,459.5 L420.4,459.0 L420.6,458.5 L420.7,458.1 L420.8,457.7 L421.0,457.4 L421.1,457.0 L421.2,456.7 L421.2,456.4 L421.3,456.2 L421.4,456.0 L421.4,455.8 L421.4,455.6 L421.4,455.5 L421.4,455.4 L421.3,455.3 L421.2,455.3 L421.1,455.2 L421.0,455.2 L420.9,455.3 L420.7,455.3 L420.5,455.4 L420.2,455.4 L420.0,455.5 L419.7,455.6 L419.4,455.8 L419.0,455.9 L418.6,456.1 L418.2,456.2 L417.8,456.4 L417.3,456.6 L416.8,456.7 L416.3,456.9 L415.8,457.1 L415.2,457.3 L414.6,457.5 L414.0,457.7 L413.3,457.8 L412.7,458.0 L412.0,458.1 L411.3,458.3 L410.6,458.4 L409.9,458.5 L409.1,458.6 L408.4,458.7 L407.6,458.8 L406.9,458.9 L406.1,458.9 L405.3,458.9 L404.5,458.9 L403.8,458.9 L403.0,458.8 L402.2,458.7 L401.4,458.6 L400.7,458.5 L399.9,458.3 L399.2,458.2 L398.5,457.9 L397.8,457.7 L397.1,457.5 L396.4,457.2 L395.7,456.9 L395.1,456.5 L394.5,456.2 L393.9,455.8 L393.4,455.4 L392.9,454.9 L392.4,454.5 L392.0,454.0 L391.5,453.5 L391.1,453.0 L390.8,452.5 L390.5,451.9 L390.2,451.3 L390.0,450.8 L389.8,450.2 L389.6,449.6 L389.5,448.9 L389.4,448.3 L389.4,447.7 L389.4,447.0 L389.4,446.4 L389.5,445.7 L389.6,445.1 L389.8,444.4 L390.0,443.8 L390.2,443.1 L390.5,442.5 L390.8,441.8 L391.1,441.2 L391.5,440.6 L391.9,439.9 L392.4,439.3 L392.8,438.7 L393.3,438.2 L393.8,437.6 L394.4,437.0 L394.9,436.5 L395.5,436.0 L396.1,435.5 L396.7,435.0 L397.3,434.5 L398.0,434.1 L398.6,433.7 L399.3,433.3 L399.9,432.9 L400.6,432.5 L401.2,432.2 L401.9,431.9 L402.6,431.6 L403.2,431.3 L403.8,431.1 L404.5,430.8 L405.1,430.6 L405.7,430.4 L406.3,430.2 L406.8,430.1 L407.4,430.0 L407.9,429.8 L408.4,429.7 L408.9,429.6 L409.4,429.5 L409.8,429.5 L410.2,429.4 L410.5,429.4 L410.9,429.3 L411.2,429.3 L411.4,429.3 L411.7,429.3 L411.9,429.2 L412.0,429.2 L412.1,429.2 L412.2,429.2 L412.3,429.2 L412.3,429.2 L412.3,429.1 L412.2,429.1 L412.2,429.0 L412.0,429.0 L411.9,428.9 L411.7,428.9 L411.5,428.8 L411.2,428.7 L410.9,428.5 L410.6,428.4 L410.3,428.3 L409.9,428.1 L409.5,427.9 L409.1,427.7 L408.7,427.5 L408.2,427.2 L407.8,426.9 L407.3,426.6 L406.8,426.3 L406.3,426.0 L405.8,425.6 L405.2,425.2 L404.7,424.8 L404.2,424.4 L403.6,424.0 L403.1,423.5 L402.5,423.0 L402.0,422.5 L401.5,421.9 L401.0,421.4 L400.5,420.8 L400.0,420.2 L399.5,419.6 L399.0,419.0 L398.6,418.4 L398.2,417.7 L397.8,417.1 L397.4,416.4 L397.1,415.7 L396.7,415.0 L396.4,414.4 L396.2,413.7 L395.9,413.0 L395.7,412.3 L395.6,411.6 L395.4,410.9 L395.3,410.2 L395.3,409.5 L395.2,408.8 L395.2,408.2 L395.3,407.5 L395.3,406.9 L395.5,406.2 L395.6,405.6 L395.8,405.0 L396.0,404.4 L396.3,403.9 L396.5,403.3 L396.9,402.8 L397.2,402.3 L397.6,401.8 L398.0,401.4 L398.5,400.9 L399.0,400.5 L399.5,400.2 L400.0,399.8 L400.6,399.5 L401.2,399.2 L401.8,399.0 L402.4,398.8 L403.1,398.6 L403.7,398.4 L404.4,398.3 L405.1,398.2 L405.8,398.1 L406.6,398.1 L407.3,398.0 L408.0,398.1 L408.8,398.1 L409.5,398.2 L410.3,398.3 L411.0,398.4 L411.8,398.5 L412.6,398.7 L413.3,398.9 L414.0,399.1 L414.8,399.3 L415.5,399.5 L416.2,399.8 L416.9,400.0 L417.6,400.3 L418.3,400.6 L418.9,400.9 L419.6,401.2 L420.2,401.5 L420.8,401.8 L421.4,402.2 L422.0,402.5 L422.5,402.8 L423.0,403.1 L423.5,403.4 L424.0,403.7 L424.5,404.0 L424.9,404.2 L425.3,404.5 L425.7,404.7 L426.0,404.9 L426.4,405.1 L426.7,405.3 L427.0,405.5 L427.2,405.6 L427.5,405.7 L427.7,405.8 L427.9,405.9 L428.1,405.9 L428.3,405.9 L428.4,405.9 L428.6,405.9 L428.7,405.8 L428.8,405.7 L428.9,405.5 L429.0,405.3 L429.0,405.1 L429.1,404.9 L429.1,404.6 L429.2,404.3 L429.2,404.0 L429.2,403.6 L429.2,403.2 L429.3,402.8 L429.3,402.3 L429.3,401.8 L429.3,401.3 L429.3,400.8 L429.4,400.2 L429.4,399.6 L429.4,399.0 L429.5,398.4 L429.5,397.7 L429.6,397.1 L429.6,396.4 L429.7,395.7 L429.8,395.0 L429.9,394.2 L430.0,393.5 L430.1,392.8 L430.2,392.0 L430.4,391.3 L430.5,390.5 L430.7,389.8 L430.9,389.1 L431.1,388.3 L431.4,387.6 L431.6,386.9 L431.8,386.2 L432.1,385.5 L432.4,384.8 L432.7,384.2 L433.0,383.5 L433.4,382.9 L433.7,382.3 L434.1,381.8 L434.4,381.2 L434.8,380.7 L435.2,380.2 L435.6,379.8 L436.0,379.4 L436.5,379.0 L436.9,378.6 L437.3,378.3 L437.8,378.0 L438.2,377.8 L438.7,377.6 L439.2,377.4 L439.6,377.3 L440.1,377.2 L440.6,377.2 L441.1,377.2 L441.5,377.2 L442.0,377.3 L442.5,377.4 L442.9,377.5 L443.4,377.7 L443.9,377.9 L444.3,378.2 L444.8,378.5 L445.2,378.8 L445.7,379.2 L446.1,379.5 L446.5,380.0 L446.9,380.4 L447.3,380.9 L447.7,381.4 L448.1,381.9 L448.5,382.5 L448.8,383.0 L449.2,383.6 L449.5,384.2 L449.9,384.8 L450.2,385.5 L450.5,386.1 L450.8,386.8 L451.1,387.4 L451.4,388.1 L451.7,388.7 L451.9,389.4 L452.2,390.1 L452.4,390.7 L452.7,391.4 L452.9,392.0 L453.2,392.7 L453.4,393.3 L453.6,393.9 L453.8,394.5 L454.0,395.1 L454.3,395.7 L454.5,396.2 L454.7,396.7 L454.9,397.2 L455.1,397.7 L455.3,398.1 L455.6,398.6 L455.8,399.0 L456.0,399.3 L456.3,399.7 L456.5,400.0 L456.8,400.2 L457.1,400.5 L457.3,400.7 L457.6,400.9 L457.9,401.0 L458.2,401.2 L458.5,401.2 L458.9,401.3 L459.2,401.3 L459.6,401.3" fill="none" stroke="#c0743a" stroke-width="1.1"/>
<g filter="url(#hblur)">
<circle cx="437.9" cy="395.3" r="1.05" fill="#6e5c4b"/>
<circle cx="439.8" cy="395.4" r="1.05" fill="#817465"/>
<circle cx="442.1" cy="395.4" r="1.05" fill="#817465"/>
<circle cx="438.3" cy="398.1" r="1.05" fill="#817465"/>
<circle cx="439.6" cy="398.3" r="1.05" fill="#6e5c4b"/>
<circle cx="442.0" cy="398.3" r="1.05" fill="#817465"/>
<circle cx="443.4" cy="398.4" r="1.05" fill="#817465"/>
<circle cx="439.5" cy="401.1" r="1.05" fill="#817465"/>
<circle cx="441.7" cy="401.1" r="1.05" fill="#6e5c4b"/>
<circle cx="443.7" cy="401.2" r="1.05" fill="#6e5c4b"/>
<circle cx="439.6" cy="403.9" r="1.05" fill="#817465"/>
<circle cx="441.4" cy="404.0" r="1.05" fill="#817465"/>
<circle cx="443.8" cy="404.0" r="1.05" fill="#817465"/>
<circle cx="440.0" cy="406.6" r="1.05" fill="#817465"/>
<circle cx="441.2" cy="406.8" r="1.05" fill="#817465"/>
<circle cx="443.6" cy="406.8" r="1.05" fill="#6e5c4b"/>
<circle cx="445.1" cy="406.9" r="1.05" fill="#817465"/>
<circle cx="441.1" cy="409.6" r="1.05" fill="#817465"/>
<circle cx="443.3" cy="409.6" r="1.05" fill="#817465"/>
<circle cx="445.4" cy="409.7" r="1.05" fill="#6e5c4b"/>
<circle cx="441.2" cy="412.4" r="1.05" fill="#817465"/>
<circle cx="443.0" cy="412.5" r="1.05" fill="#817465"/>
<circle cx="445.4" cy="412.5" r="1.05" fill="#817465"/>
<circle cx="442.8" cy="415.3" r="1.05" fill="#817465"/>
<circle cx="445.2" cy="415.3" r="1.05" fill="#6e5c4b"/>
<circle cx="446.8" cy="415.5" r="1.05" fill="#6e5c4b"/>
<circle cx="442.7" cy="418.1" r="1.05" fill="#817465"/>
<circle cx="444.9" cy="418.2" r="1.05" fill="#6e5c4b"/>
<circle cx="447.0" cy="418.2" r="1.05" fill="#817465"/>
<circle cx="442.9" cy="420.9" r="1.05" fill="#817465"/>
<circle cx="444.6" cy="421.0" r="1.05" fill="#817465"/>
<circle cx="447.0" cy="421.0" r="1.05" fill="#817465"/>
<circle cx="444.4" cy="423.9" r="1.05" fill="#817465"/>
<circle cx="446.8" cy="423.8" r="1.05" fill="#817465"/>
<circle cx="440.0" cy="394.0" r="1.05" fill="#fff2d3"/>
<circle cx="438.0" cy="394.9" r="1.05" fill="#efd6ba"/>
<circle cx="442.8" cy="395.8" r="1.05" fill="#d9c2a9"/>
<circle cx="441.4" cy="396.5" r="1.05" fill="#ffeed0"/>
<circle cx="439.2" cy="397.4" r="1.05" fill="#ffe6c8"/>
<circle cx="442.6" cy="399.1" r="1.05" fill="#ffe3c6"/>
<circle cx="440.5" cy="400.0" r="1.05" fill="#e4c09c"/>
<circle cx="438.9" cy="400.7" r="1.05" fill="#dcc5ab"/>
<circle cx="443.7" cy="401.6" r="1.05" fill="#ecd3b8"/>
<circle cx="441.8" cy="402.5" r="1.05" fill="#fff2d3"/>
<circle cx="439.8" cy="403.4" r="1.05" fill="#f2d8bd"/>
<circle cx="444.6" cy="404.3" r="1.05" fill="#d5bea6"/>
<circle cx="443.2" cy="405.0" r="1.05" fill="#ffedcf"/>
<circle cx="441.0" cy="405.9" r="1.05" fill="#ffe7ca"/>
<circle cx="444.4" cy="407.5" r="1.05" fill="#fce1c4"/>
<circle cx="442.3" cy="408.4" r="1.05" fill="#fff0d1"/>
<circle cx="440.6" cy="409.2" r="1.05" fill="#e0c8ae"/>
<circle cx="445.5" cy="410.1" r="1.05" fill="#c6a688"/>
<circle cx="443.7" cy="411.0" r="1.05" fill="#e6c29e"/>
<circle cx="441.6" cy="411.8" r="1.05" fill="#d1af8f"/>
<circle cx="446.3" cy="412.8" r="1.05" fill="#d1bba3"/>
<circle cx="445.0" cy="413.5" r="1.05" fill="#e1bd9a"/>
<circle cx="442.8" cy="414.4" r="1.05" fill="#ffe9cb"/>
<circle cx="441.7" cy="415.1" r="1.05" fill="#ad9177"/>
<circle cx="446.2" cy="416.0" r="1.05" fill="#fadfc2"/>
<circle cx="444.1" cy="416.9" r="1.05" fill="#fff1d2"/>
<circle cx="442.4" cy="417.7" r="1.05" fill="#c1a285"/>
<circle cx="447.2" cy="418.6" r="1.05" fill="#e5cdb3"/>
<circle cx="445.5" cy="419.4" r="1.05" fill="#fff1d2"/>
<circle cx="443.4" cy="420.3" r="1.05" fill="#d3b191"/>
<circle cx="448.0" cy="421.3" r="1.05" fill="#af9378"/>
<circle cx="446.8" cy="422.0" r="1.05" fill="#dfbc99"/>
<circle cx="444.6" cy="422.9" r="1.05" fill="#ffebcd"/>
<circle cx="443.4" cy="423.6" r="1.05" fill="#cfb9a1"/>
<circle cx="430.0" cy="401.4" r="1.05" fill="#817465"/>
<circle cx="431.9" cy="401.4" r="1.05" fill="#817465"/>
<circle cx="434.2" cy="401.4" r="1.05" fill="#817465"/>
<circle cx="430.4" cy="404.2" r="1.05" fill="#817465"/>
<circle cx="431.9" cy="404.3" r="1.05" fill="#817465"/>
<circle cx="434.3" cy="404.2" r="1.05" fill="#817465"/>
<circle cx="435.6" cy="404.3" r="1.05" fill="#817465"/>
<circle cx="431.9" cy="407.1" r="1.05" fill="#6e5c4b"/>
<circle cx="434.2" cy="407.0" r="1.05" fill="#817465"/>
<circle cx="436.1" cy="407.1" r="1.05" fill="#817465"/>
<circle cx="432.1" cy="409.9" r="1.05" fill="#6e5c4b"/>
<circle cx="434.1" cy="409.9" r="1.05" fill="#817465"/>
<circle cx="436.3" cy="409.8" r="1.05" fill="#817465"/>
<circle cx="432.5" cy="412.6" r="1.05" fill="#817465"/>
<circle cx="434.0" cy="412.7" r="1.05" fill="#817465"/>
<circle cx="436.4" cy="412.6" r="1.05" fill="#817465"/>
<circle cx="434.0" cy="415.6" r="1.05" fill="#6e5c4b"/>
<circle cx="436.4" cy="415.5" r="1.05" fill="#817465"/>
<circle cx="438.2" cy="415.5" r="1.05" fill="#817465"/>
<circle cx="434.2" cy="418.4" r="1.05" fill="#6e5c4b"/>
<circle cx="436.3" cy="418.3" r="1.05" fill="#6e5c4b"/>
<circle cx="438.5" cy="418.3" r="1.05" fill="#817465"/>
<circle cx="434.5" cy="421.1" r="1.05" fill="#817465"/>
<circle cx="436.2" cy="421.2" r="1.05" fill="#6e5c4b"/>
<circle cx="432.0" cy="400.0" r="1.05" fill="#e7c29e"/>
<circle cx="430.1" cy="400.9" r="1.05" fill="#efd5ba"/>
<circle cx="434.9" cy="401.7" r="1.05" fill="#ba9c80"/>
<circle cx="433.4" cy="402.5" r="1.05" fill="#ffefd0"/>
<circle cx="431.2" cy="403.5" r="1.05" fill="#ffe4c7"/>
<circle cx="434.7" cy="405.0" r="1.05" fill="#dbb896"/>
<circle cx="432.5" cy="406.0" r="1.05" fill="#e3be9b"/>
<circle cx="431.1" cy="406.8" r="1.05" fill="#d7c0a7"/>
<circle cx="435.9" cy="407.6" r="1.05" fill="#cead8d"/>
<circle cx="433.9" cy="408.5" r="1.05" fill="#fff2d3"/>
<circle cx="432.0" cy="409.4" r="1.05" fill="#ebd2b7"/>
<circle cx="436.9" cy="410.2" r="1.05" fill="#bd9f82"/>
<circle cx="435.3" cy="411.0" r="1.05" fill="#fff0d1"/>
<circle cx="433.1" cy="412.0" r="1.05" fill="#fce2c5"/>
<circle cx="437.6" cy="412.8" r="1.05" fill="#c9b39c"/>
<circle cx="436.6" cy="413.5" r="1.05" fill="#ffe8ca"/>
<circle cx="434.4" cy="414.5" r="1.05" fill="#ffecce"/>
<circle cx="433.1" cy="415.3" r="1.05" fill="#d3bca4"/>
<circle cx="437.8" cy="416.1" r="1.05" fill="#d1af8f"/>
<circle cx="435.8" cy="417.0" r="1.05" fill="#fff2d3"/>
<circle cx="434.0" cy="417.9" r="1.05" fill="#e8cfb4"/>
<circle cx="438.8" cy="418.7" r="1.05" fill="#e2cab0"/>
<circle cx="437.2" cy="419.5" r="1.05" fill="#e5c19d"/>
<circle cx="435.0" cy="420.5" r="1.05" fill="#d4b392"/>
<circle cx="445.0" cy="398.4" r="1.05" fill="#817465"/>
<circle cx="446.9" cy="398.4" r="1.05" fill="#817465"/>
<circle cx="449.2" cy="398.4" r="1.05" fill="#817465"/>
<circle cx="445.4" cy="401.2" r="1.05" fill="#817465"/>
<circle cx="446.9" cy="401.3" r="1.05" fill="#54545c"/>
<circle cx="449.3" cy="401.2" r="1.05" fill="#817465"/>
<circle cx="450.6" cy="401.3" r="1.05" fill="#817465"/>
<circle cx="446.9" cy="404.1" r="1.05" fill="#817465"/>
<circle cx="449.2" cy="404.0" r="1.05" fill="#817465"/>
<circle cx="451.1" cy="404.1" r="1.05" fill="#54545c"/>
<circle cx="447.1" cy="406.9" r="1.05" fill="#817465"/>
<circle cx="449.1" cy="406.9" r="1.05" fill="#817465"/>
<circle cx="451.3" cy="406.8" r="1.05" fill="#817465"/>
<circle cx="447.5" cy="409.6" r="1.05" fill="#817465"/>
<circle cx="449.0" cy="409.7" r="1.05" fill="#817465"/>
<circle cx="451.4" cy="409.6" r="1.05" fill="#817465"/>
<circle cx="449.0" cy="412.6" r="1.05" fill="#817465"/>
<circle cx="451.4" cy="412.5" r="1.05" fill="#817465"/>
<circle cx="453.2" cy="412.5" r="1.05" fill="#817465"/>
<circle cx="449.2" cy="415.4" r="1.05" fill="#54545c"/>
<circle cx="451.3" cy="415.3" r="1.05" fill="#54545c"/>
<circle cx="453.5" cy="415.3" r="1.05" fill="#817465"/>
<circle cx="449.5" cy="418.1" r="1.05" fill="#817465"/>
<circle cx="451.2" cy="418.2" r="1.05" fill="#54545c"/>
<circle cx="447.0" cy="397.0" r="1.05" fill="#b1b1c1"/>
<circle cx="445.1" cy="397.9" r="1.05" fill="#efd5ba"/>
<circle cx="449.9" cy="398.7" r="1.05" fill="#8e8e9b"/>
<circle cx="448.4" cy="399.5" r="1.05" fill="#ffefd0"/>
<circle cx="446.2" cy="400.5" r="1.05" fill="#a6a6b5"/>
<circle cx="449.7" cy="402.0" r="1.05" fill="#ffe6c9"/>
<circle cx="447.5" cy="403.0" r="1.05" fill="#adadbd"/>
<circle cx="446.1" cy="403.8" r="1.05" fill="#d7c0a7"/>
<circle cx="450.9" cy="404.6" r="1.05" fill="#f2d8bd"/>
<circle cx="448.9" cy="405.5" r="1.05" fill="#fff2d3"/>
<circle cx="447.0" cy="406.4" r="1.05" fill="#9999a7"/>
<circle cx="451.9" cy="407.2" r="1.05" fill="#dec7ad"/>
<circle cx="450.3" cy="408.0" r="1.05" fill="#fff0d1"/>
<circle cx="448.1" cy="409.0" r="1.05" fill="#fce2c5"/>
<circle cx="452.6" cy="409.8" r="1.05" fill="#c9b39c"/>
<circle cx="451.6" cy="410.5" r="1.05" fill="#a9a9b9"/>
<circle cx="449.4" cy="411.5" r="1.05" fill="#acacbc"/>
<circle cx="448.1" cy="412.3" r="1.05" fill="#d3bca4"/>
<circle cx="452.8" cy="413.1" r="1.05" fill="#f5dbbf"/>
<circle cx="450.8" cy="414.0" r="1.05" fill="#fff2d3"/>
<circle cx="449.0" cy="414.9" r="1.05" fill="#9797a5"/>
<circle cx="453.8" cy="415.7" r="1.05" fill="#e2cab0"/>
<circle cx="452.2" cy="416.5" r="1.05" fill="#fff1d2"/>
<circle cx="450.0" cy="417.5" r="1.05" fill="#a3a3b1"/>
<circle cx="426.4" cy="416.4" r="1.05" fill="#6e5c4b"/>
<circle cx="427.2" cy="414.7" r="1.05" fill="#6e5c4b"/>
<circle cx="428.1" cy="412.6" r="1.05" fill="#6e5c4b"/>
<circle cx="429.1" cy="417.2" r="1.05" fill="#817465"/>
<circle cx="429.7" cy="416.2" r="1.05" fill="#817465"/>
<circle cx="430.6" cy="413.9" r="1.05" fill="#6e5c4b"/>
<circle cx="431.4" cy="412.6" r="1.05" fill="#6e5c4b"/>
<circle cx="432.3" cy="417.4" r="1.05" fill="#817465"/>
<circle cx="433.1" cy="415.4" r="1.05" fill="#817465"/>
<circle cx="434.0" cy="413.5" r="1.05" fill="#817465"/>
<circle cx="434.8" cy="418.3" r="1.05" fill="#817465"/>
<circle cx="435.6" cy="416.9" r="1.05" fill="#6e5c4b"/>
<circle cx="436.5" cy="414.7" r="1.05" fill="#6e5c4b"/>
<circle cx="438.1" cy="418.2" r="1.05" fill="#817465"/>
<circle cx="439.0" cy="416.1" r="1.05" fill="#6e5c4b"/>
<circle cx="439.8" cy="414.4" r="1.05" fill="#817465"/>
<circle cx="440.7" cy="419.3" r="1.05" fill="#817465"/>
<circle cx="441.5" cy="417.6" r="1.05" fill="#817465"/>
<circle cx="442.4" cy="415.5" r="1.05" fill="#817465"/>
<circle cx="443.3" cy="420.1" r="1.05" fill="#817465"/>
<circle cx="444.0" cy="419.0" r="1.05" fill="#817465"/>
<circle cx="444.9" cy="416.8" r="1.05" fill="#817465"/>
<circle cx="445.6" cy="415.5" r="1.05" fill="#817465"/>
<circle cx="446.5" cy="420.2" r="1.05" fill="#817465"/>
<circle cx="447.4" cy="418.2" r="1.05" fill="#817465"/>
<circle cx="448.2" cy="416.3" r="1.05" fill="#6e5c4b"/>
<circle cx="449.1" cy="421.2" r="1.05" fill="#817465"/>
<circle cx="449.8" cy="419.7" r="1.05" fill="#6e5c4b"/>
<circle cx="450.7" cy="417.5" r="1.05" fill="#6e5c4b"/>
<circle cx="452.3" cy="421.1" r="1.05" fill="#817465"/>
<circle cx="453.2" cy="418.9" r="1.05" fill="#817465"/>
<circle cx="454.0" cy="417.3" r="1.05" fill="#6e5c4b"/>
<circle cx="454.9" cy="422.2" r="1.05" fill="#817465"/>
<circle cx="455.7" cy="420.4" r="1.05" fill="#817465"/>
<circle cx="456.6" cy="418.3" r="1.05" fill="#817465"/>
<circle cx="457.5" cy="423.0" r="1.05" fill="#817465"/>
<circle cx="458.2" cy="421.8" r="1.05" fill="#817465"/>
<circle cx="459.1" cy="419.6" r="1.05" fill="#817465"/>
<circle cx="459.8" cy="418.4" r="1.05" fill="#6e5c4b"/>
<circle cx="460.7" cy="423.1" r="1.05" fill="#817465"/>
<circle cx="461.6" cy="421.1" r="1.05" fill="#6e5c4b"/>
<circle cx="462.4" cy="419.2" r="1.05" fill="#817465"/>
<circle cx="463.3" cy="424.1" r="1.05" fill="#6e5c4b"/>
<circle cx="464.1" cy="422.5" r="1.05" fill="#817465"/>
<circle cx="465.0" cy="420.4" r="1.05" fill="#817465"/>
<circle cx="466.6" cy="423.9" r="1.05" fill="#817465"/>
<circle cx="467.5" cy="421.7" r="1.05" fill="#817465"/>
<circle cx="468.3" cy="420.2" r="1.05" fill="#817465"/>
<circle cx="469.1" cy="425.1" r="1.05" fill="#6e5c4b"/>
<circle cx="470.0" cy="423.2" r="1.05" fill="#6e5c4b"/>
<circle cx="426.0" cy="414.0" r="1.05" fill="#fff2d3"/>
<circle cx="426.0" cy="416.1" r="1.05" fill="#efd6bb"/>
<circle cx="428.7" cy="412.1" r="1.05" fill="#b6997d"/>
<circle cx="428.9" cy="413.6" r="1.05" fill="#e2be9b"/>
<circle cx="428.8" cy="416.0" r="1.05" fill="#dcb997"/>
<circle cx="431.7" cy="413.4" r="1.05" fill="#fbe0c3"/>
<circle cx="431.7" cy="415.7" r="1.05" fill="#e5c19d"/>
<circle cx="431.8" cy="417.6" r="1.05" fill="#c1a284"/>
<circle cx="434.5" cy="413.4" r="1.05" fill="#e5ccb2"/>
<circle cx="434.5" cy="415.3" r="1.05" fill="#fff1d2"/>
<circle cx="434.5" cy="417.6" r="1.05" fill="#f9dfc2"/>
<circle cx="437.2" cy="413.7" r="1.05" fill="#ac9176"/>
<circle cx="437.4" cy="415.0" r="1.05" fill="#ffe8cb"/>
<circle cx="437.4" cy="417.4" r="1.05" fill="#e1bd9b"/>
<circle cx="437.5" cy="418.9" r="1.05" fill="#d4bda5"/>
<circle cx="440.2" cy="414.8" r="1.05" fill="#cead8d"/>
<circle cx="440.2" cy="417.0" r="1.05" fill="#fff2d3"/>
<circle cx="440.2" cy="419.1" r="1.05" fill="#edd4b9"/>
<circle cx="442.9" cy="415.0" r="1.05" fill="#d9c2a9"/>
<circle cx="443.1" cy="416.6" r="1.05" fill="#ffeed0"/>
<circle cx="443.0" cy="419.0" r="1.05" fill="#dbb896"/>
<circle cx="445.9" cy="416.4" r="1.05" fill="#fde2c5"/>
<circle cx="445.9" cy="418.7" r="1.05" fill="#fff0d1"/>
<circle cx="446.0" cy="420.5" r="1.05" fill="#bea083"/>
<circle cx="448.7" cy="416.3" r="1.05" fill="#e7ceb4"/>
<circle cx="448.7" cy="418.3" r="1.05" fill="#fff2d3"/>
<circle cx="448.7" cy="420.6" r="1.05" fill="#f7ddc1"/>
<circle cx="451.4" cy="416.6" r="1.05" fill="#ae9277"/>
<circle cx="451.6" cy="418.0" r="1.05" fill="#ffeacc"/>
<circle cx="451.6" cy="420.4" r="1.05" fill="#ffeccd"/>
<circle cx="451.7" cy="421.8" r="1.05" fill="#d1bba3"/>
<circle cx="454.4" cy="417.8" r="1.05" fill="#cfae8e"/>
<circle cx="454.4" cy="420.0" r="1.05" fill="#e6c29e"/>
<circle cx="454.5" cy="422.0" r="1.05" fill="#c8a889"/>
<circle cx="457.1" cy="417.9" r="1.05" fill="#dbc4ab"/>
<circle cx="457.3" cy="419.6" r="1.05" fill="#ffefd0"/>
<circle cx="457.2" cy="422.0" r="1.05" fill="#ffe4c7"/>
<circle cx="460.1" cy="419.3" r="1.05" fill="#d8b694"/>
<circle cx="460.1" cy="421.7" r="1.05" fill="#fff0d1"/>
<circle cx="460.2" cy="423.4" r="1.05" fill="#ddc6ac"/>
<circle cx="462.9" cy="419.3" r="1.05" fill="#c6a788"/>
<circle cx="462.9" cy="421.3" r="1.05" fill="#fff2d3"/>
<circle cx="462.9" cy="423.5" r="1.05" fill="#f5dbbf"/>
<circle cx="465.6" cy="419.6" r="1.05" fill="#cfb9a1"/>
<circle cx="465.8" cy="420.9" r="1.05" fill="#ffebcd"/>
<circle cx="465.8" cy="423.3" r="1.05" fill="#dfbc99"/>
<circle cx="465.9" cy="424.7" r="1.05" fill="#cfb9a1"/>
<circle cx="468.6" cy="420.8" r="1.05" fill="#f6dbbf"/>
<circle cx="468.6" cy="423.0" r="1.05" fill="#fff2d3"/>
<circle cx="468.7" cy="425.0" r="1.05" fill="#e9d0b5"/>
<circle cx="429.6" cy="423.4" r="1.05" fill="#817465"/>
<circle cx="431.0" cy="422.0" r="1.05" fill="#817465"/>
<circle cx="432.5" cy="420.3" r="1.05" fill="#817465"/>
<circle cx="431.9" cy="425.0" r="1.05" fill="#817465"/>
<circle cx="433.0" cy="424.1" r="1.05" fill="#817465"/>
<circle cx="434.6" cy="422.2" r="1.05" fill="#817465"/>
<circle cx="435.6" cy="421.5" r="1.05" fill="#817465"/>
<circle cx="435.0" cy="426.0" r="1.05" fill="#6e5c4b"/>
<circle cx="436.6" cy="424.3" r="1.05" fill="#6e5c4b"/>
<circle cx="437.9" cy="423.0" r="1.05" fill="#817465"/>
<circle cx="437.2" cy="427.8" r="1.05" fill="#817465"/>
<circle cx="438.6" cy="426.3" r="1.05" fill="#817465"/>
<circle cx="440.1" cy="424.7" r="1.05" fill="#6e5c4b"/>
<circle cx="439.4" cy="429.5" r="1.05" fill="#6e5c4b"/>
<circle cx="440.6" cy="428.4" r="1.05" fill="#6e5c4b"/>
<circle cx="442.2" cy="426.6" r="1.05" fill="#817465"/>
<circle cx="442.6" cy="430.3" r="1.05" fill="#817465"/>
<circle cx="444.3" cy="428.6" r="1.05" fill="#6e5c4b"/>
<circle cx="445.5" cy="427.4" r="1.05" fill="#817465"/>
<circle cx="430.0" cy="421.0" r="1.05" fill="#fff2d3"/>
<circle cx="429.3" cy="423.0" r="1.05" fill="#efd5ba"/>
<circle cx="433.2" cy="420.1" r="1.05" fill="#dbc4ab"/>
<circle cx="432.7" cy="421.8" r="1.05" fill="#e4c09c"/>
<circle cx="431.9" cy="424.0" r="1.05" fill="#fee3c6"/>
<circle cx="435.5" cy="422.6" r="1.05" fill="#ffe7ca"/>
<circle cx="434.6" cy="424.9" r="1.05" fill="#e2be9b"/>
<circle cx="434.3" cy="426.4" r="1.05" fill="#d4bea5"/>
<circle cx="438.1" cy="423.6" r="1.05" fill="#d0af8f"/>
<circle cx="437.4" cy="425.7" r="1.05" fill="#e6c29e"/>
<circle cx="436.7" cy="427.6" r="1.05" fill="#e8d0b5"/>
<circle cx="440.7" cy="424.7" r="1.05" fill="#e2cab0"/>
<circle cx="440.1" cy="426.5" r="1.05" fill="#fff1d2"/>
<circle cx="439.3" cy="428.7" r="1.05" fill="#d4b392"/>
<circle cx="443.1" cy="426.0" r="1.05" fill="#cdb8a0"/>
<circle cx="442.9" cy="427.3" r="1.05" fill="#ffeacc"/>
<circle cx="442.0" cy="429.6" r="1.05" fill="#dfbc99"/>
<circle cx="441.7" cy="431.0" r="1.05" fill="#af9378"/>
<circle cx="445.5" cy="428.2" r="1.05" fill="#d5b392"/>
<circle cx="444.7" cy="430.4" r="1.05" fill="#e5c19d"/>
<circle cx="433.6" cy="403.8" r="1.05" fill="#6e5c4b"/>
<circle cx="435.1" cy="405.1" r="1.05" fill="#817465"/>
<circle cx="436.9" cy="406.5" r="1.05" fill="#6e5c4b"/>
<circle cx="432.1" cy="406.2" r="1.05" fill="#817465"/>
<circle cx="433.3" cy="407.3" r="1.05" fill="#817465"/>
<circle cx="435.2" cy="408.8" r="1.05" fill="#6e5c4b"/>
<circle cx="431.5" cy="409.5" r="1.05" fill="#6e5c4b"/>
<circle cx="433.4" cy="411.0" r="1.05" fill="#817465"/>
<circle cx="434.7" cy="412.1" r="1.05" fill="#817465"/>
<circle cx="429.8" cy="411.8" r="1.05" fill="#817465"/>
<circle cx="431.6" cy="413.2" r="1.05" fill="#6e5c4b"/>
<circle cx="433.2" cy="414.5" r="1.05" fill="#6e5c4b"/>
<circle cx="428.3" cy="414.1" r="1.05" fill="#6e5c4b"/>
<circle cx="429.7" cy="415.4" r="1.05" fill="#817465"/>
<circle cx="431.6" cy="416.8" r="1.05" fill="#817465"/>
<circle cx="436.0" cy="404.0" r="1.05" fill="#e7c29e"/>
<circle cx="433.9" cy="403.5" r="1.05" fill="#eed5ba"/>
<circle cx="437.1" cy="407.1" r="1.05" fill="#bc9e81"/>
<circle cx="435.4" cy="406.8" r="1.05" fill="#fff0d1"/>
<circle cx="433.1" cy="406.1" r="1.05" fill="#fde2c5"/>
<circle cx="436.0" cy="409.7" r="1.05" fill="#cab59e"/>
<circle cx="434.7" cy="409.5" r="1.05" fill="#ffe9cb"/>
<circle cx="432.3" cy="408.9" r="1.05" fill="#e0bc9a"/>
<circle cx="430.9" cy="408.7" r="1.05" fill="#cfb9a2"/>
<circle cx="433.9" cy="412.3" r="1.05" fill="#d4b291"/>
<circle cx="431.6" cy="411.6" r="1.05" fill="#fff1d2"/>
<circle cx="429.8" cy="411.2" r="1.05" fill="#e2cab0"/>
<circle cx="433.0" cy="414.9" r="1.05" fill="#ead1b6"/>
<circle cx="431.0" cy="414.4" r="1.05" fill="#e6c29e"/>
<circle cx="428.8" cy="413.9" r="1.05" fill="#f3d9bd"/>
<circle cx="445.9" cy="400.2" r="1.05" fill="#747479"/>
<circle cx="447.7" cy="399.2" r="1.05" fill="#817465"/>
<circle cx="449.7" cy="398.1" r="1.05" fill="#817465"/>
<circle cx="447.7" cy="402.4" r="1.05" fill="#817465"/>
<circle cx="449.1" cy="401.7" r="1.05" fill="#747479"/>
<circle cx="451.2" cy="400.5" r="1.05" fill="#747479"/>
<circle cx="450.6" cy="404.2" r="1.05" fill="#817465"/>
<circle cx="452.6" cy="402.9" r="1.05" fill="#817465"/>
<circle cx="454.1" cy="402.2" r="1.05" fill="#817465"/>
<circle cx="452.1" cy="406.5" r="1.05" fill="#747479"/>
<circle cx="454.1" cy="405.4" r="1.05" fill="#817465"/>
<circle cx="455.8" cy="404.4" r="1.05" fill="#817465"/>
<circle cx="453.7" cy="408.8" r="1.05" fill="#817465"/>
<circle cx="455.4" cy="407.9" r="1.05" fill="#817465"/>
<circle cx="457.4" cy="406.7" r="1.05" fill="#817465"/>
<circle cx="447.0" cy="398.0" r="1.05" fill="#fff2d3"/>
<circle cx="445.7" cy="399.8" r="1.05" fill="#eed5b9"/>
<circle cx="450.3" cy="398.1" r="1.05" fill="#c7c7cf"/>
<circle cx="449.3" cy="399.7" r="1.05" fill="#fff0d1"/>
<circle cx="447.9" cy="401.6" r="1.05" fill="#fce1c4"/>
<circle cx="452.3" cy="400.1" r="1.05" fill="#ccb79f"/>
<circle cx="451.6" cy="401.3" r="1.05" fill="#ebebf4"/>
<circle cx="450.1" cy="403.3" r="1.05" fill="#ececf4"/>
<circle cx="449.5" cy="404.5" r="1.05" fill="#cdb7a0"/>
<circle cx="453.9" cy="403.1" r="1.05" fill="#fce1c4"/>
<circle cx="452.4" cy="405.0" r="1.05" fill="#fff0d1"/>
<circle cx="451.4" cy="406.5" r="1.05" fill="#dec7ad"/>
<circle cx="456.0" cy="404.9" r="1.05" fill="#d6d6de"/>
<circle cx="454.8" cy="406.6" r="1.05" fill="#fff2d3"/>
<circle cx="453.5" cy="408.4" r="1.05" fill="#eed5ba"/>
<circle cx="457.8" cy="420.5" r="1.05" fill="#817465"/>
<circle cx="459.1" cy="419.0" r="1.05" fill="#747479"/>
<circle cx="460.4" cy="417.1" r="1.05" fill="#747479"/>
<circle cx="460.2" cy="421.8" r="1.05" fill="#817465"/>
<circle cx="461.2" cy="420.9" r="1.05" fill="#747479"/>
<circle cx="462.6" cy="418.9" r="1.05" fill="#747479"/>
<circle cx="463.6" cy="417.9" r="1.05" fill="#747479"/>
<circle cx="463.4" cy="422.6" r="1.05" fill="#817465"/>
<circle cx="464.8" cy="420.8" r="1.05" fill="#747479"/>
<circle cx="466.0" cy="419.3" r="1.05" fill="#747479"/>
<circle cx="465.7" cy="424.2" r="1.05" fill="#747479"/>
<circle cx="466.9" cy="422.8" r="1.05" fill="#747479"/>
<circle cx="468.3" cy="420.9" r="1.05" fill="#747479"/>
<circle cx="468.1" cy="425.5" r="1.05" fill="#747479"/>
<circle cx="469.0" cy="424.7" r="1.05" fill="#747479"/>
<circle cx="470.4" cy="422.7" r="1.05" fill="#747479"/>
<circle cx="471.5" cy="421.6" r="1.05" fill="#747479"/>
<circle cx="471.2" cy="426.4" r="1.05" fill="#747479"/>
<circle cx="472.6" cy="424.6" r="1.05" fill="#747479"/>
<circle cx="473.8" cy="423.0" r="1.05" fill="#747479"/>
<circle cx="473.5" cy="428.0" r="1.05" fill="#747479"/>
<circle cx="474.7" cy="426.6" r="1.05" fill="#817465"/>
<circle cx="476.1" cy="424.7" r="1.05" fill="#747479"/>
<circle cx="458.0" cy="418.0" r="1.05" fill="#f3f3fc"/>
<circle cx="457.5" cy="420.1" r="1.05" fill="#efd6ba"/>
<circle cx="461.1" cy="416.8" r="1.05" fill="#c3c3ca"/>
<circle cx="460.8" cy="418.4" r="1.05" fill="#f0f0f9"/>
<circle cx="460.2" cy="420.7" r="1.05" fill="#ffe5c8"/>
<circle cx="463.6" cy="418.9" r="1.05" fill="#e5e5ee"/>
<circle cx="463.0" cy="421.2" r="1.05" fill="#ffefd1"/>
<circle cx="462.8" cy="422.9" r="1.05" fill="#c5c5cc"/>
<circle cx="466.3" cy="419.6" r="1.05" fill="#d5d5dd"/>
<circle cx="465.9" cy="421.6" r="1.05" fill="#f3f3fc"/>
<circle cx="465.4" cy="423.8" r="1.05" fill="#d8d8e1"/>
<circle cx="469.0" cy="420.5" r="1.05" fill="#d6c0a7"/>
<circle cx="468.7" cy="422.1" r="1.05" fill="#efeff8"/>
<circle cx="468.1" cy="424.4" r="1.05" fill="#e8e8f0"/>
<circle cx="471.5" cy="422.6" r="1.05" fill="#e4e4ec"/>
<circle cx="470.9" cy="424.9" r="1.05" fill="#f1f1fa"/>
<circle cx="470.6" cy="426.6" r="1.05" fill="#c7c7cf"/>
<circle cx="474.2" cy="423.3" r="1.05" fill="#d3d3db"/>
<circle cx="473.8" cy="425.3" r="1.05" fill="#f3f3fc"/>
<circle cx="473.3" cy="427.4" r="1.05" fill="#f3d9bd"/>
<circle cx="476.8" cy="424.2" r="1.05" fill="#d4bda5"/>
<circle cx="476.6" cy="425.7" r="1.05" fill="#ffedce"/>
<circle cx="476.0" cy="428.0" r="1.05" fill="#ffe8ca"/>
<circle cx="475.9" cy="429.3" r="1.05" fill="#b4b4bb"/>
<circle cx="467.6" cy="432.4" r="1.05" fill="#747479"/>
<circle cx="469.1" cy="431.0" r="1.05" fill="#54545c"/>
<circle cx="470.6" cy="429.3" r="1.05" fill="#54545c"/>
<circle cx="469.9" cy="434.0" r="1.05" fill="#747479"/>
<circle cx="471.2" cy="432.9" r="1.05" fill="#747479"/>
<circle cx="472.8" cy="431.0" r="1.05" fill="#54545c"/>
<circle cx="472.3" cy="435.5" r="1.05" fill="#747479"/>
<circle cx="473.3" cy="434.7" r="1.05" fill="#747479"/>
<circle cx="475.0" cy="432.9" r="1.05" fill="#747479"/>
<circle cx="476.1" cy="431.9" r="1.05" fill="#747479"/>
<circle cx="475.5" cy="436.5" r="1.05" fill="#747479"/>
<circle cx="477.1" cy="434.8" r="1.05" fill="#747479"/>
<circle cx="478.4" cy="433.5" r="1.05" fill="#54545c"/>
<circle cx="468.0" cy="430.0" r="1.05" fill="#f3f3fc"/>
<circle cx="467.3" cy="432.1" r="1.05" fill="#9b9ba9"/>
<circle cx="471.2" cy="429.2" r="1.05" fill="#c9c9d1"/>
<circle cx="470.7" cy="431.0" r="1.05" fill="#f2f2fb"/>
<circle cx="469.9" cy="433.2" r="1.05" fill="#a3a3b2"/>
<circle cx="473.7" cy="430.5" r="1.05" fill="#bbbbc3"/>
<circle cx="473.3" cy="432.0" r="1.05" fill="#acacbc"/>
<circle cx="472.5" cy="434.3" r="1.05" fill="#e9e9f2"/>
<circle cx="476.0" cy="433.0" r="1.05" fill="#e6e6ef"/>
<circle cx="475.2" cy="435.3" r="1.05" fill="#aeaebe"/>
<circle cx="474.7" cy="436.9" r="1.05" fill="#8c8c99"/>
<circle cx="478.6" cy="434.1" r="1.05" fill="#dcdce5"/>
<circle cx="477.8" cy="436.3" r="1.05" fill="#f3f3fc"/>
<circle cx="452.2" cy="412.5" r="1.05" fill="#817465"/>
<circle cx="453.2" cy="410.9" r="1.05" fill="#817465"/>
<circle cx="454.3" cy="408.8" r="1.05" fill="#817465"/>
<circle cx="454.7" cy="413.5" r="1.05" fill="#817465"/>
<circle cx="455.5" cy="412.5" r="1.05" fill="#817465"/>
<circle cx="456.6" cy="410.4" r="1.05" fill="#747479"/>
<circle cx="457.5" cy="409.1" r="1.05" fill="#747479"/>
<circle cx="457.9" cy="414.0" r="1.05" fill="#747479"/>
<circle cx="458.9" cy="412.1" r="1.05" fill="#817465"/>
<circle cx="460.0" cy="410.3" r="1.05" fill="#747479"/>
<circle cx="460.4" cy="415.1" r="1.05" fill="#817465"/>
<circle cx="461.3" cy="413.8" r="1.05" fill="#817465"/>
<circle cx="462.4" cy="411.7" r="1.05" fill="#817465"/>
<circle cx="463.6" cy="415.4" r="1.05" fill="#747479"/>
<circle cx="464.7" cy="413.4" r="1.05" fill="#817465"/>
<circle cx="465.7" cy="411.8" r="1.05" fill="#817465"/>
<circle cx="452.0" cy="410.0" r="1.05" fill="#fff2d3"/>
<circle cx="451.8" cy="412.1" r="1.05" fill="#efd6bb"/>
<circle cx="454.9" cy="408.3" r="1.05" fill="#d6bfa7"/>
<circle cx="454.9" cy="409.9" r="1.05" fill="#ffedcf"/>
<circle cx="454.6" cy="412.3" r="1.05" fill="#ffe7ca"/>
<circle cx="457.7" cy="409.9" r="1.05" fill="#e1e1e9"/>
<circle cx="457.5" cy="412.2" r="1.05" fill="#fff1d2"/>
<circle cx="457.4" cy="414.1" r="1.05" fill="#e3cbb1"/>
<circle cx="460.5" cy="410.2" r="1.05" fill="#e4ccb2"/>
<circle cx="460.4" cy="412.1" r="1.05" fill="#fff1d2"/>
<circle cx="460.1" cy="414.4" r="1.05" fill="#fadfc2"/>
<circle cx="463.1" cy="410.8" r="1.05" fill="#b5b5bb"/>
<circle cx="463.2" cy="412.0" r="1.05" fill="#e9e9f2"/>
<circle cx="463.0" cy="414.4" r="1.05" fill="#ffedcf"/>
<circle cx="463.0" cy="416.0" r="1.05" fill="#d5bea6"/>
<circle cx="435.9" cy="394.8" r="1.05" fill="#817465"/>
<circle cx="436.7" cy="396.5" r="1.05" fill="#6e5c4b"/>
<circle cx="437.7" cy="398.6" r="1.05" fill="#6e5c4b"/>
<circle cx="433.6" cy="396.3" r="1.05" fill="#817465"/>
<circle cx="434.0" cy="397.6" r="1.05" fill="#817465"/>
<circle cx="435.2" cy="399.8" r="1.05" fill="#817465"/>
<circle cx="435.6" cy="401.1" r="1.05" fill="#6e5c4b"/>
<circle cx="431.5" cy="398.8" r="1.05" fill="#6e5c4b"/>
<circle cx="432.5" cy="400.9" r="1.05" fill="#6e5c4b"/>
<circle cx="433.3" cy="402.6" r="1.05" fill="#6e5c4b"/>
<circle cx="429.1" cy="400.2" r="1.05" fill="#817465"/>
<circle cx="429.8" cy="401.9" r="1.05" fill="#6e5c4b"/>
<circle cx="430.9" cy="404.0" r="1.05" fill="#6e5c4b"/>
<circle cx="426.8" cy="401.8" r="1.05" fill="#817465"/>
<circle cx="427.2" cy="403.0" r="1.05" fill="#817465"/>
<circle cx="438.0" cy="396.0" r="1.05" fill="#fff2d3"/>
<circle cx="436.3" cy="394.7" r="1.05" fill="#efd6ba"/>
<circle cx="437.7" cy="399.3" r="1.05" fill="#b99b7f"/>
<circle cx="436.4" cy="398.4" r="1.05" fill="#e3bf9c"/>
<circle cx="434.6" cy="396.8" r="1.05" fill="#ffe5c8"/>
<circle cx="434.7" cy="400.6" r="1.05" fill="#d9b795"/>
<circle cx="432.9" cy="399.1" r="1.05" fill="#ffefd0"/>
<circle cx="431.5" cy="398.1" r="1.05" fill="#ba9c80"/>
<circle cx="432.9" cy="402.8" r="1.05" fill="#eed4b9"/>
<circle cx="431.2" cy="401.5" r="1.05" fill="#e7c29e"/>
<circle cx="429.6" cy="400.1" r="1.05" fill="#ccac8c"/>
<circle cx="431.0" cy="404.8" r="1.05" fill="#d8c1a8"/>
<circle cx="429.6" cy="403.8" r="1.05" fill="#e3bf9c"/>
<circle cx="427.8" cy="402.3" r="1.05" fill="#ffe6c8"/>
<circle cx="418.2" cy="417.7" r="1.05" fill="#226472"/>
<circle cx="420.1" cy="417.4" r="1.05" fill="#226472"/>
<circle cx="422.3" cy="417.0" r="1.05" fill="#226472"/>
<circle cx="419.0" cy="420.3" r="1.05" fill="#226472"/>
<circle cx="420.2" cy="420.3" r="1.05" fill="#226472"/>
<circle cx="422.6" cy="419.8" r="1.05" fill="#226472"/>
<circle cx="424.1" cy="419.7" r="1.05" fill="#226472"/>
<circle cx="420.6" cy="423.1" r="1.05" fill="#174b5c"/>
<circle cx="422.7" cy="422.7" r="1.05" fill="#174b5c"/>
<circle cx="424.8" cy="422.4" r="1.05" fill="#226472"/>
<circle cx="421.3" cy="425.7" r="1.05" fill="#226472"/>
<circle cx="422.9" cy="425.6" r="1.05" fill="#226472"/>
<circle cx="425.2" cy="425.2" r="1.05" fill="#226472"/>
<circle cx="423.1" cy="428.4" r="1.05" fill="#226472"/>
<circle cx="425.4" cy="428.0" r="1.05" fill="#226472"/>
<circle cx="427.2" cy="427.8" r="1.05" fill="#174b5c"/>
<circle cx="423.6" cy="431.2" r="1.05" fill="#174b5c"/>
<circle cx="425.5" cy="430.9" r="1.05" fill="#226472"/>
<circle cx="427.8" cy="430.5" r="1.05" fill="#226472"/>
<circle cx="424.4" cy="433.8" r="1.05" fill="#226472"/>
<circle cx="425.7" cy="433.8" r="1.05" fill="#226472"/>
<circle cx="428.0" cy="433.3" r="1.05" fill="#226472"/>
<circle cx="429.5" cy="433.2" r="1.05" fill="#226472"/>
<circle cx="426.0" cy="436.5" r="1.05" fill="#226472"/>
<circle cx="428.2" cy="436.2" r="1.05" fill="#226472"/>
<circle cx="430.2" cy="435.8" r="1.05" fill="#226472"/>
<circle cx="426.7" cy="439.2" r="1.05" fill="#226472"/>
<circle cx="428.3" cy="439.1" r="1.05" fill="#226472"/>
<circle cx="430.6" cy="438.6" r="1.05" fill="#174b5c"/>
<circle cx="428.5" cy="441.9" r="1.05" fill="#226472"/>
<circle cx="430.8" cy="441.5" r="1.05" fill="#174b5c"/>
<circle cx="432.6" cy="441.2" r="1.05" fill="#226472"/>
<circle cx="429.0" cy="444.6" r="1.05" fill="#174b5c"/>
<circle cx="431.0" cy="444.3" r="1.05" fill="#174b5c"/>
<circle cx="433.2" cy="443.9" r="1.05" fill="#226472"/>
<circle cx="429.8" cy="447.2" r="1.05" fill="#174b5c"/>
<circle cx="431.1" cy="447.2" r="1.05" fill="#226472"/>
<circle cx="433.5" cy="446.8" r="1.05" fill="#226472"/>
<circle cx="434.9" cy="446.7" r="1.05" fill="#174b5c"/>
<circle cx="431.5" cy="450.0" r="1.05" fill="#174b5c"/>
<circle cx="433.6" cy="449.6" r="1.05" fill="#226472"/>
<circle cx="435.7" cy="449.3" r="1.05" fill="#226472"/>
<circle cx="432.1" cy="452.7" r="1.05" fill="#226472"/>
<circle cx="433.7" cy="452.5" r="1.05" fill="#226472"/>
<circle cx="436.1" cy="452.1" r="1.05" fill="#226472"/>
<circle cx="434.0" cy="455.3" r="1.05" fill="#226472"/>
<circle cx="436.3" cy="454.9" r="1.05" fill="#226472"/>
<circle cx="438.0" cy="454.7" r="1.05" fill="#174b5c"/>
<circle cx="420.0" cy="416.0" r="1.05" fill="#47d1ef"/>
<circle cx="418.2" cy="417.2" r="1.05" fill="#3fb8d3"/>
<circle cx="423.1" cy="417.2" r="1.05" fill="#277d98"/>
<circle cx="421.9" cy="418.2" r="1.05" fill="#45cdea"/>
<circle cx="419.9" cy="419.5" r="1.05" fill="#44c7e4"/>
<circle cx="423.6" cy="420.4" r="1.05" fill="#2d92b2"/>
<circle cx="421.7" cy="421.7" r="1.05" fill="#46d0ed"/>
<circle cx="420.2" cy="422.8" r="1.05" fill="#2984a1"/>
<circle cx="425.2" cy="422.7" r="1.05" fill="#3cb0c9"/>
<circle cx="423.6" cy="423.8" r="1.05" fill="#319ec0"/>
<circle cx="421.7" cy="425.1" r="1.05" fill="#41c0dc"/>
<circle cx="426.4" cy="425.2" r="1.05" fill="#359bb1"/>
<circle cx="425.5" cy="426.0" r="1.05" fill="#44c8e5"/>
<circle cx="423.4" cy="427.3" r="1.05" fill="#45cce9"/>
<circle cx="422.3" cy="428.3" r="1.05" fill="#267c97"/>
<circle cx="427.1" cy="428.3" r="1.05" fill="#3fbad4"/>
<circle cx="425.3" cy="429.5" r="1.05" fill="#319ec1"/>
<circle cx="423.6" cy="430.7" r="1.05" fill="#3eb7d2"/>
<circle cx="428.5" cy="430.7" r="1.05" fill="#277e9a"/>
<circle cx="427.2" cy="431.7" r="1.05" fill="#46cdeb"/>
<circle cx="425.2" cy="433.0" r="1.05" fill="#2f97b7"/>
<circle cx="429.0" cy="433.9" r="1.05" fill="#42c2de"/>
<circle cx="427.0" cy="435.2" r="1.05" fill="#46cfed"/>
<circle cx="425.6" cy="436.2" r="1.05" fill="#2983a0"/>
<circle cx="430.5" cy="436.2" r="1.05" fill="#3cb1ca"/>
<circle cx="429.0" cy="437.3" r="1.05" fill="#47d0ee"/>
<circle cx="427.1" cy="438.6" r="1.05" fill="#41bfdb"/>
<circle cx="431.8" cy="438.7" r="1.05" fill="#359db3"/>
<circle cx="430.8" cy="439.5" r="1.05" fill="#44c9e6"/>
<circle cx="428.8" cy="440.8" r="1.05" fill="#45cce9"/>
<circle cx="427.6" cy="441.8" r="1.05" fill="#37a2ba"/>
<circle cx="432.5" cy="441.8" r="1.05" fill="#2c8dac"/>
<circle cx="430.7" cy="443.0" r="1.05" fill="#319ec1"/>
<circle cx="429.0" cy="444.2" r="1.05" fill="#3eb6d0"/>
<circle cx="433.9" cy="444.2" r="1.05" fill="#277f9b"/>
<circle cx="432.6" cy="445.2" r="1.05" fill="#46ceeb"/>
<circle cx="430.6" cy="446.5" r="1.05" fill="#43c6e2"/>
<circle cx="434.3" cy="447.4" r="1.05" fill="#2e94b4"/>
<circle cx="432.4" cy="448.7" r="1.05" fill="#46cfed"/>
<circle cx="430.9" cy="449.7" r="1.05" fill="#28829f"/>
<circle cx="435.9" cy="449.7" r="1.05" fill="#3cb2cc"/>
<circle cx="434.3" cy="450.8" r="1.05" fill="#47d0ee"/>
<circle cx="432.4" cy="452.1" r="1.05" fill="#40bed9"/>
<circle cx="437.1" cy="452.1" r="1.05" fill="#359eb5"/>
<circle cx="436.1" cy="453.0" r="1.05" fill="#44cae6"/>
<circle cx="434.1" cy="454.3" r="1.05" fill="#45cbe8"/>
<circle cx="433.0" cy="455.2" r="1.05" fill="#37a1b8"/>
<circle cx="437.8" cy="455.3" r="1.05" fill="#40bcd7"/>
<circle cx="426.3" cy="421.8" r="1.05" fill="#174b5c"/>
<circle cx="428.2" cy="421.4" r="1.05" fill="#226472"/>
<circle cx="430.4" cy="420.8" r="1.05" fill="#226472"/>
<circle cx="427.4" cy="424.4" r="1.05" fill="#226472"/>
<circle cx="428.6" cy="424.3" r="1.05" fill="#226472"/>
<circle cx="430.9" cy="423.6" r="1.05" fill="#226472"/>
<circle cx="432.4" cy="423.4" r="1.05" fill="#226472"/>
<circle cx="429.2" cy="427.0" r="1.05" fill="#226472"/>
<circle cx="431.3" cy="426.5" r="1.05" fill="#226472"/>
<circle cx="433.4" cy="426.0" r="1.05" fill="#174b5c"/>
<circle cx="430.1" cy="429.6" r="1.05" fill="#226472"/>
<circle cx="431.7" cy="429.3" r="1.05" fill="#226472"/>
<circle cx="434.0" cy="428.7" r="1.05" fill="#226472"/>
<circle cx="432.2" cy="432.1" r="1.05" fill="#226472"/>
<circle cx="434.5" cy="431.5" r="1.05" fill="#226472"/>
<circle cx="436.2" cy="431.1" r="1.05" fill="#226472"/>
<circle cx="432.9" cy="434.8" r="1.05" fill="#226472"/>
<circle cx="434.9" cy="434.3" r="1.05" fill="#226472"/>
<circle cx="437.0" cy="433.8" r="1.05" fill="#174b5c"/>
<circle cx="433.9" cy="437.4" r="1.05" fill="#174b5c"/>
<circle cx="435.3" cy="437.2" r="1.05" fill="#226472"/>
<circle cx="437.6" cy="436.5" r="1.05" fill="#174b5c"/>
<circle cx="439.0" cy="436.4" r="1.05" fill="#226472"/>
<circle cx="435.8" cy="439.9" r="1.05" fill="#226472"/>
<circle cx="438.0" cy="439.4" r="1.05" fill="#226472"/>
<circle cx="439.9" cy="438.9" r="1.05" fill="#174b5c"/>
<circle cx="436.6" cy="442.6" r="1.05" fill="#174b5c"/>
<circle cx="438.4" cy="442.2" r="1.05" fill="#226472"/>
<circle cx="440.6" cy="441.6" r="1.05" fill="#226472"/>
<circle cx="438.8" cy="445.0" r="1.05" fill="#226472"/>
<circle cx="441.1" cy="444.4" r="1.05" fill="#226472"/>
<circle cx="442.8" cy="444.1" r="1.05" fill="#226472"/>
<circle cx="428.0" cy="420.0" r="1.05" fill="#319ec1"/>
<circle cx="426.3" cy="421.3" r="1.05" fill="#2b8caa"/>
<circle cx="431.2" cy="420.9" r="1.05" fill="#277d99"/>
<circle cx="430.0" cy="422.0" r="1.05" fill="#309bbd"/>
<circle cx="428.1" cy="423.5" r="1.05" fill="#43c7e4"/>
<circle cx="432.0" cy="424.1" r="1.05" fill="#42c2de"/>
<circle cx="430.1" cy="425.5" r="1.05" fill="#46cfed"/>
<circle cx="428.8" cy="426.7" r="1.05" fill="#2983a0"/>
<circle cx="433.7" cy="426.3" r="1.05" fill="#2986a4"/>
<circle cx="432.2" cy="427.5" r="1.05" fill="#319ec0"/>
<circle cx="430.4" cy="429.0" r="1.05" fill="#41bfda"/>
<circle cx="435.1" cy="428.6" r="1.05" fill="#359db4"/>
<circle cx="434.2" cy="429.6" r="1.05" fill="#44c9e6"/>
<circle cx="432.3" cy="431.1" r="1.05" fill="#45cbe8"/>
<circle cx="431.3" cy="432.1" r="1.05" fill="#37a1b9"/>
<circle cx="436.1" cy="431.7" r="1.05" fill="#40bcd7"/>
<circle cx="434.3" cy="433.1" r="1.05" fill="#47d1ef"/>
<circle cx="432.8" cy="434.4" r="1.05" fill="#3db5cf"/>
<circle cx="437.7" cy="434.0" r="1.05" fill="#28809c"/>
<circle cx="436.4" cy="435.1" r="1.05" fill="#46ceec"/>
<circle cx="434.5" cy="436.5" r="1.05" fill="#43c5e1"/>
<circle cx="438.3" cy="437.2" r="1.05" fill="#43c5e1"/>
<circle cx="436.5" cy="438.6" r="1.05" fill="#46ceec"/>
<circle cx="435.2" cy="439.8" r="1.05" fill="#28809c"/>
<circle cx="440.1" cy="439.3" r="1.05" fill="#3db5cf"/>
<circle cx="438.5" cy="440.6" r="1.05" fill="#47d1ef"/>
<circle cx="436.8" cy="442.0" r="1.05" fill="#2c8ead"/>
<circle cx="441.6" cy="441.6" r="1.05" fill="#37a1b8"/>
<circle cx="440.6" cy="442.7" r="1.05" fill="#309abc"/>
<circle cx="438.7" cy="444.1" r="1.05" fill="#44c9e6"/>
<circle cx="437.8" cy="445.1" r="1.05" fill="#359db4"/>
<circle cx="442.5" cy="444.8" r="1.05" fill="#41bfda"/>
<circle cx="440.7" cy="446.2" r="1.05" fill="#319ec0"/>
<circle cx="453.1" cy="426.6" r="1.05" fill="#226472"/>
<circle cx="455.0" cy="426.4" r="1.05" fill="#226472"/>
<circle cx="457.2" cy="426.1" r="1.05" fill="#226472"/>
<circle cx="454.9" cy="429.3" r="1.05" fill="#226472"/>
<circle cx="457.3" cy="429.0" r="1.05" fill="#174b5c"/>
<circle cx="458.9" cy="428.9" r="1.05" fill="#226472"/>
<circle cx="455.2" cy="432.1" r="1.05" fill="#174b5c"/>
<circle cx="457.2" cy="431.9" r="1.05" fill="#174b5c"/>
<circle cx="459.4" cy="431.6" r="1.05" fill="#174b5c"/>
<circle cx="455.8" cy="434.8" r="1.05" fill="#226472"/>
<circle cx="457.1" cy="434.8" r="1.05" fill="#226472"/>
<circle cx="459.5" cy="434.4" r="1.05" fill="#174b5c"/>
<circle cx="460.9" cy="434.4" r="1.05" fill="#174b5c"/>
<circle cx="457.3" cy="437.6" r="1.05" fill="#226472"/>
<circle cx="459.4" cy="437.3" r="1.05" fill="#226472"/>
<circle cx="461.5" cy="437.1" r="1.05" fill="#226472"/>
<circle cx="457.7" cy="440.3" r="1.05" fill="#226472"/>
<circle cx="459.4" cy="440.2" r="1.05" fill="#174b5c"/>
<circle cx="461.7" cy="439.9" r="1.05" fill="#226472"/>
<circle cx="459.4" cy="443.0" r="1.05" fill="#226472"/>
<circle cx="461.7" cy="442.7" r="1.05" fill="#226472"/>
<circle cx="463.5" cy="442.6" r="1.05" fill="#226472"/>
<circle cx="459.8" cy="445.8" r="1.05" fill="#174b5c"/>
<circle cx="461.6" cy="445.6" r="1.05" fill="#226472"/>
<circle cx="463.9" cy="445.3" r="1.05" fill="#226472"/>
<circle cx="461.6" cy="448.5" r="1.05" fill="#174b5c"/>
<circle cx="455.0" cy="425.0" r="1.05" fill="#47d1ef"/>
<circle cx="453.2" cy="426.1" r="1.05" fill="#3fb9d3"/>
<circle cx="458.1" cy="426.3" r="1.05" fill="#267c97"/>
<circle cx="456.9" cy="427.2" r="1.05" fill="#45cce9"/>
<circle cx="454.8" cy="428.4" r="1.05" fill="#44c9e5"/>
<circle cx="453.8" cy="429.2" r="1.05" fill="#359cb3"/>
<circle cx="458.5" cy="429.5" r="1.05" fill="#41bfda"/>
<circle cx="456.6" cy="430.6" r="1.05" fill="#319ec0"/>
<circle cx="455.0" cy="431.7" r="1.05" fill="#3cb2cc"/>
<circle cx="459.9" cy="431.9" r="1.05" fill="#3aabc3"/>
<circle cx="458.5" cy="432.9" r="1.05" fill="#309dbf"/>
<circle cx="456.5" cy="434.0" r="1.05" fill="#43c4e0"/>
<circle cx="460.2" cy="435.1" r="1.05" fill="#42c4e0"/>
<circle cx="458.2" cy="436.3" r="1.05" fill="#46cfec"/>
<circle cx="456.8" cy="437.3" r="1.05" fill="#3aacc4"/>
<circle cx="461.7" cy="437.5" r="1.05" fill="#3cb2cb"/>
<circle cx="460.1" cy="438.5" r="1.05" fill="#47d0ee"/>
<circle cx="458.2" cy="439.7" r="1.05" fill="#2d91b0"/>
<circle cx="462.8" cy="439.9" r="1.05" fill="#359bb2"/>
<circle cx="461.9" cy="440.7" r="1.05" fill="#2f98b9"/>
<circle cx="459.8" cy="441.9" r="1.05" fill="#309bbd"/>
<circle cx="458.6" cy="442.8" r="1.05" fill="#38a4bc"/>
<circle cx="463.5" cy="443.1" r="1.05" fill="#3eb8d2"/>
<circle cx="461.7" cy="444.2" r="1.05" fill="#319ec1"/>
<circle cx="459.9" cy="445.3" r="1.05" fill="#3fb9d4"/>
<circle cx="464.7" cy="445.5" r="1.05" fill="#267b96"/>
<circle cx="463.6" cy="446.4" r="1.05" fill="#45cce9"/>
<circle cx="461.5" cy="447.6" r="1.05" fill="#44c9e6"/>
<circle cx="460.5" cy="448.4" r="1.05" fill="#257791"/>
<circle cx="416.5" cy="448.0" r="1.05" fill="#226472"/>
<circle cx="418.3" cy="447.4" r="1.05" fill="#174b5c"/>
<circle cx="420.4" cy="446.6" r="1.05" fill="#226472"/>
<circle cx="418.9" cy="450.2" r="1.05" fill="#174b5c"/>
<circle cx="421.1" cy="449.3" r="1.05" fill="#226472"/>
<circle cx="422.7" cy="448.8" r="1.05" fill="#226472"/>
<circle cx="419.8" cy="452.9" r="1.05" fill="#226472"/>
<circle cx="421.7" cy="452.2" r="1.05" fill="#174b5c"/>
<circle cx="423.8" cy="451.4" r="1.05" fill="#174b5c"/>
<circle cx="421.1" cy="455.3" r="1.05" fill="#226472"/>
<circle cx="422.3" cy="455.0" r="1.05" fill="#174b5c"/>
<circle cx="424.5" cy="454.1" r="1.05" fill="#174b5c"/>
<circle cx="426.0" cy="453.7" r="1.05" fill="#174b5c"/>
<circle cx="423.1" cy="457.7" r="1.05" fill="#226472"/>
<circle cx="425.1" cy="456.9" r="1.05" fill="#174b5c"/>
<circle cx="427.1" cy="456.2" r="1.05" fill="#174b5c"/>
<circle cx="424.3" cy="460.2" r="1.05" fill="#174b5c"/>
<circle cx="425.7" cy="459.8" r="1.05" fill="#174b5c"/>
<circle cx="427.9" cy="458.9" r="1.05" fill="#226472"/>
<circle cx="429.2" cy="458.6" r="1.05" fill="#226472"/>
<circle cx="426.5" cy="462.5" r="1.05" fill="#174b5c"/>
<circle cx="428.5" cy="461.7" r="1.05" fill="#226472"/>
<circle cx="430.4" cy="461.0" r="1.05" fill="#226472"/>
<circle cx="427.5" cy="465.0" r="1.05" fill="#226472"/>
<circle cx="429.1" cy="464.5" r="1.05" fill="#226472"/>
<circle cx="431.3" cy="463.7" r="1.05" fill="#226472"/>
<circle cx="418.0" cy="446.0" r="1.05" fill="#47d1ef"/>
<circle cx="416.5" cy="447.5" r="1.05" fill="#3fb9d3"/>
<circle cx="421.3" cy="446.5" r="1.05" fill="#37a3ba"/>
<circle cx="420.4" cy="447.7" r="1.05" fill="#45cce9"/>
<circle cx="418.6" cy="449.3" r="1.05" fill="#2f98b9"/>
<circle cx="417.9" cy="450.4" r="1.05" fill="#359db4"/>
<circle cx="422.5" cy="449.5" r="1.05" fill="#2c90af"/>
<circle cx="421.0" cy="451.1" r="1.05" fill="#47d0ee"/>
<circle cx="419.6" cy="452.5" r="1.05" fill="#3db4cd"/>
<circle cx="424.4" cy="451.5" r="1.05" fill="#28809c"/>
<circle cx="423.3" cy="452.7" r="1.05" fill="#46ceeb"/>
<circle cx="421.6" cy="454.4" r="1.05" fill="#2e96b6"/>
<circle cx="425.6" cy="454.5" r="1.05" fill="#2d93b3"/>
<circle cx="423.9" cy="456.1" r="1.05" fill="#319dbf"/>
<circle cx="422.7" cy="457.5" r="1.05" fill="#3baec7"/>
<circle cx="427.5" cy="456.4" r="1.05" fill="#3bafc8"/>
<circle cx="426.3" cy="457.8" r="1.05" fill="#46d0ed"/>
<circle cx="424.6" cy="459.4" r="1.05" fill="#42c2dd"/>
<circle cx="428.6" cy="459.5" r="1.05" fill="#43c6e2"/>
<circle cx="426.9" cy="461.2" r="1.05" fill="#46ceeb"/>
<circle cx="425.8" cy="462.4" r="1.05" fill="#39a8c1"/>
<circle cx="430.6" cy="461.4" r="1.05" fill="#3db4ce"/>
<circle cx="429.3" cy="462.8" r="1.05" fill="#47d1ee"/>
<circle cx="427.7" cy="464.4" r="1.05" fill="#2c8faf"/>
<circle cx="432.4" cy="463.5" r="1.05" fill="#359eb4"/>
<circle cx="431.6" cy="464.6" r="1.05" fill="#2f98ba"/>
<circle cx="429.9" cy="466.2" r="1.05" fill="#45cce9"/>
<circle cx="428.9" cy="467.3" r="1.05" fill="#37a3ba"/>
<circle cx="450.2" cy="434.5" r="1.05" fill="#226472"/>
<circle cx="451.2" cy="432.8" r="1.05" fill="#174b5c"/>
<circle cx="452.3" cy="430.8" r="1.05" fill="#226472"/>
<circle cx="452.8" cy="435.4" r="1.05" fill="#226472"/>
<circle cx="453.5" cy="434.5" r="1.05" fill="#174b5c"/>
<circle cx="454.6" cy="432.3" r="1.05" fill="#226472"/>
<circle cx="455.5" cy="431.1" r="1.05" fill="#226472"/>
<circle cx="455.9" cy="435.9" r="1.05" fill="#174b5c"/>
<circle cx="457.0" cy="434.0" r="1.05" fill="#174b5c"/>
<circle cx="458.0" cy="432.2" r="1.05" fill="#226472"/>
<circle cx="458.4" cy="437.1" r="1.05" fill="#226472"/>
<circle cx="459.3" cy="435.7" r="1.05" fill="#226472"/>
<circle cx="460.4" cy="433.6" r="1.05" fill="#174b5c"/>
<circle cx="461.7" cy="437.3" r="1.05" fill="#226472"/>
<circle cx="462.8" cy="435.2" r="1.05" fill="#174b5c"/>
<circle cx="463.7" cy="433.7" r="1.05" fill="#226472"/>
<circle cx="464.1" cy="438.6" r="1.05" fill="#226472"/>
<circle cx="465.1" cy="436.9" r="1.05" fill="#174b5c"/>
<circle cx="466.2" cy="434.9" r="1.05" fill="#174b5c"/>
<circle cx="466.7" cy="439.6" r="1.05" fill="#226472"/>
<circle cx="467.5" cy="438.5" r="1.05" fill="#226472"/>
<circle cx="468.6" cy="436.4" r="1.05" fill="#174b5c"/>
<circle cx="469.4" cy="435.2" r="1.05" fill="#226472"/>
<circle cx="450.0" cy="432.0" r="1.05" fill="#47d1ef"/>
<circle cx="449.8" cy="434.1" r="1.05" fill="#3fb8d3"/>
<circle cx="452.9" cy="430.3" r="1.05" fill="#38a5bd"/>
<circle cx="452.9" cy="431.9" r="1.05" fill="#45cdea"/>
<circle cx="452.6" cy="434.3" r="1.05" fill="#44c7e4"/>
<circle cx="455.7" cy="431.9" r="1.05" fill="#2d93b3"/>
<circle cx="455.5" cy="434.2" r="1.05" fill="#46cfed"/>
<circle cx="455.4" cy="436.1" r="1.05" fill="#3baec7"/>
<circle cx="458.5" cy="432.2" r="1.05" fill="#3cb1ca"/>
<circle cx="458.4" cy="434.1" r="1.05" fill="#319ec0"/>
<circle cx="458.2" cy="436.4" r="1.05" fill="#41bfdb"/>
<circle cx="461.2" cy="432.7" r="1.05" fill="#257790"/>
<circle cx="461.2" cy="434.0" r="1.05" fill="#44c9e6"/>
<circle cx="461.0" cy="436.4" r="1.05" fill="#45cce9"/>
<circle cx="461.0" cy="437.9" r="1.05" fill="#37a2ba"/>
<circle cx="464.1" cy="434.1" r="1.05" fill="#3fbbd6"/>
<circle cx="463.9" cy="436.3" r="1.05" fill="#47d1ef"/>
<circle cx="463.7" cy="438.4" r="1.05" fill="#3eb6d0"/>
<circle cx="466.8" cy="434.5" r="1.05" fill="#39a8c0"/>
<circle cx="466.8" cy="436.2" r="1.05" fill="#46ceeb"/>
<circle cx="466.5" cy="438.5" r="1.05" fill="#43c5e2"/>
<circle cx="469.6" cy="436.2" r="1.05" fill="#42c4e0"/>
<circle cx="469.4" cy="438.5" r="1.05" fill="#309dbf"/>
<circle cx="469.3" cy="440.3" r="1.05" fill="#3aabc4"/>
<circle cx="422.1" cy="431.6" r="1.05" fill="#174b5c"/>
<circle cx="424.0" cy="431.5" r="1.05" fill="#226472"/>
<circle cx="426.2" cy="431.1" r="1.05" fill="#174b5c"/>
<circle cx="424.0" cy="434.3" r="1.05" fill="#174b5c"/>
<circle cx="426.3" cy="434.0" r="1.05" fill="#226472"/>
<circle cx="428.0" cy="433.8" r="1.05" fill="#226472"/>
<circle cx="424.2" cy="437.1" r="1.05" fill="#174b5c"/>
<circle cx="426.2" cy="436.9" r="1.05" fill="#226472"/>
<circle cx="428.4" cy="436.5" r="1.05" fill="#174b5c"/>
<circle cx="424.9" cy="439.7" r="1.05" fill="#174b5c"/>
<circle cx="426.2" cy="439.7" r="1.05" fill="#226472"/>
<circle cx="428.5" cy="439.4" r="1.05" fill="#226472"/>
<circle cx="430.0" cy="439.3" r="1.05" fill="#226472"/>
<circle cx="426.4" cy="442.5" r="1.05" fill="#226472"/>
<circle cx="428.5" cy="442.3" r="1.05" fill="#226472"/>
<circle cx="430.6" cy="442.0" r="1.05" fill="#226472"/>
<circle cx="426.9" cy="445.2" r="1.05" fill="#226472"/>
<circle cx="428.4" cy="445.2" r="1.05" fill="#226472"/>
<circle cx="430.8" cy="444.8" r="1.05" fill="#226472"/>
<circle cx="432.0" cy="444.8" r="1.05" fill="#226472"/>
<circle cx="428.5" cy="448.0" r="1.05" fill="#226472"/>
<circle cx="430.8" cy="447.7" r="1.05" fill="#226472"/>
<circle cx="432.7" cy="447.4" r="1.05" fill="#174b5c"/>
<circle cx="429.0" cy="450.7" r="1.05" fill="#226472"/>
<circle cx="430.7" cy="450.6" r="1.05" fill="#174b5c"/>
<circle cx="433.0" cy="450.2" r="1.05" fill="#174b5c"/>
<circle cx="424.0" cy="430.0" r="1.05" fill="#47d1ef"/>
<circle cx="422.2" cy="431.1" r="1.05" fill="#3fb9d3"/>
<circle cx="427.1" cy="431.3" r="1.05" fill="#267c97"/>
<circle cx="425.9" cy="432.2" r="1.05" fill="#309abc"/>
<circle cx="423.9" cy="433.4" r="1.05" fill="#44c9e6"/>
<circle cx="422.9" cy="434.2" r="1.05" fill="#359db3"/>
<circle cx="427.6" cy="434.4" r="1.05" fill="#40bed9"/>
<circle cx="425.7" cy="435.6" r="1.05" fill="#319ec0"/>
<circle cx="424.1" cy="436.7" r="1.05" fill="#3db4cd"/>
<circle cx="429.0" cy="436.8" r="1.05" fill="#39a9c1"/>
<circle cx="427.7" cy="437.8" r="1.05" fill="#309cbe"/>
<circle cx="425.6" cy="439.0" r="1.05" fill="#43c5e2"/>
<circle cx="429.4" cy="440.0" r="1.05" fill="#42c2de"/>
<circle cx="427.5" cy="441.2" r="1.05" fill="#319dbf"/>
<circle cx="426.0" cy="442.2" r="1.05" fill="#3baec7"/>
<circle cx="430.9" cy="442.3" r="1.05" fill="#3bafc8"/>
<circle cx="429.4" cy="443.4" r="1.05" fill="#319dc0"/>
<circle cx="427.4" cy="444.6" r="1.05" fill="#42c1dd"/>
<circle cx="431.2" cy="445.6" r="1.05" fill="#2e96b7"/>
<circle cx="429.2" cy="446.8" r="1.05" fill="#309cbe"/>
<circle cx="427.9" cy="447.7" r="1.05" fill="#39a8c0"/>
<circle cx="432.8" cy="447.9" r="1.05" fill="#3db5ce"/>
<circle cx="431.1" cy="449.0" r="1.05" fill="#47d1ee"/>
<circle cx="429.3" cy="450.1" r="1.05" fill="#40bdd8"/>
<circle cx="434.0" cy="450.3" r="1.05" fill="#369eb5"/>
<circle cx="433.0" cy="451.2" r="1.05" fill="#44cae6"/>
<circle cx="431.0" cy="452.4" r="1.05" fill="#45cbe8"/>
<circle cx="408.1" cy="431.6" r="1.05" fill="#2e6c28"/>
<circle cx="409.9" cy="431.4" r="1.05" fill="#2e6c28"/>
<circle cx="412.2" cy="431.2" r="1.05" fill="#2e6c28"/>
<circle cx="409.9" cy="434.3" r="1.05" fill="#2e6c28"/>
<circle cx="412.3" cy="434.0" r="1.05" fill="#1f561d"/>
<circle cx="413.9" cy="433.9" r="1.05" fill="#2e6c28"/>
<circle cx="410.1" cy="437.1" r="1.05" fill="#2e6c28"/>
<circle cx="412.2" cy="436.9" r="1.05" fill="#2e6c28"/>
<circle cx="414.3" cy="436.7" r="1.05" fill="#2e6c28"/>
<circle cx="410.6" cy="439.8" r="1.05" fill="#2e6c28"/>
<circle cx="412.1" cy="439.8" r="1.05" fill="#1f561d"/>
<circle cx="414.5" cy="439.5" r="1.05" fill="#2e6c28"/>
<circle cx="415.8" cy="439.5" r="1.05" fill="#2e6c28"/>
<circle cx="412.2" cy="442.6" r="1.05" fill="#2e6c28"/>
<circle cx="414.4" cy="442.3" r="1.05" fill="#2e6c28"/>
<circle cx="416.4" cy="442.2" r="1.05" fill="#1f561d"/>
<circle cx="412.6" cy="445.3" r="1.05" fill="#1f561d"/>
<circle cx="414.3" cy="445.2" r="1.05" fill="#1f561d"/>
<circle cx="416.6" cy="444.9" r="1.05" fill="#2e6c28"/>
<circle cx="414.3" cy="448.1" r="1.05" fill="#2e6c28"/>
<circle cx="416.6" cy="447.8" r="1.05" fill="#1f561d"/>
<circle cx="418.4" cy="447.7" r="1.05" fill="#1f561d"/>
<circle cx="414.6" cy="450.9" r="1.05" fill="#2e6c28"/>
<circle cx="416.5" cy="450.7" r="1.05" fill="#2e6c28"/>
<circle cx="418.8" cy="450.4" r="1.05" fill="#2e6c28"/>
<circle cx="415.2" cy="453.5" r="1.05" fill="#1f561d"/>
<circle cx="416.5" cy="453.6" r="1.05" fill="#1f561d"/>
<circle cx="418.8" cy="453.2" r="1.05" fill="#2e6c28"/>
<circle cx="420.3" cy="453.2" r="1.05" fill="#2e6c28"/>
<circle cx="416.6" cy="456.4" r="1.05" fill="#2e6c28"/>
<circle cx="418.8" cy="456.1" r="1.05" fill="#2e6c28"/>
<circle cx="420.8" cy="455.9" r="1.05" fill="#2e6c28"/>
<circle cx="410.0" cy="430.0" r="1.05" fill="#61e355"/>
<circle cx="408.2" cy="431.1" r="1.05" fill="#56c94b"/>
<circle cx="413.0" cy="431.4" r="1.05" fill="#4cb342"/>
<circle cx="411.8" cy="432.3" r="1.05" fill="#5fde53"/>
<circle cx="409.7" cy="433.4" r="1.05" fill="#5dda51"/>
<circle cx="408.8" cy="434.2" r="1.05" fill="#31872e"/>
<circle cx="413.5" cy="434.6" r="1.05" fill="#3da638"/>
<circle cx="411.5" cy="435.7" r="1.05" fill="#61e254"/>
<circle cx="409.8" cy="436.7" r="1.05" fill="#389a34"/>
<circle cx="414.8" cy="437.0" r="1.05" fill="#50bc46"/>
<circle cx="413.3" cy="437.9" r="1.05" fill="#42b43d"/>
<circle cx="411.3" cy="439.1" r="1.05" fill="#5bd44f"/>
<circle cx="415.0" cy="440.2" r="1.05" fill="#5cd750"/>
<circle cx="413.0" cy="441.4" r="1.05" fill="#60e054"/>
<circle cx="411.6" cy="442.3" r="1.05" fill="#4fb844"/>
<circle cx="416.5" cy="442.6" r="1.05" fill="#54c449"/>
<circle cx="414.8" cy="443.6" r="1.05" fill="#61e354"/>
<circle cx="412.9" cy="444.8" r="1.05" fill="#58cd4c"/>
<circle cx="417.6" cy="445.1" r="1.05" fill="#4aad40"/>
<circle cx="416.6" cy="445.9" r="1.05" fill="#5edc52"/>
<circle cx="414.5" cy="447.1" r="1.05" fill="#5edd52"/>
<circle cx="413.4" cy="447.9" r="1.05" fill="#4baf41"/>
<circle cx="418.2" cy="448.2" r="1.05" fill="#57cc4c"/>
<circle cx="416.3" cy="449.3" r="1.05" fill="#61e355"/>
<circle cx="414.5" cy="450.4" r="1.05" fill="#55c64a"/>
<circle cx="419.4" cy="450.7" r="1.05" fill="#4eb644"/>
<circle cx="418.1" cy="451.6" r="1.05" fill="#60e053"/>
<circle cx="416.0" cy="452.8" r="1.05" fill="#5cd850"/>
<circle cx="419.8" cy="453.9" r="1.05" fill="#3da839"/>
<circle cx="417.8" cy="455.0" r="1.05" fill="#42b43d"/>
<circle cx="416.2" cy="456.0" r="1.05" fill="#51bd46"/>
<circle cx="421.2" cy="456.3" r="1.05" fill="#389834"/>
<circle cx="413.8" cy="443.4" r="1.05" fill="#1f561d"/>
<circle cx="415.1" cy="442.0" r="1.05" fill="#1f561d"/>
<circle cx="416.5" cy="440.1" r="1.05" fill="#2e6c28"/>
<circle cx="416.2" cy="444.9" r="1.05" fill="#2e6c28"/>
<circle cx="417.2" cy="443.8" r="1.05" fill="#2e6c28"/>
<circle cx="418.7" cy="441.9" r="1.05" fill="#2e6c28"/>
<circle cx="419.6" cy="441.0" r="1.05" fill="#2e6c28"/>
<circle cx="419.4" cy="445.6" r="1.05" fill="#2e6c28"/>
<circle cx="420.9" cy="443.7" r="1.05" fill="#2e6c28"/>
<circle cx="422.1" cy="442.4" r="1.05" fill="#1f561d"/>
<circle cx="421.7" cy="447.3" r="1.05" fill="#2e6c28"/>
<circle cx="423.0" cy="445.6" r="1.05" fill="#2e6c28"/>
<circle cx="424.4" cy="443.9" r="1.05" fill="#2e6c28"/>
<circle cx="424.0" cy="448.7" r="1.05" fill="#2e6c28"/>
<circle cx="425.2" cy="447.5" r="1.05" fill="#2e6c28"/>
<circle cx="426.6" cy="445.6" r="1.05" fill="#1f561d"/>
<circle cx="427.3" cy="449.3" r="1.05" fill="#1f561d"/>
<circle cx="414.0" cy="441.0" r="1.05" fill="#42b53e"/>
<circle cx="413.5" cy="443.1" r="1.05" fill="#56c84a"/>
<circle cx="417.1" cy="439.9" r="1.05" fill="#369332"/>
<circle cx="416.8" cy="441.6" r="1.05" fill="#60e154"/>
<circle cx="416.2" cy="443.9" r="1.05" fill="#5bd54f"/>
<circle cx="419.6" cy="442.2" r="1.05" fill="#5dd951"/>
<circle cx="418.9" cy="444.5" r="1.05" fill="#41b13c"/>
<circle cx="418.7" cy="446.1" r="1.05" fill="#4cb242"/>
<circle cx="422.3" cy="443.0" r="1.05" fill="#58cd4c"/>
<circle cx="421.7" cy="445.1" r="1.05" fill="#42b53e"/>
<circle cx="421.2" cy="447.1" r="1.05" fill="#53c348"/>
<circle cx="424.9" cy="443.9" r="1.05" fill="#379733"/>
<circle cx="424.5" cy="445.7" r="1.05" fill="#42b43d"/>
<circle cx="423.9" cy="448.0" r="1.05" fill="#3da739"/>
<circle cx="427.5" cy="444.9" r="1.05" fill="#4aac40"/>
<circle cx="427.3" cy="446.3" r="1.05" fill="#40b03c"/>
<circle cx="426.6" cy="448.7" r="1.05" fill="#5edc52"/>
<circle cx="426.5" cy="450.0" r="1.05" fill="#4aac40"/>
<circle cx="438.0" cy="441.4" r="1.05" fill="#2e6c28"/>
<circle cx="439.8" cy="441.4" r="1.05" fill="#2e6c28"/>
<circle cx="442.1" cy="441.4" r="1.05" fill="#2e6c28"/>
<circle cx="438.4" cy="444.1" r="1.05" fill="#2e6c28"/>
<circle cx="439.6" cy="444.3" r="1.05" fill="#2e6c28"/>
<circle cx="442.0" cy="444.2" r="1.05" fill="#1f561d"/>
<circle cx="443.5" cy="444.3" r="1.05" fill="#2e6c28"/>
<circle cx="439.5" cy="447.1" r="1.05" fill="#2e6c28"/>
<circle cx="441.7" cy="447.1" r="1.05" fill="#2e6c28"/>
<circle cx="443.8" cy="447.1" r="1.05" fill="#2e6c28"/>
<circle cx="439.7" cy="449.8" r="1.05" fill="#2e6c28"/>
<circle cx="441.4" cy="449.9" r="1.05" fill="#2e6c28"/>
<circle cx="443.7" cy="449.9" r="1.05" fill="#2e6c28"/>
<circle cx="441.2" cy="452.8" r="1.05" fill="#2e6c28"/>
<circle cx="443.5" cy="452.7" r="1.05" fill="#1f561d"/>
<circle cx="445.3" cy="452.8" r="1.05" fill="#2e6c28"/>
<circle cx="441.2" cy="455.6" r="1.05" fill="#2e6c28"/>
<circle cx="443.2" cy="455.6" r="1.05" fill="#1f561d"/>
<circle cx="445.4" cy="455.5" r="1.05" fill="#1f561d"/>
<circle cx="441.6" cy="458.3" r="1.05" fill="#1f561d"/>
<circle cx="442.9" cy="458.4" r="1.05" fill="#2e6c28"/>
<circle cx="445.3" cy="458.3" r="1.05" fill="#2e6c28"/>
<circle cx="446.7" cy="458.5" r="1.05" fill="#2e6c28"/>
<circle cx="442.8" cy="461.2" r="1.05" fill="#2e6c28"/>
<circle cx="445.0" cy="461.2" r="1.05" fill="#1f561d"/>
<circle cx="447.0" cy="461.2" r="1.05" fill="#2e6c28"/>
<circle cx="443.0" cy="464.0" r="1.05" fill="#1f561d"/>
<circle cx="444.7" cy="464.1" r="1.05" fill="#2e6c28"/>
<circle cx="447.1" cy="464.0" r="1.05" fill="#1f561d"/>
<circle cx="444.5" cy="466.9" r="1.05" fill="#2e6c28"/>
<circle cx="446.9" cy="466.8" r="1.05" fill="#2e6c28"/>
<circle cx="448.5" cy="466.9" r="1.05" fill="#2e6c28"/>
<circle cx="444.5" cy="469.7" r="1.05" fill="#2e6c28"/>
<circle cx="446.5" cy="469.7" r="1.05" fill="#2e6c28"/>
<circle cx="448.7" cy="469.7" r="1.05" fill="#2e6c28"/>
<circle cx="440.0" cy="440.0" r="1.05" fill="#61e355"/>
<circle cx="438.1" cy="440.9" r="1.05" fill="#56c94b"/>
<circle cx="442.9" cy="441.7" r="1.05" fill="#348f31"/>
<circle cx="441.5" cy="442.5" r="1.05" fill="#41b23c"/>
<circle cx="439.3" cy="443.4" r="1.05" fill="#5dd951"/>
<circle cx="442.9" cy="444.9" r="1.05" fill="#5ad34e"/>
<circle cx="440.8" cy="445.9" r="1.05" fill="#42b43d"/>
<circle cx="439.1" cy="446.7" r="1.05" fill="#51bd46"/>
<circle cx="444.0" cy="447.5" r="1.05" fill="#52c048"/>
<circle cx="442.3" cy="448.3" r="1.05" fill="#61e254"/>
<circle cx="440.2" cy="449.3" r="1.05" fill="#59d04d"/>
<circle cx="444.8" cy="450.1" r="1.05" fill="#49ab3f"/>
<circle cx="443.8" cy="450.8" r="1.05" fill="#5edb51"/>
<circle cx="441.6" cy="451.8" r="1.05" fill="#5fdd52"/>
<circle cx="440.3" cy="452.5" r="1.05" fill="#4bb042"/>
<circle cx="445.0" cy="453.3" r="1.05" fill="#57cc4c"/>
<circle cx="443.1" cy="454.2" r="1.05" fill="#61e355"/>
<circle cx="441.2" cy="455.1" r="1.05" fill="#55c64a"/>
<circle cx="446.1" cy="455.9" r="1.05" fill="#4eb744"/>
<circle cx="444.6" cy="456.7" r="1.05" fill="#41b33d"/>
<circle cx="442.4" cy="457.6" r="1.05" fill="#3fab3a"/>
<circle cx="446.0" cy="459.1" r="1.05" fill="#3eaa3a"/>
<circle cx="443.8" cy="460.1" r="1.05" fill="#60e154"/>
<circle cx="442.3" cy="460.9" r="1.05" fill="#4fba45"/>
<circle cx="447.2" cy="461.7" r="1.05" fill="#54c449"/>
<circle cx="445.3" cy="462.5" r="1.05" fill="#42b53e"/>
<circle cx="443.3" cy="463.5" r="1.05" fill="#3ca438"/>
<circle cx="448.0" cy="464.3" r="1.05" fill="#4aae41"/>
<circle cx="446.8" cy="465.0" r="1.05" fill="#5edc52"/>
<circle cx="444.6" cy="466.0" r="1.05" fill="#5edc52"/>
<circle cx="443.5" cy="466.7" r="1.05" fill="#4aad40"/>
<circle cx="448.2" cy="467.5" r="1.05" fill="#58ce4d"/>
<circle cx="446.1" cy="468.4" r="1.05" fill="#61e354"/>
<circle cx="444.3" cy="469.3" r="1.05" fill="#53c248"/>
<circle cx="449.2" cy="470.0" r="1.05" fill="#50bb46"/>
<circle cx="447.6" cy="470.9" r="1.05" fill="#60e154"/>
<circle cx="450.6" cy="450.4" r="1.05" fill="#2e6c28"/>
<circle cx="451.3" cy="448.6" r="1.05" fill="#1f561d"/>
<circle cx="452.1" cy="446.5" r="1.05" fill="#2e6c28"/>
<circle cx="453.3" cy="451.0" r="1.05" fill="#2e6c28"/>
<circle cx="453.9" cy="449.8" r="1.05" fill="#1f561d"/>
<circle cx="454.7" cy="447.5" r="1.05" fill="#2e6c28"/>
<circle cx="455.3" cy="446.3" r="1.05" fill="#1f561d"/>
<circle cx="456.5" cy="450.9" r="1.05" fill="#2e6c28"/>
<circle cx="457.3" cy="448.8" r="1.05" fill="#2e6c28"/>
<circle cx="458.0" cy="446.9" r="1.05" fill="#2e6c28"/>
<circle cx="459.2" cy="451.7" r="1.05" fill="#1f561d"/>
<circle cx="459.8" cy="450.0" r="1.05" fill="#2e6c28"/>
<circle cx="460.6" cy="447.8" r="1.05" fill="#2e6c28"/>
<circle cx="462.4" cy="451.2" r="1.05" fill="#2e6c28"/>
<circle cx="463.2" cy="448.9" r="1.05" fill="#2e6c28"/>
<circle cx="463.9" cy="447.5" r="1.05" fill="#1f561d"/>
<circle cx="465.1" cy="452.2" r="1.05" fill="#2e6c28"/>
<circle cx="465.8" cy="450.2" r="1.05" fill="#1f561d"/>
<circle cx="466.6" cy="448.2" r="1.05" fill="#1f561d"/>
<circle cx="467.7" cy="453.0" r="1.05" fill="#2e6c28"/>
<circle cx="468.4" cy="451.4" r="1.05" fill="#2e6c28"/>
<circle cx="469.2" cy="449.2" r="1.05" fill="#1f561d"/>
<circle cx="471.0" cy="452.6" r="1.05" fill="#1f561d"/>
<circle cx="471.8" cy="450.3" r="1.05" fill="#2e6c28"/>
<circle cx="472.5" cy="448.8" r="1.05" fill="#2e6c28"/>
<circle cx="473.6" cy="453.5" r="1.05" fill="#1f561d"/>
<circle cx="474.4" cy="451.6" r="1.05" fill="#1f561d"/>
<circle cx="475.1" cy="449.5" r="1.05" fill="#2e6c28"/>
<circle cx="476.3" cy="454.2" r="1.05" fill="#2e6c28"/>
<circle cx="477.0" cy="452.8" r="1.05" fill="#2e6c28"/>
<circle cx="477.7" cy="450.5" r="1.05" fill="#2e6c28"/>
<circle cx="450.0" cy="448.0" r="1.05" fill="#42b53e"/>
<circle cx="450.2" cy="450.1" r="1.05" fill="#3aa036"/>
<circle cx="452.6" cy="445.9" r="1.05" fill="#359131"/>
<circle cx="452.8" cy="447.5" r="1.05" fill="#60e053"/>
<circle cx="453.0" cy="449.9" r="1.05" fill="#3fac3a"/>
<circle cx="455.6" cy="447.2" r="1.05" fill="#5bd54f"/>
<circle cx="455.8" cy="449.5" r="1.05" fill="#60e154"/>
<circle cx="456.0" cy="451.3" r="1.05" fill="#369432"/>
<circle cx="458.4" cy="447.0" r="1.05" fill="#54c549"/>
<circle cx="458.6" cy="449.1" r="1.05" fill="#61e355"/>
<circle cx="458.8" cy="451.3" r="1.05" fill="#3ba337"/>
<circle cx="461.2" cy="447.1" r="1.05" fill="#4cb142"/>
<circle cx="461.4" cy="448.6" r="1.05" fill="#5fde53"/>
<circle cx="461.6" cy="451.0" r="1.05" fill="#5dda51"/>
<circle cx="461.8" cy="452.2" r="1.05" fill="#31872e"/>
<circle cx="464.2" cy="448.3" r="1.05" fill="#3da839"/>
<circle cx="464.4" cy="450.6" r="1.05" fill="#61e254"/>
<circle cx="464.6" cy="452.4" r="1.05" fill="#51bd46"/>
<circle cx="467.0" cy="448.2" r="1.05" fill="#53c148"/>
<circle cx="467.2" cy="450.1" r="1.05" fill="#42b53d"/>
<circle cx="467.3" cy="452.4" r="1.05" fill="#59cf4d"/>
<circle cx="469.8" cy="448.3" r="1.05" fill="#328a2f"/>
<circle cx="470.0" cy="449.7" r="1.05" fill="#5edc52"/>
<circle cx="470.2" cy="452.1" r="1.05" fill="#5edc52"/>
<circle cx="470.4" cy="453.4" r="1.05" fill="#4aad40"/>
<circle cx="472.8" cy="449.4" r="1.05" fill="#3ca538"/>
<circle cx="473.0" cy="451.6" r="1.05" fill="#61e354"/>
<circle cx="473.2" cy="453.6" r="1.05" fill="#389a34"/>
<circle cx="475.6" cy="449.3" r="1.05" fill="#51bd46"/>
<circle cx="475.8" cy="451.2" r="1.05" fill="#42b43d"/>
<circle cx="475.9" cy="453.5" r="1.05" fill="#5ad24e"/>
<circle cx="478.4" cy="449.5" r="1.05" fill="#31872e"/>
<circle cx="460.1" cy="441.5" r="1.05" fill="#2e6c28"/>
<circle cx="461.9" cy="441.4" r="1.05" fill="#2e6c28"/>
<circle cx="464.2" cy="441.2" r="1.05" fill="#1f561d"/>
<circle cx="460.6" cy="444.2" r="1.05" fill="#2e6c28"/>
<circle cx="461.9" cy="444.3" r="1.05" fill="#2e6c28"/>
<circle cx="464.3" cy="444.1" r="1.05" fill="#2e6c28"/>
<circle cx="465.8" cy="444.1" r="1.05" fill="#1f561d"/>
<circle cx="462.0" cy="447.1" r="1.05" fill="#2e6c28"/>
<circle cx="464.2" cy="446.9" r="1.05" fill="#1f561d"/>
<circle cx="466.2" cy="446.8" r="1.05" fill="#2e6c28"/>
<circle cx="462.4" cy="449.8" r="1.05" fill="#2e6c28"/>
<circle cx="464.0" cy="449.8" r="1.05" fill="#2e6c28"/>
<circle cx="466.4" cy="449.6" r="1.05" fill="#2e6c28"/>
<circle cx="464.0" cy="452.7" r="1.05" fill="#2e6c28"/>
<circle cx="466.4" cy="452.4" r="1.05" fill="#2e6c28"/>
<circle cx="468.2" cy="452.4" r="1.05" fill="#2e6c28"/>
<circle cx="464.3" cy="455.4" r="1.05" fill="#2e6c28"/>
<circle cx="466.2" cy="455.3" r="1.05" fill="#2e6c28"/>
<circle cx="468.5" cy="455.1" r="1.05" fill="#1f561d"/>
<circle cx="464.8" cy="458.1" r="1.05" fill="#2e6c28"/>
<circle cx="466.2" cy="458.2" r="1.05" fill="#2e6c28"/>
<circle cx="468.6" cy="457.9" r="1.05" fill="#2e6c28"/>
<circle cx="470.0" cy="458.0" r="1.05" fill="#2e6c28"/>
<circle cx="466.3" cy="461.0" r="1.05" fill="#2e6c28"/>
<circle cx="468.5" cy="460.8" r="1.05" fill="#1f561d"/>
<circle cx="470.5" cy="460.7" r="1.05" fill="#2e6c28"/>
<circle cx="466.6" cy="463.7" r="1.05" fill="#1f561d"/>
<circle cx="468.3" cy="463.7" r="1.05" fill="#2e6c28"/>
<circle cx="470.7" cy="463.5" r="1.05" fill="#2e6c28"/>
<circle cx="468.3" cy="466.5" r="1.05" fill="#1f561d"/>
<circle cx="470.7" cy="466.3" r="1.05" fill="#2e6c28"/>
<circle cx="472.4" cy="466.3" r="1.05" fill="#2e6c28"/>
<circle cx="468.5" cy="469.3" r="1.05" fill="#2e6c28"/>
<circle cx="470.5" cy="469.2" r="1.05" fill="#2e6c28"/>
<circle cx="472.8" cy="469.0" r="1.05" fill="#1f561d"/>
<circle cx="462.0" cy="440.0" r="1.05" fill="#61e355"/>
<circle cx="460.1" cy="441.0" r="1.05" fill="#56c94b"/>
<circle cx="465.0" cy="441.5" r="1.05" fill="#4db443"/>
<circle cx="463.7" cy="442.3" r="1.05" fill="#5fdf53"/>
<circle cx="461.6" cy="443.4" r="1.05" fill="#3fad3b"/>
<circle cx="465.2" cy="444.7" r="1.05" fill="#5ad34e"/>
<circle cx="463.2" cy="445.8" r="1.05" fill="#61e254"/>
<circle cx="461.6" cy="446.8" r="1.05" fill="#51bd46"/>
<circle cx="466.5" cy="447.2" r="1.05" fill="#52c048"/>
<circle cx="464.9" cy="448.1" r="1.05" fill="#61e254"/>
<circle cx="462.9" cy="449.2" r="1.05" fill="#59d04e"/>
<circle cx="467.5" cy="449.7" r="1.05" fill="#32882e"/>
<circle cx="466.5" cy="450.5" r="1.05" fill="#5edb51"/>
<circle cx="464.4" cy="451.6" r="1.05" fill="#5fde53"/>
<circle cx="463.2" cy="452.4" r="1.05" fill="#338d30"/>
<circle cx="468.0" cy="452.9" r="1.05" fill="#57cb4c"/>
<circle cx="466.0" cy="454.0" r="1.05" fill="#42b53e"/>
<circle cx="464.2" cy="455.0" r="1.05" fill="#3a9e36"/>
<circle cx="469.1" cy="455.4" r="1.05" fill="#4eb744"/>
<circle cx="467.7" cy="456.3" r="1.05" fill="#41b33d"/>
<circle cx="465.6" cy="457.4" r="1.05" fill="#5cd750"/>
<circle cx="469.3" cy="458.7" r="1.05" fill="#5bd54f"/>
<circle cx="467.2" cy="459.8" r="1.05" fill="#42b33d"/>
<circle cx="465.7" cy="460.7" r="1.05" fill="#50ba45"/>
<circle cx="470.6" cy="461.1" r="1.05" fill="#54c349"/>
<circle cx="468.9" cy="462.1" r="1.05" fill="#42b53e"/>
<circle cx="466.9" cy="463.2" r="1.05" fill="#58ce4d"/>
<circle cx="471.7" cy="463.6" r="1.05" fill="#4aae41"/>
<circle cx="470.6" cy="464.4" r="1.05" fill="#5edc52"/>
<circle cx="468.4" cy="465.6" r="1.05" fill="#40b03c"/>
<circle cx="467.3" cy="466.4" r="1.05" fill="#328a2f"/>
<circle cx="472.1" cy="466.8" r="1.05" fill="#58ce4d"/>
<circle cx="470.1" cy="467.9" r="1.05" fill="#61e354"/>
<circle cx="468.4" cy="468.9" r="1.05" fill="#53c349"/>
<circle cx="473.3" cy="469.3" r="1.05" fill="#50ba45"/>
<circle cx="474.1" cy="437.6" r="1.05" fill="#2e6c28"/>
<circle cx="475.9" cy="437.4" r="1.05" fill="#2e6c28"/>
<circle cx="478.2" cy="437.2" r="1.05" fill="#2e6c28"/>
<circle cx="475.9" cy="440.3" r="1.05" fill="#2e6c28"/>
<circle cx="478.3" cy="440.0" r="1.05" fill="#1f561d"/>
<circle cx="479.8" cy="440.0" r="1.05" fill="#2e6c28"/>
<circle cx="476.1" cy="443.1" r="1.05" fill="#2e6c28"/>
<circle cx="478.2" cy="442.9" r="1.05" fill="#2e6c28"/>
<circle cx="480.3" cy="442.7" r="1.05" fill="#2e6c28"/>
<circle cx="476.6" cy="445.8" r="1.05" fill="#2e6c28"/>
<circle cx="478.1" cy="445.8" r="1.05" fill="#2e6c28"/>
<circle cx="480.4" cy="445.5" r="1.05" fill="#2e6c28"/>
<circle cx="481.7" cy="445.6" r="1.05" fill="#1f561d"/>
<circle cx="478.1" cy="448.6" r="1.05" fill="#2e6c28"/>
<circle cx="480.4" cy="448.4" r="1.05" fill="#1f561d"/>
<circle cx="482.3" cy="448.2" r="1.05" fill="#1f561d"/>
<circle cx="478.5" cy="451.4" r="1.05" fill="#2e6c28"/>
<circle cx="480.3" cy="451.3" r="1.05" fill="#1f561d"/>
<circle cx="482.6" cy="451.0" r="1.05" fill="#2e6c28"/>
<circle cx="480.2" cy="454.1" r="1.05" fill="#2e6c28"/>
<circle cx="482.6" cy="453.8" r="1.05" fill="#1f561d"/>
<circle cx="484.2" cy="453.8" r="1.05" fill="#2e6c28"/>
<circle cx="480.4" cy="456.9" r="1.05" fill="#2e6c28"/>
<circle cx="482.5" cy="456.7" r="1.05" fill="#2e6c28"/>
<circle cx="484.7" cy="456.5" r="1.05" fill="#2e6c28"/>
<circle cx="481.0" cy="459.6" r="1.05" fill="#1f561d"/>
<circle cx="482.4" cy="459.6" r="1.05" fill="#1f561d"/>
<circle cx="484.8" cy="459.3" r="1.05" fill="#2e6c28"/>
<circle cx="486.1" cy="459.4" r="1.05" fill="#2e6c28"/>
<circle cx="476.0" cy="436.0" r="1.05" fill="#42b53e"/>
<circle cx="474.2" cy="437.1" r="1.05" fill="#56c94b"/>
<circle cx="479.0" cy="437.4" r="1.05" fill="#4db343"/>
<circle cx="477.8" cy="438.3" r="1.05" fill="#5fdf53"/>
<circle cx="475.7" cy="439.4" r="1.05" fill="#5dd951"/>
<circle cx="474.7" cy="440.2" r="1.05" fill="#31862e"/>
<circle cx="479.4" cy="440.6" r="1.05" fill="#5ad14e"/>
<circle cx="477.4" cy="441.7" r="1.05" fill="#42b43d"/>
<circle cx="475.7" cy="442.7" r="1.05" fill="#52bf47"/>
<circle cx="480.7" cy="443.0" r="1.05" fill="#51bd46"/>
<circle cx="479.1" cy="444.0" r="1.05" fill="#61e254"/>
<circle cx="477.1" cy="445.1" r="1.05" fill="#5ad34e"/>
<circle cx="480.8" cy="446.3" r="1.05" fill="#5dd850"/>
<circle cx="478.7" cy="447.5" r="1.05" fill="#60df53"/>
<circle cx="477.4" cy="448.4" r="1.05" fill="#4eb543"/>
<circle cx="482.3" cy="448.7" r="1.05" fill="#55c74a"/>
<circle cx="480.5" cy="449.8" r="1.05" fill="#61e355"/>
<circle cx="478.6" cy="450.8" r="1.05" fill="#57cb4b"/>
<circle cx="483.5" cy="451.2" r="1.05" fill="#4cb142"/>
<circle cx="482.3" cy="452.1" r="1.05" fill="#41b13c"/>
<circle cx="480.2" cy="453.2" r="1.05" fill="#40ae3b"/>
<circle cx="479.1" cy="454.0" r="1.05" fill="#49ab3f"/>
<circle cx="483.8" cy="454.4" r="1.05" fill="#59d04d"/>
<circle cx="481.9" cy="455.5" r="1.05" fill="#42b53d"/>
<circle cx="480.2" cy="456.5" r="1.05" fill="#53c248"/>
<circle cx="485.1" cy="456.8" r="1.05" fill="#50bb46"/>
<circle cx="483.6" cy="457.8" r="1.05" fill="#60e154"/>
<circle cx="481.6" cy="458.9" r="1.05" fill="#3ea93a"/>
<circle cx="485.3" cy="460.1" r="1.05" fill="#5cd750"/>
<circle cx="483.2" cy="461.2" r="1.05" fill="#60e053"/>
<circle cx="420.8" cy="460.1" r="1.05" fill="#2e6c28"/>
<circle cx="422.5" cy="459.3" r="1.05" fill="#2e6c28"/>
<circle cx="424.6" cy="458.3" r="1.05" fill="#1f561d"/>
<circle cx="422.3" cy="462.4" r="1.05" fill="#2e6c28"/>
<circle cx="423.6" cy="462.0" r="1.05" fill="#2e6c28"/>
<circle cx="425.8" cy="460.8" r="1.05" fill="#2e6c28"/>
<circle cx="427.1" cy="460.4" r="1.05" fill="#2e6c28"/>
<circle cx="424.8" cy="464.5" r="1.05" fill="#2e6c28"/>
<circle cx="426.9" cy="463.5" r="1.05" fill="#2e6c28"/>
<circle cx="428.6" cy="462.7" r="1.05" fill="#1f561d"/>
<circle cx="426.2" cy="466.9" r="1.05" fill="#2e6c28"/>
<circle cx="427.9" cy="466.2" r="1.05" fill="#2e6c28"/>
<circle cx="430.0" cy="465.1" r="1.05" fill="#2e6c28"/>
<circle cx="427.8" cy="469.2" r="1.05" fill="#2e6c28"/>
<circle cx="429.0" cy="468.8" r="1.05" fill="#2e6c28"/>
<circle cx="431.2" cy="467.7" r="1.05" fill="#2e6c28"/>
<circle cx="432.5" cy="467.2" r="1.05" fill="#1f561d"/>
<circle cx="430.2" cy="471.3" r="1.05" fill="#2e6c28"/>
<circle cx="432.2" cy="470.3" r="1.05" fill="#2e6c28"/>
<circle cx="434.0" cy="469.5" r="1.05" fill="#2e6c28"/>
<circle cx="431.6" cy="473.7" r="1.05" fill="#2e6c28"/>
<circle cx="433.3" cy="473.0" r="1.05" fill="#2e6c28"/>
<circle cx="435.4" cy="471.9" r="1.05" fill="#2e6c28"/>
<circle cx="422.0" cy="458.0" r="1.05" fill="#61e355"/>
<circle cx="420.7" cy="459.7" r="1.05" fill="#3aa036"/>
<circle cx="425.3" cy="458.3" r="1.05" fill="#4eb644"/>
<circle cx="424.4" cy="459.6" r="1.05" fill="#60e053"/>
<circle cx="422.8" cy="461.4" r="1.05" fill="#5cd750"/>
<circle cx="426.6" cy="461.3" r="1.05" fill="#3eab3a"/>
<circle cx="425.1" cy="463.1" r="1.05" fill="#60e054"/>
<circle cx="424.1" cy="464.5" r="1.05" fill="#359232"/>
<circle cx="428.8" cy="463.1" r="1.05" fill="#55c74a"/>
<circle cx="427.5" cy="464.8" r="1.05" fill="#42b53e"/>
<circle cx="426.1" cy="466.4" r="1.05" fill="#56c94b"/>
<circle cx="430.8" cy="465.0" r="1.05" fill="#4db543"/>
<circle cx="429.8" cy="466.4" r="1.05" fill="#60df53"/>
<circle cx="428.3" cy="468.2" r="1.05" fill="#5cd850"/>
<circle cx="432.1" cy="468.1" r="1.05" fill="#5bd54f"/>
<circle cx="430.6" cy="469.9" r="1.05" fill="#41b33d"/>
<circle cx="429.6" cy="471.3" r="1.05" fill="#4fb945"/>
<circle cx="434.2" cy="469.9" r="1.05" fill="#55c64a"/>
<circle cx="432.9" cy="471.5" r="1.05" fill="#61e355"/>
<circle cx="431.6" cy="473.2" r="1.05" fill="#57ca4b"/>
<circle cx="444.9" cy="461.5" r="1.05" fill="#2e6c28"/>
<circle cx="446.1" cy="460.0" r="1.05" fill="#2e6c28"/>
<circle cx="447.4" cy="458.1" r="1.05" fill="#2e6c28"/>
<circle cx="447.3" cy="462.8" r="1.05" fill="#1f561d"/>
<circle cx="448.2" cy="461.8" r="1.05" fill="#1f561d"/>
<circle cx="449.6" cy="459.8" r="1.05" fill="#2e6c28"/>
<circle cx="450.6" cy="458.8" r="1.05" fill="#2e6c28"/>
<circle cx="450.5" cy="463.5" r="1.05" fill="#2e6c28"/>
<circle cx="451.8" cy="461.7" r="1.05" fill="#1f561d"/>
<circle cx="453.0" cy="460.1" r="1.05" fill="#2e6c28"/>
<circle cx="452.8" cy="465.1" r="1.05" fill="#2e6c28"/>
<circle cx="454.0" cy="463.6" r="1.05" fill="#2e6c28"/>
<circle cx="455.3" cy="461.7" r="1.05" fill="#2e6c28"/>
<circle cx="455.2" cy="466.3" r="1.05" fill="#2e6c28"/>
<circle cx="456.1" cy="465.5" r="1.05" fill="#2e6c28"/>
<circle cx="457.5" cy="463.5" r="1.05" fill="#1f561d"/>
<circle cx="458.5" cy="462.4" r="1.05" fill="#2e6c28"/>
<circle cx="458.4" cy="467.2" r="1.05" fill="#2e6c28"/>
<circle cx="459.7" cy="465.4" r="1.05" fill="#2e6c28"/>
<circle cx="460.9" cy="463.7" r="1.05" fill="#1f561d"/>
<circle cx="460.7" cy="468.7" r="1.05" fill="#2e6c28"/>
<circle cx="461.8" cy="467.3" r="1.05" fill="#2e6c28"/>
<circle cx="463.2" cy="465.3" r="1.05" fill="#2e6c28"/>
<circle cx="464.0" cy="469.1" r="1.05" fill="#2e6c28"/>
<circle cx="465.4" cy="467.1" r="1.05" fill="#1f561d"/>
<circle cx="445.0" cy="459.0" r="1.05" fill="#42b53e"/>
<circle cx="444.6" cy="461.1" r="1.05" fill="#3aa036"/>
<circle cx="448.1" cy="457.7" r="1.05" fill="#359131"/>
<circle cx="447.8" cy="459.4" r="1.05" fill="#60e053"/>
<circle cx="447.3" cy="461.7" r="1.05" fill="#3fac3a"/>
<circle cx="450.7" cy="459.8" r="1.05" fill="#5bd650"/>
<circle cx="450.1" cy="462.1" r="1.05" fill="#60e054"/>
<circle cx="449.8" cy="463.8" r="1.05" fill="#369332"/>
<circle cx="453.4" cy="460.4" r="1.05" fill="#55c64a"/>
<circle cx="453.0" cy="462.5" r="1.05" fill="#61e355"/>
<circle cx="452.5" cy="464.6" r="1.05" fill="#57ca4b"/>
<circle cx="456.0" cy="461.3" r="1.05" fill="#4db343"/>
<circle cx="455.8" cy="462.8" r="1.05" fill="#5fdf53"/>
<circle cx="455.2" cy="465.2" r="1.05" fill="#5dd951"/>
<circle cx="458.6" cy="463.3" r="1.05" fill="#3ea939"/>
<circle cx="458.1" cy="465.6" r="1.05" fill="#60e154"/>
<circle cx="457.8" cy="467.4" r="1.05" fill="#50ba45"/>
<circle cx="461.3" cy="463.9" r="1.05" fill="#54c449"/>
<circle cx="460.9" cy="465.9" r="1.05" fill="#61e355"/>
<circle cx="460.4" cy="468.1" r="1.05" fill="#3ba337"/>
<circle cx="463.9" cy="464.8" r="1.05" fill="#4cb142"/>
<circle cx="463.8" cy="466.3" r="1.05" fill="#5fde53"/>
<circle cx="463.2" cy="468.7" r="1.05" fill="#5dda51"/>
<circle cx="463.1" cy="469.9" r="1.05" fill="#48a93f"/>
<circle cx="450.1" cy="443.5" r="1.05" fill="#2e6c28"/>
<circle cx="451.9" cy="443.4" r="1.05" fill="#1f561d"/>
<circle cx="454.2" cy="443.2" r="1.05" fill="#2e6c28"/>
<circle cx="450.6" cy="446.2" r="1.05" fill="#1f561d"/>
<circle cx="451.9" cy="446.3" r="1.05" fill="#2e6c28"/>
<circle cx="454.3" cy="446.1" r="1.05" fill="#2e6c28"/>
<circle cx="455.8" cy="446.1" r="1.05" fill="#2e6c28"/>
<circle cx="452.0" cy="449.1" r="1.05" fill="#2e6c28"/>
<circle cx="454.2" cy="448.9" r="1.05" fill="#2e6c28"/>
<circle cx="456.2" cy="448.8" r="1.05" fill="#2e6c28"/>
<circle cx="452.4" cy="451.8" r="1.05" fill="#2e6c28"/>
<circle cx="454.0" cy="451.8" r="1.05" fill="#2e6c28"/>
<circle cx="456.4" cy="451.6" r="1.05" fill="#2e6c28"/>
<circle cx="454.0" cy="454.7" r="1.05" fill="#2e6c28"/>
<circle cx="456.4" cy="454.4" r="1.05" fill="#2e6c28"/>
<circle cx="458.2" cy="454.4" r="1.05" fill="#1f561d"/>
<circle cx="454.3" cy="457.4" r="1.05" fill="#2e6c28"/>
<circle cx="456.2" cy="457.3" r="1.05" fill="#2e6c28"/>
<circle cx="458.5" cy="457.1" r="1.05" fill="#2e6c28"/>
<circle cx="454.8" cy="460.1" r="1.05" fill="#2e6c28"/>
<circle cx="456.2" cy="460.2" r="1.05" fill="#2e6c28"/>
<circle cx="458.6" cy="459.9" r="1.05" fill="#2e6c28"/>
<circle cx="460.0" cy="460.0" r="1.05" fill="#2e6c28"/>
<circle cx="452.0" cy="442.0" r="1.05" fill="#42b53e"/>
<circle cx="450.1" cy="443.0" r="1.05" fill="#56c94b"/>
<circle cx="455.0" cy="443.5" r="1.05" fill="#4db443"/>
<circle cx="453.7" cy="444.3" r="1.05" fill="#5fdf53"/>
<circle cx="451.6" cy="445.4" r="1.05" fill="#3fad3b"/>
<circle cx="455.2" cy="446.7" r="1.05" fill="#5ad34e"/>
<circle cx="453.2" cy="447.8" r="1.05" fill="#61e254"/>
<circle cx="451.6" cy="448.8" r="1.05" fill="#51bd46"/>
<circle cx="456.5" cy="449.2" r="1.05" fill="#52c048"/>
<circle cx="454.9" cy="450.1" r="1.05" fill="#61e254"/>
<circle cx="452.9" cy="451.2" r="1.05" fill="#59d04e"/>
<circle cx="457.5" cy="451.7" r="1.05" fill="#49aa3f"/>
<circle cx="456.5" cy="452.5" r="1.05" fill="#5edb51"/>
<circle cx="454.4" cy="453.6" r="1.05" fill="#5fde53"/>
<circle cx="453.2" cy="454.4" r="1.05" fill="#4cb142"/>
<circle cx="458.0" cy="454.9" r="1.05" fill="#57cb4c"/>
<circle cx="456.0" cy="456.0" r="1.05" fill="#42b53e"/>
<circle cx="454.2" cy="457.0" r="1.05" fill="#55c64a"/>
<circle cx="459.1" cy="457.4" r="1.05" fill="#4eb744"/>
<circle cx="457.7" cy="458.3" r="1.05" fill="#60e053"/>
<circle cx="455.6" cy="459.4" r="1.05" fill="#5cd750"/>
<circle cx="459.3" cy="460.7" r="1.05" fill="#5bd54f"/>
<circle cx="457.2" cy="461.8" r="1.05" fill="#60e154"/>
<circle cx="455.7" cy="462.7" r="1.05" fill="#369432"/>
<circle cx="467.1" cy="457.3" r="1.05" fill="#2e6c28"/>
<circle cx="468.7" cy="456.3" r="1.05" fill="#2e6c28"/>
<circle cx="470.5" cy="454.9" r="1.05" fill="#2e6c28"/>
<circle cx="470.0" cy="458.8" r="1.05" fill="#1f561d"/>
<circle cx="471.9" cy="457.4" r="1.05" fill="#1f561d"/>
<circle cx="473.3" cy="456.6" r="1.05" fill="#2e6c28"/>
<circle cx="471.6" cy="461.1" r="1.05" fill="#2e6c28"/>
<circle cx="473.3" cy="459.9" r="1.05" fill="#1f561d"/>
<circle cx="475.0" cy="458.7" r="1.05" fill="#1f561d"/>
<circle cx="473.3" cy="463.2" r="1.05" fill="#2e6c28"/>
<circle cx="474.6" cy="462.5" r="1.05" fill="#2e6c28"/>
<circle cx="476.5" cy="461.1" r="1.05" fill="#2e6c28"/>
<circle cx="477.7" cy="460.5" r="1.05" fill="#2e6c28"/>
<circle cx="476.1" cy="464.9" r="1.05" fill="#2e6c28"/>
<circle cx="477.9" cy="463.6" r="1.05" fill="#2e6c28"/>
<circle cx="479.5" cy="462.5" r="1.05" fill="#2e6c28"/>
<circle cx="477.7" cy="467.1" r="1.05" fill="#2e6c28"/>
<circle cx="479.2" cy="466.2" r="1.05" fill="#2e6c28"/>
<circle cx="481.1" cy="464.8" r="1.05" fill="#2e6c28"/>
<circle cx="468.0" cy="455.0" r="1.05" fill="#61e355"/>
<circle cx="466.9" cy="456.8" r="1.05" fill="#56c94b"/>
<circle cx="471.3" cy="454.7" r="1.05" fill="#4cb343"/>
<circle cx="470.7" cy="456.1" r="1.05" fill="#41b13c"/>
<circle cx="469.4" cy="458.1" r="1.05" fill="#5dda51"/>
<circle cx="469.0" cy="459.3" r="1.05" fill="#48a93f"/>
<circle cx="473.2" cy="457.3" r="1.05" fill="#59d14e"/>
<circle cx="472.0" cy="459.3" r="1.05" fill="#61e254"/>
<circle cx="471.1" cy="461.0" r="1.05" fill="#52c047"/>
<circle cx="475.6" cy="458.8" r="1.05" fill="#51bd46"/>
<circle cx="474.7" cy="460.4" r="1.05" fill="#42b43d"/>
<circle cx="473.5" cy="462.4" r="1.05" fill="#5ad34f"/>
<circle cx="477.3" cy="461.5" r="1.05" fill="#3fac3a"/>
<circle cx="476.1" cy="463.6" r="1.05" fill="#60e053"/>
<circle cx="475.4" cy="465.0" r="1.05" fill="#4eb744"/>
<circle cx="479.8" cy="462.9" r="1.05" fill="#55c64a"/>
<circle cx="478.8" cy="464.7" r="1.05" fill="#61e355"/>
<circle cx="477.7" cy="466.5" r="1.05" fill="#57cc4c"/>
<circle cx="405.5" cy="437.9" r="1.05" fill="#2e6c28"/>
<circle cx="407.4" cy="437.4" r="1.05" fill="#1f561d"/>
<circle cx="409.6" cy="436.6" r="1.05" fill="#1f561d"/>
<circle cx="406.7" cy="440.4" r="1.05" fill="#2e6c28"/>
<circle cx="408.3" cy="440.1" r="1.05" fill="#1f561d"/>
<circle cx="410.6" cy="439.3" r="1.05" fill="#2e6c28"/>
<circle cx="409.2" cy="442.8" r="1.05" fill="#2e6c28"/>
<circle cx="411.5" cy="442.0" r="1.05" fill="#2e6c28"/>
<circle cx="413.1" cy="441.6" r="1.05" fill="#2e6c28"/>
<circle cx="410.2" cy="445.4" r="1.05" fill="#2e6c28"/>
<circle cx="412.3" cy="444.7" r="1.05" fill="#2e6c28"/>
<circle cx="414.3" cy="444.1" r="1.05" fill="#2e6c28"/>
<circle cx="411.3" cy="448.0" r="1.05" fill="#2e6c28"/>
<circle cx="413.1" cy="447.4" r="1.05" fill="#2e6c28"/>
<circle cx="415.3" cy="446.7" r="1.05" fill="#2e6c28"/>
<circle cx="407.0" cy="436.0" r="1.05" fill="#61e355"/>
<circle cx="405.4" cy="437.5" r="1.05" fill="#55c84a"/>
<circle cx="410.2" cy="436.8" r="1.05" fill="#4fba45"/>
<circle cx="409.0" cy="438.1" r="1.05" fill="#60e154"/>
<circle cx="407.2" cy="439.6" r="1.05" fill="#3ea939"/>
<circle cx="411.7" cy="439.1" r="1.05" fill="#49aa3f"/>
<circle cx="410.9" cy="440.2" r="1.05" fill="#40af3b"/>
<circle cx="409.0" cy="441.8" r="1.05" fill="#40b03c"/>
<circle cx="408.1" cy="442.9" r="1.05" fill="#4aad40"/>
<circle cx="412.7" cy="442.3" r="1.05" fill="#5ad24e"/>
<circle cx="411.0" cy="443.9" r="1.05" fill="#61e254"/>
<circle cx="409.6" cy="445.2" r="1.05" fill="#379633"/>
<circle cx="414.5" cy="444.5" r="1.05" fill="#54c549"/>
<circle cx="412.9" cy="445.9" r="1.05" fill="#61e355"/>
<circle cx="411.3" cy="447.4" r="1.05" fill="#57ca4b"/>
<circle cx="416.1" cy="446.8" r="1.05" fill="#4eb744"/>
<circle cx="434.0" cy="449.5" r="1.05" fill="#747479"/>
<circle cx="435.9" cy="449.4" r="1.05" fill="#54545c"/>
<circle cx="438.2" cy="449.3" r="1.05" fill="#747479"/>
<circle cx="434.6" cy="452.2" r="1.05" fill="#747479"/>
<circle cx="435.9" cy="452.3" r="1.05" fill="#747479"/>
<circle cx="438.3" cy="452.1" r="1.05" fill="#747479"/>
<circle cx="439.8" cy="452.1" r="1.05" fill="#54545c"/>
<circle cx="436.0" cy="455.1" r="1.05" fill="#54545c"/>
<circle cx="438.2" cy="455.0" r="1.05" fill="#747479"/>
<circle cx="440.2" cy="454.8" r="1.05" fill="#747479"/>
<circle cx="436.3" cy="457.8" r="1.05" fill="#747479"/>
<circle cx="438.0" cy="457.8" r="1.05" fill="#747479"/>
<circle cx="440.4" cy="457.6" r="1.05" fill="#54545c"/>
<circle cx="438.0" cy="460.7" r="1.05" fill="#747479"/>
<circle cx="440.4" cy="460.5" r="1.05" fill="#747479"/>
<circle cx="442.1" cy="460.5" r="1.05" fill="#747479"/>
<circle cx="436.0" cy="448.0" r="1.05" fill="#b1b1c1"/>
<circle cx="434.1" cy="449.0" r="1.05" fill="#d7d7df"/>
<circle cx="439.0" cy="449.5" r="1.05" fill="#c1c1c9"/>
<circle cx="437.6" cy="450.4" r="1.05" fill="#aeaebd"/>
<circle cx="435.5" cy="451.5" r="1.05" fill="#a8a8b7"/>
<circle cx="439.1" cy="452.8" r="1.05" fill="#e3e3eb"/>
<circle cx="437.0" cy="453.9" r="1.05" fill="#afafbf"/>
<circle cx="435.5" cy="454.8" r="1.05" fill="#c9c9d0"/>
<circle cx="440.4" cy="455.3" r="1.05" fill="#9797a5"/>
<circle cx="438.7" cy="456.2" r="1.05" fill="#b0b0c0"/>
<circle cx="436.7" cy="457.3" r="1.05" fill="#a0a0af"/>
<circle cx="441.4" cy="457.8" r="1.05" fill="#babac1"/>
<circle cx="440.3" cy="458.6" r="1.05" fill="#ababbb"/>
<circle cx="438.1" cy="459.7" r="1.05" fill="#ababbb"/>
<circle cx="437.0" cy="460.5" r="1.05" fill="#b9b9c0"/>
<circle cx="441.7" cy="461.0" r="1.05" fill="#dddde6"/>
<circle cx="439.7" cy="462.1" r="1.05" fill="#f3f3fc"/>
<circle cx="468.6" cy="458.0" r="1.05" fill="#54545c"/>
<circle cx="470.3" cy="457.4" r="1.05" fill="#747479"/>
<circle cx="472.4" cy="456.5" r="1.05" fill="#747479"/>
<circle cx="471.0" cy="460.2" r="1.05" fill="#54545c"/>
<circle cx="473.2" cy="459.3" r="1.05" fill="#747479"/>
<circle cx="474.8" cy="458.8" r="1.05" fill="#54545c"/>
<circle cx="471.9" cy="462.8" r="1.05" fill="#54545c"/>
<circle cx="473.8" cy="462.1" r="1.05" fill="#54545c"/>
<circle cx="470.0" cy="456.0" r="1.05" fill="#f3f3fc"/>
<circle cx="468.5" cy="457.5" r="1.05" fill="#9c9cab"/>
<circle cx="473.3" cy="456.5" r="1.05" fill="#bebec6"/>
<circle cx="472.4" cy="457.7" r="1.05" fill="#eeeef7"/>
<circle cx="470.7" cy="459.4" r="1.05" fill="#eaeaf3"/>
<circle cx="469.9" cy="460.4" r="1.05" fill="#848490"/>
<circle cx="474.6" cy="459.5" r="1.05" fill="#dedee6"/>
<circle cx="473.0" cy="461.1" r="1.05" fill="#f3f3fc"/>
<circle cx="471.6" cy="462.5" r="1.05" fill="#d0d0d8"/>
</g>
</g>
<circle cx="409.7" cy="437" r="6" fill="none" stroke="#f2f2f2" stroke-width="1.2"/>
<line x1="401.8" y1="392.4" x2="407" y2="431.2" stroke="#f2f2f2" stroke-width="0.9" />
<circle cx="462.3" cy="403.5" r="6.6" fill="none" stroke="#f2f2f2" stroke-width="1.2"/>
<line x1="467.8" y1="399.4" x2="485.8" y2="387.7" stroke="#f2f2f2" stroke-width="0.9" />
<circle cx="449.3" cy="466" r="5.8" fill="none" stroke="#f2f2f2" stroke-width="1.2"/>
<line x1="451.2" y1="471.6" x2="456.5" y2="493.4" stroke="#f2f2f2" stroke-width="0.9" />
<text x="377.7" y="388.5" font-size="8.6" text-anchor="start" fill="#a8248a" stroke="#a8248a" stroke-width="0.2" textLength="33.8" lengthAdjust="spacingAndGlyphs" >H3c1 S87</text>
<text x="470" y="384" font-size="8.6" text-anchor="start" fill="#cfc22a" stroke="#cfc22a" stroke-width="0.2" textLength="41.5" lengthAdjust="spacingAndGlyphs" >H2bc4 Q48</text>
<text x="441.2" y="504.5" font-size="8.6" text-anchor="start" fill="#d9a63a" stroke="#d9a63a" stroke-width="0.2" textLength="40.3" lengthAdjust="spacingAndGlyphs" >H3c2 A115</text>
</svg>
</body></html>
